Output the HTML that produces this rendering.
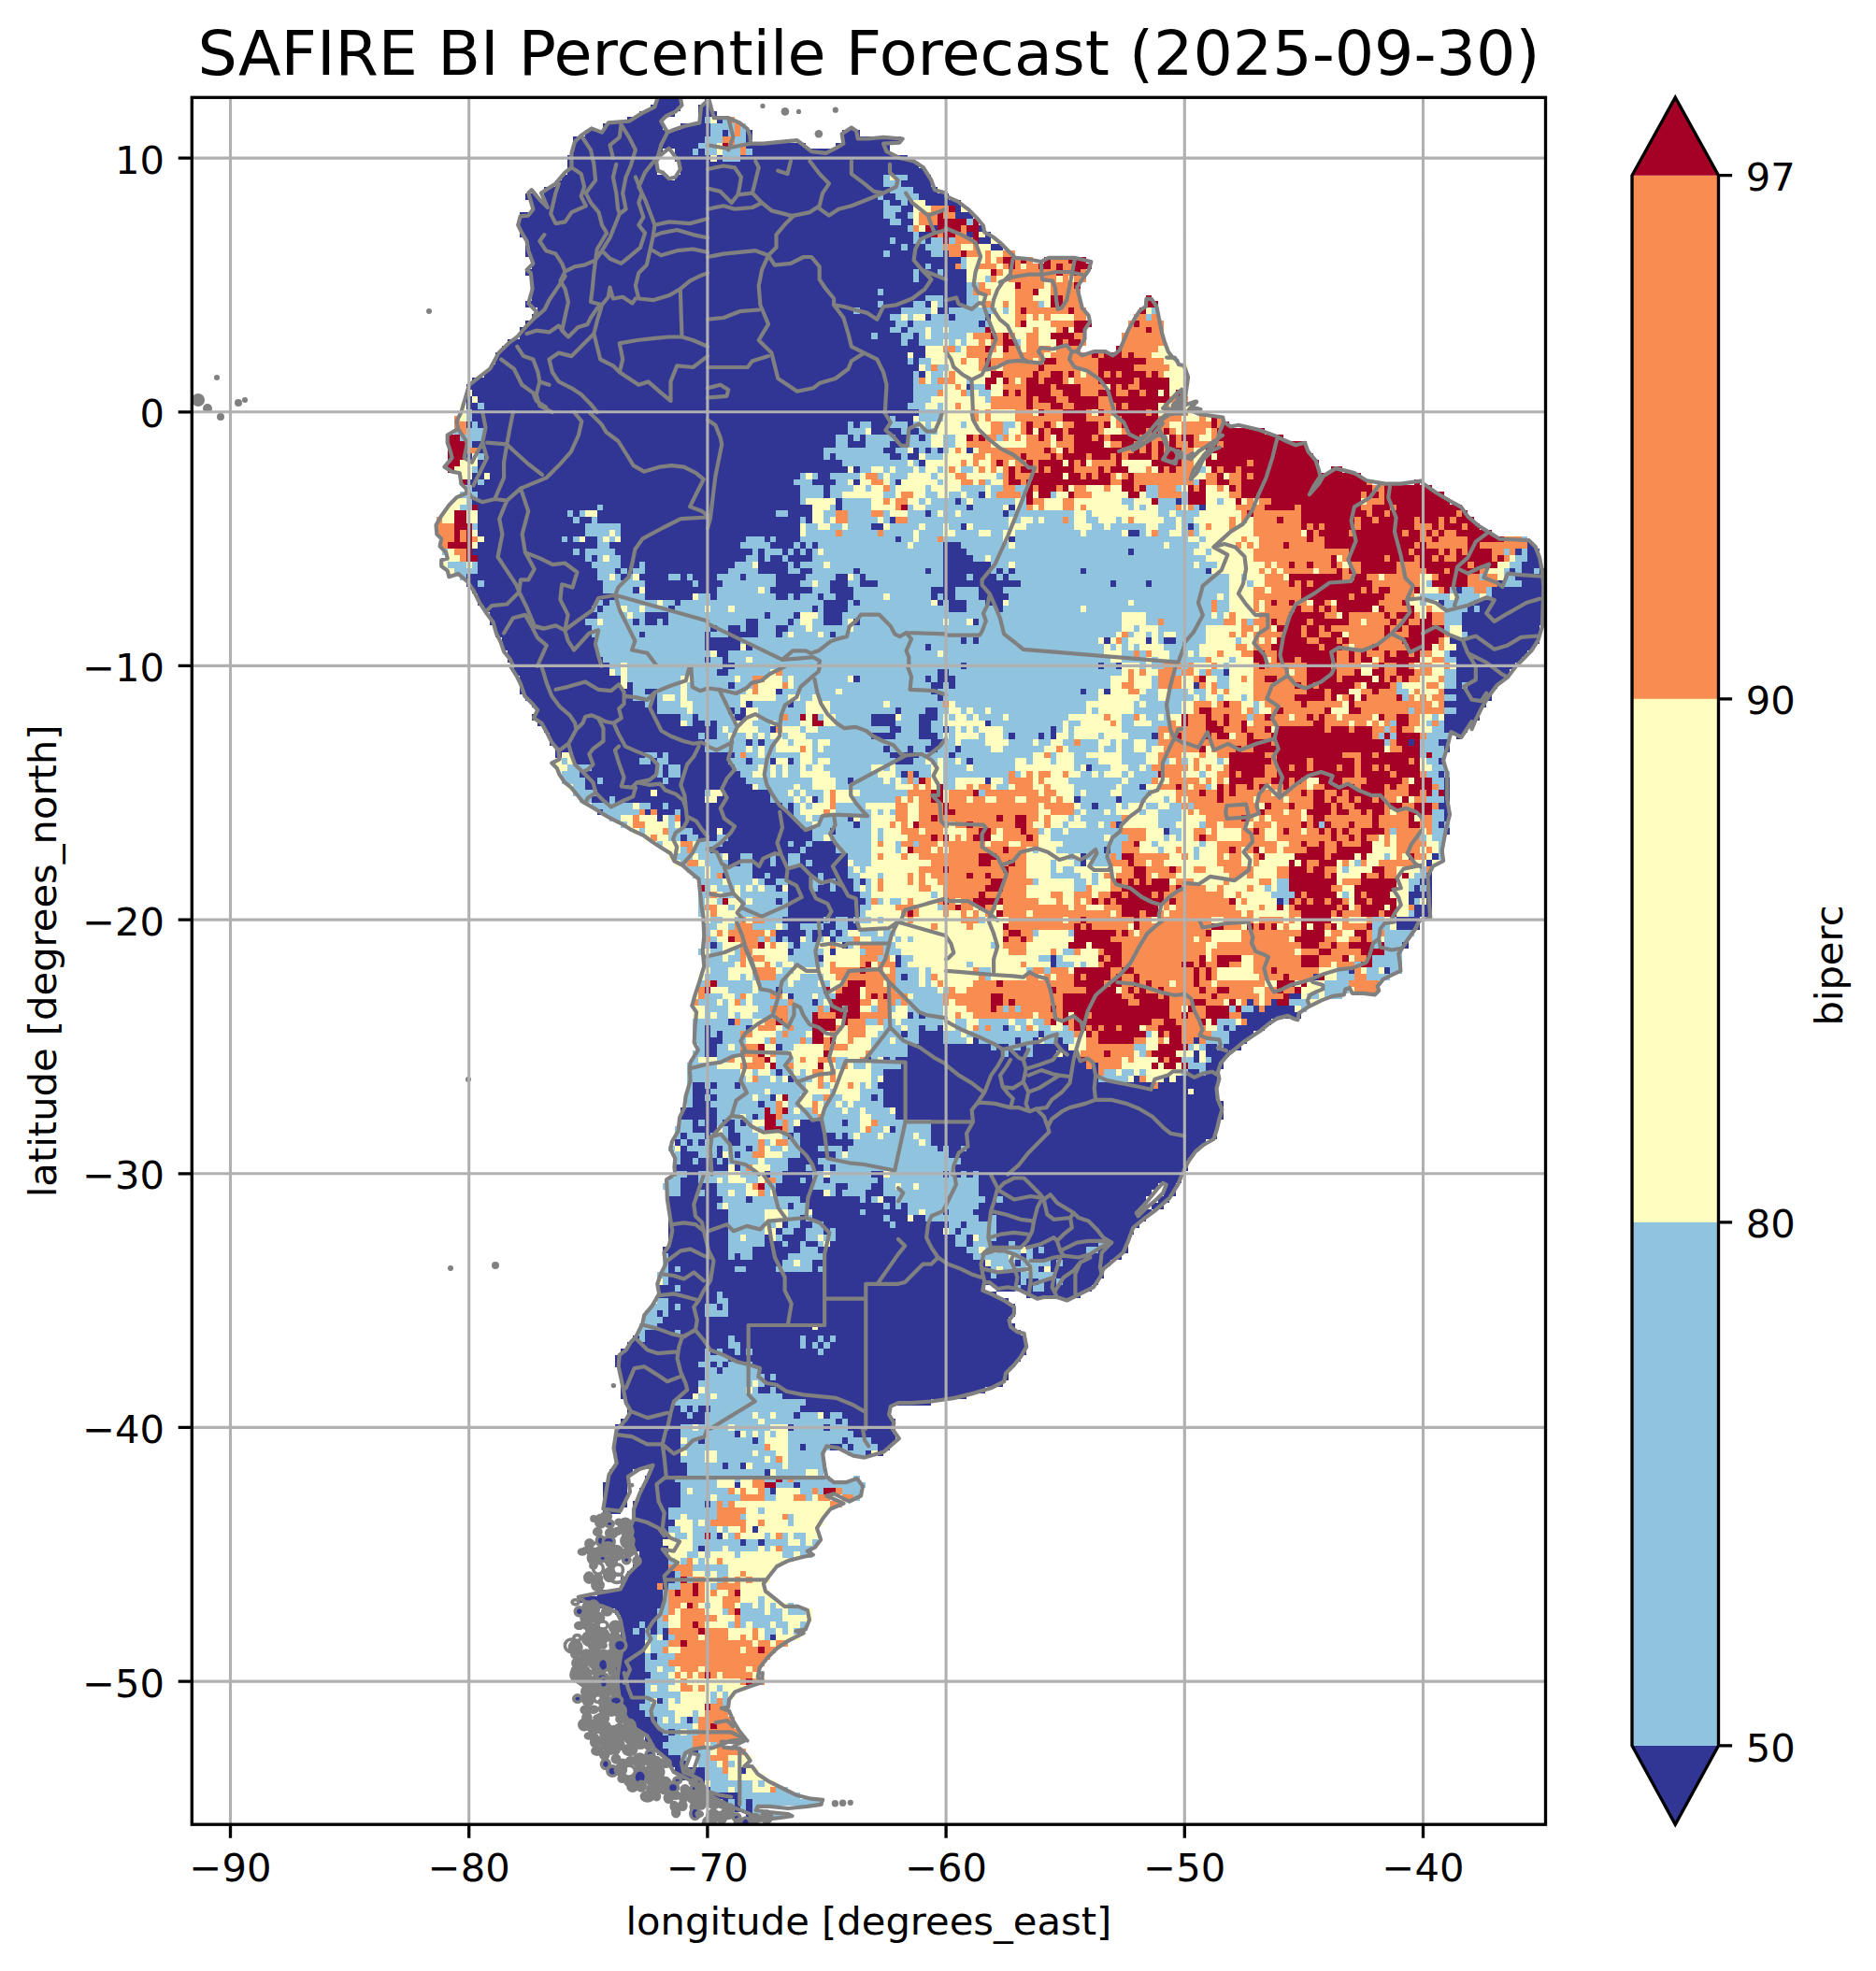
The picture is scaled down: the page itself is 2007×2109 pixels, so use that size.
<!DOCTYPE html><html><head><meta charset="utf-8"><title>SAFIRE BI Percentile Forecast</title><style>html,body{margin:0;padding:0;background:#fff}svg{display:block}text{font-family:"DejaVu Sans","Liberation Sans",sans-serif;fill:#000}</style></head><body>
<svg width="2007" height="2109" viewBox="0 0 2007 2109">
<rect width="2007" height="2109" fill="#fff"/>
<defs><clipPath id="ax"><rect x="205.3" y="104.3" width="1448.2" height="1847.9"/></clipPath></defs>
<g clip-path="url(#ax)">
<g shape-rendering="crispEdges">
<path d="M702.7 105.0H728.2V111.8H702.7ZM753.7 105.0H760.1V111.8H753.7ZM696.3 111.8H728.2V118.6H696.3ZM747.3 111.8H760.1V118.6H747.3ZM683.5 118.6H721.8V125.4H683.5ZM747.3 118.6H766.5V125.4H747.3ZM670.8 125.4H709.0V132.1H670.8ZM747.3 125.4H785.6V132.1H747.3ZM645.2 132.1H709.0V138.9H645.2ZM728.2 132.1H798.4V138.9H728.2ZM626.1 138.9H804.8V145.7H626.1ZM900.5 138.9H919.6V145.7H900.5ZM613.3 145.7H804.8V152.5H613.3ZM900.5 145.7H964.2V152.5H900.5ZM613.3 152.5H862.2V159.3H613.3ZM894.1 152.5H951.5V159.3H894.1ZM613.3 159.3H709.0V166.1H613.3ZM721.8 159.3H951.5V166.1H721.8ZM721.8 166.1H970.6V172.9H721.8ZM728.2 172.9H983.4V179.7H728.2ZM607.0 166.1H702.7V186.5H607.0ZM728.2 179.7H989.8V186.5H728.2ZM600.6 186.5H715.4V193.3H600.6ZM721.8 186.5H996.1V193.3H721.8ZM594.2 193.3H996.1V200.1H594.2ZM581.5 200.1H1002.5V206.9H581.5ZM562.3 206.9H575.1V213.6H562.3ZM581.5 206.9H1015.3V213.6H581.5ZM568.7 213.6H1028.0V220.4H568.7ZM568.7 220.4H1034.4V227.2H568.7ZM555.9 227.2H1040.8V234.0H555.9ZM555.9 234.0H1047.2V240.8H555.9ZM555.9 240.8H1053.6V247.6H555.9ZM555.9 247.6H1059.9V254.4H555.9ZM562.3 254.4H1066.3V261.2H562.3ZM562.3 261.2H1072.7V268.0H562.3ZM562.3 268.0H1085.5V274.8H562.3ZM568.7 274.8H1104.6V281.6H568.7ZM1117.4 274.8H1162.0V281.6H1117.4ZM568.7 281.6H1168.4V288.4H568.7ZM562.3 288.4H1162.0V295.1H562.3ZM568.7 295.1H1162.0V301.9H568.7ZM568.7 301.9H1155.7V322.3H568.7ZM1225.8 315.5H1232.2V322.3H1225.8ZM562.3 322.3H1155.7V329.1H562.3ZM1225.8 322.3H1238.6V329.1H1225.8ZM575.1 329.1H1162.0V335.9H575.1ZM1219.4 329.1H1238.6V335.9H1219.4ZM568.7 335.9H1162.0V342.7H568.7ZM1213.1 335.9H1238.6V342.7H1213.1ZM562.3 342.7H1168.4V349.5H562.3ZM1206.7 342.7H1245.0V356.3H1206.7ZM555.9 349.5H1162.0V363.1H555.9ZM543.2 363.1H1162.0V369.9H543.2ZM1200.3 356.3H1245.0V369.9H1200.3ZM536.8 369.9H1155.7V376.6H536.8ZM1193.9 369.9H1251.3V376.6H1193.9ZM530.4 376.6H1251.3V383.4H530.4ZM530.4 383.4H1257.7V390.2H530.4ZM524.0 390.2H1270.5V397.0H524.0ZM517.6 397.0H1270.5V403.8H517.6ZM504.9 403.8H1270.5V410.6H504.9ZM498.5 410.6H1270.5V431.0H498.5ZM492.1 431.0H1276.9V444.6H492.1ZM485.8 444.6H1308.8V451.4H485.8ZM485.8 451.4H1315.2V458.1H485.8ZM485.8 458.1H1353.4V464.9H485.8ZM479.4 464.9H1372.6V471.7H479.4ZM479.4 471.7H1398.1V485.3H479.4ZM479.4 485.3H1404.5V492.1H479.4ZM479.4 492.1H1410.8V505.7H479.4ZM1423.6 498.9H1436.4V505.7H1423.6ZM492.1 505.7H1455.5V512.5H492.1ZM492.1 512.5H1468.3V519.3H492.1ZM1512.9 512.5H1519.3V519.3H1512.9ZM498.5 519.3H1532.1V526.1H498.5ZM492.1 526.1H1544.8V532.9H492.1ZM485.8 532.9H1551.2V539.6H485.8ZM479.4 539.6H1564.0V546.4H479.4ZM473.0 546.4H1570.3V553.2H473.0ZM466.6 553.2H1576.7V560.0H466.6ZM466.6 560.0H1583.1V566.8H466.6ZM466.6 566.8H1595.9V573.6H466.6ZM473.0 573.6H1634.1V580.4H473.0ZM473.0 580.4H1640.5V587.2H473.0ZM473.0 587.2H1646.9V594.0H473.0ZM479.4 594.0H1646.9V600.8H479.4ZM473.0 600.8H1646.9V607.6H473.0ZM479.4 607.6H1653.3V614.4H479.4ZM492.1 614.4H1653.3V621.1H492.1ZM498.5 621.1H1653.3V627.9H498.5ZM504.9 627.9H1653.3V634.7H504.9ZM511.3 634.7H1653.3V648.3H511.3ZM517.6 648.3H1653.3V655.1H517.6ZM524.0 655.1H1653.3V668.7H524.0ZM530.4 668.7H1646.9V682.3H530.4ZM536.8 682.3H1646.9V689.1H536.8ZM536.8 689.1H1640.5V695.9H536.8ZM543.2 695.9H1634.1V702.6H543.2ZM543.2 702.6H1627.8V709.4H543.2ZM549.5 709.4H1621.4V716.2H549.5ZM549.5 716.2H1615.0V723.0H549.5ZM555.9 723.0H1608.6V729.8H555.9ZM555.9 729.8H1602.2V736.6H555.9ZM555.9 736.6H1595.9V743.4H555.9ZM562.3 743.4H1595.9V750.2H562.3ZM568.7 750.2H1589.5V757.0H568.7ZM575.1 757.0H1583.1V763.8H575.1ZM568.7 763.8H1583.1V770.6H568.7ZM575.1 770.6H1576.7V777.4H575.1ZM581.5 777.4H1570.3V784.1H581.5ZM1557.6 784.1H1564.0V790.9H1557.6ZM587.8 784.1H1551.2V797.7H587.8ZM594.2 797.7H1551.2V804.5H594.2ZM594.2 804.5H1544.8V824.9H594.2ZM600.6 824.9H1551.2V838.5H600.6ZM607.0 838.5H1551.2V845.3H607.0ZM613.3 845.3H1551.2V852.1H613.3ZM619.7 852.1H1551.2V858.9H619.7ZM632.5 858.9H1551.2V865.6H632.5ZM638.9 865.6H1551.2V872.4H638.9ZM651.6 872.4H1551.2V879.2H651.6ZM664.4 879.2H1551.2V886.0H664.4ZM677.1 886.0H1551.2V892.8H677.1ZM689.9 892.8H1544.8V899.6H689.9ZM702.7 899.6H1544.8V906.4H702.7ZM715.4 906.4H1544.8V920.0H715.4ZM721.8 920.0H1538.5V926.8H721.8ZM734.6 926.8H1532.1V933.6H734.6ZM741.0 933.6H1532.1V940.4H741.0ZM747.3 940.4H1532.1V981.1H747.3ZM753.7 981.1H1519.3V994.7H753.7ZM753.7 994.7H1512.9V1001.5H753.7ZM753.7 1001.5H1506.5V1015.1H753.7ZM747.3 1015.1H1500.2V1021.9H747.3ZM753.7 1021.9H1500.2V1042.2H753.7ZM747.3 1042.2H1487.4V1049.0H747.3ZM747.3 1049.0H1474.7V1062.6H747.3ZM741.0 1062.6H1436.4V1069.4H741.0ZM741.0 1069.4H1410.8V1076.2H741.0ZM741.0 1076.2H1398.1V1083.0H741.0ZM741.0 1083.0H1391.7V1089.8H741.0ZM741.0 1089.8H1359.8V1096.6H741.0ZM741.0 1096.6H1353.4V1103.4H741.0ZM741.0 1103.4H1340.7V1110.1H741.0ZM741.0 1110.1H1334.3V1116.9H741.0ZM747.3 1116.9H1327.9V1123.7H747.3ZM741.0 1123.7H1315.2V1130.5H741.0ZM741.0 1130.5H1308.8V1137.3H741.0ZM734.6 1137.3H1308.8V1144.1H734.6ZM734.6 1144.1H1302.4V1178.1H734.6ZM734.6 1178.1H1308.8V1184.9H734.6ZM728.2 1184.9H1308.8V1198.4H728.2ZM728.2 1198.4H1302.4V1205.2H728.2ZM721.8 1205.2H1302.4V1218.8H721.8ZM721.8 1218.8H1289.6V1225.6H721.8ZM715.4 1225.6H1283.2V1232.4H715.4ZM721.8 1232.4H1276.9V1239.2H721.8ZM721.8 1239.2H1270.5V1252.8H721.8ZM721.8 1252.8H1264.1V1259.6H721.8ZM715.4 1259.6H1264.1V1266.4H715.4ZM709.0 1266.4H1238.6V1273.1H709.0ZM715.4 1273.1H1232.2V1279.9H715.4ZM1245.0 1266.4H1257.7V1279.9H1245.0ZM1238.6 1279.9H1251.3V1286.7H1238.6ZM715.4 1279.9H1225.8V1293.5H715.4ZM1232.2 1286.7H1245.0V1293.5H1232.2ZM715.4 1293.5H1232.2V1300.3H715.4ZM715.4 1300.3H1225.8V1307.1H715.4ZM715.4 1307.1H1219.4V1313.9H715.4ZM715.4 1313.9H1213.1V1320.7H715.4ZM715.4 1320.7H1206.7V1334.3H715.4ZM709.0 1334.3H1206.7V1341.1H709.0ZM709.0 1341.1H1200.3V1347.9H709.0ZM709.0 1347.9H1187.5V1354.6H709.0ZM709.0 1354.6H1181.2V1361.4H709.0ZM702.7 1361.4H1181.2V1368.2H702.7ZM702.7 1368.2H1174.8V1375.0H702.7ZM702.7 1375.0H1053.6V1381.8H702.7ZM1066.3 1375.0H1168.4V1381.8H1066.3ZM702.7 1381.8H1066.3V1388.6H702.7ZM1098.2 1381.8H1155.7V1388.6H1098.2ZM702.7 1388.6H1079.1V1395.4H702.7ZM696.3 1395.4H1085.5V1402.2H696.3ZM689.9 1402.2H1085.5V1409.0H689.9ZM689.9 1409.0H1079.1V1415.8H689.9ZM683.5 1415.8H1085.5V1422.6H683.5ZM683.5 1422.6H1091.8V1429.4H683.5ZM677.1 1429.4H1098.2V1436.1H677.1ZM670.8 1436.1H1098.2V1442.9H670.8ZM664.4 1442.9H1098.2V1449.7H664.4ZM658.0 1449.7H1091.8V1456.5H658.0ZM658.0 1456.5H1085.5V1463.3H658.0ZM664.4 1463.3H1079.1V1476.9H664.4ZM664.4 1476.9H1072.7V1483.7H664.4ZM664.4 1483.7H1053.6V1490.5H664.4ZM664.4 1490.5H1034.4V1497.3H664.4ZM670.8 1497.3H996.1V1504.1H670.8ZM670.8 1504.1H951.5V1517.6H670.8ZM664.4 1517.6H957.9V1524.4H664.4ZM658.0 1524.4H957.9V1544.8H658.0ZM658.0 1544.8H951.5V1551.6H658.0ZM906.8 1551.6H945.1V1558.4H906.8ZM658.0 1551.6H881.3V1572.0H658.0ZM651.6 1572.0H677.1V1578.8H651.6ZM696.3 1572.0H881.3V1578.8H696.3ZM651.6 1578.8H670.8V1585.6H651.6ZM689.9 1578.8H887.7V1585.6H689.9ZM913.2 1578.8H919.6V1585.6H913.2ZM689.9 1585.6H926.0V1592.4H689.9ZM683.5 1592.4H919.6V1599.1H683.5ZM683.5 1599.1H887.7V1605.9H683.5ZM900.5 1599.1H919.6V1605.9H900.5ZM645.2 1585.6H670.8V1612.7H645.2ZM677.1 1605.9H900.5V1612.7H677.1ZM645.2 1612.7H664.4V1619.5H645.2ZM677.1 1612.7H887.7V1619.5H677.1ZM677.1 1619.5H881.3V1633.1H677.1ZM670.8 1633.1H874.9V1646.7H670.8ZM677.1 1646.7H874.9V1653.5H677.1ZM677.1 1653.5H868.5V1660.3H677.1ZM683.5 1660.3H868.5V1667.1H683.5ZM683.5 1667.1H843.0V1673.9H683.5ZM677.1 1673.9H830.3V1680.6H677.1ZM670.8 1680.6H823.9V1687.4H670.8ZM664.4 1687.4H823.9V1694.2H664.4ZM664.4 1694.2H817.5V1701.0H664.4ZM638.9 1701.0H823.9V1707.8H638.9ZM619.7 1707.8H830.3V1714.6H619.7ZM638.9 1714.6H849.4V1721.4H638.9ZM658.0 1721.4H868.5V1728.2H658.0ZM664.4 1728.2H868.5V1735.0H664.4ZM664.4 1735.0H862.2V1748.6H664.4ZM664.4 1748.6H855.8V1755.4H664.4ZM664.4 1755.4H843.0V1762.1H664.4ZM664.4 1762.1H830.3V1768.9H664.4ZM664.4 1768.9H823.9V1775.7H664.4ZM664.4 1775.7H817.5V1782.5H664.4ZM658.0 1782.5H811.1V1796.1H658.0ZM658.0 1796.1H817.5V1802.9H658.0ZM658.0 1802.9H798.4V1809.7H658.0ZM664.4 1809.7H785.6V1816.5H664.4ZM664.4 1816.5H779.2V1836.9H664.4ZM670.8 1836.9H785.6V1843.6H670.8ZM677.1 1843.6H785.6V1850.4H677.1ZM683.5 1850.4H792.0V1857.2H683.5ZM689.9 1857.2H798.4V1864.0H689.9ZM696.3 1864.0H772.9V1870.8H696.3ZM702.7 1870.8H798.4V1877.6H702.7ZM709.0 1877.6H734.6V1884.4H709.0ZM747.3 1877.6H804.8V1884.4H747.3ZM715.4 1884.4H734.6V1891.2H715.4ZM747.3 1884.4H798.4V1891.2H747.3ZM721.8 1891.2H811.1V1898.0H721.8ZM728.2 1898.0H817.5V1904.8H728.2ZM741.0 1904.8H830.3V1911.6H741.0ZM753.7 1911.6H843.0V1918.4H753.7ZM760.1 1918.4H855.8V1925.1H760.1ZM772.9 1925.1H881.3V1931.9H772.9ZM785.6 1931.9H811.1V1938.7H785.6ZM798.4 1938.7H843.0V1945.5H798.4ZM804.8 1945.5H811.1V1952.3H804.8Z" fill="#313695"/>
<path d="M753.7 125.4H760.1V132.1H753.7ZM772.9 125.4H779.2V132.1H772.9ZM760.1 132.1H785.6V138.9H760.1ZM760.1 138.9H772.9V145.7H760.1ZM779.2 138.9H785.6V145.7H779.2ZM792.0 132.1H798.4V145.7H792.0ZM753.7 145.7H772.9V152.5H753.7ZM785.6 145.7H798.4V152.5H785.6ZM747.3 152.5H766.5V159.3H747.3ZM785.6 152.5H792.0V159.3H785.6ZM741.0 159.3H747.3V166.1H741.0ZM753.7 159.3H766.5V166.1H753.7ZM798.4 159.3H804.8V166.1H798.4ZM772.9 159.3H792.0V172.9H772.9ZM945.1 186.5H951.5V193.3H945.1ZM957.9 186.5H970.6V193.3H957.9ZM945.1 193.3H964.2V200.1H945.1ZM951.5 200.1H977.0V206.9H951.5ZM938.7 206.9H945.1V213.6H938.7ZM957.9 206.9H983.4V213.6H957.9ZM945.1 213.6H951.5V220.4H945.1ZM964.2 213.6H970.6V220.4H964.2ZM945.1 220.4H964.2V227.2H945.1ZM945.1 227.2H957.9V234.0H945.1ZM970.6 227.2H977.0V234.0H970.6ZM951.5 234.0H964.2V240.8H951.5ZM1034.4 234.0H1040.8V240.8H1034.4ZM970.6 240.8H977.0V247.6H970.6ZM977.0 247.6H983.4V254.4H977.0ZM951.5 254.4H957.9V261.2H951.5ZM977.0 254.4H989.8V261.2H977.0ZM996.1 254.4H1008.9V261.2H996.1ZM1015.3 254.4H1021.7V261.2H1015.3ZM964.2 261.2H970.6V268.0H964.2ZM989.8 261.2H1008.9V268.0H989.8ZM945.1 268.0H951.5V274.8H945.1ZM996.1 268.0H1008.9V274.8H996.1ZM989.8 281.6H996.1V288.4H989.8ZM1028.0 274.8H1034.4V288.4H1028.0ZM1002.5 288.4H1008.9V295.1H1002.5ZM977.0 288.4H983.4V301.9H977.0ZM1053.6 295.1H1059.9V301.9H1053.6ZM1034.4 301.9H1047.2V308.7H1034.4ZM938.7 308.7H945.1V315.5H938.7ZM1034.4 308.7H1040.8V315.5H1034.4ZM989.8 315.5H1008.9V322.3H989.8ZM938.7 322.3H945.1V329.1H938.7ZM977.0 322.3H989.8V329.1H977.0ZM1002.5 322.3H1008.9V329.1H1002.5ZM1034.4 315.5H1047.2V329.1H1034.4ZM1111.0 322.3H1117.4V329.1H1111.0ZM913.2 329.1H919.6V335.9H913.2ZM964.2 329.1H996.1V335.9H964.2ZM1015.3 329.1H1066.3V335.9H1015.3ZM1072.7 329.1H1079.1V335.9H1072.7ZM1232.2 329.1H1238.6V335.9H1232.2ZM951.5 335.9H964.2V342.7H951.5ZM970.6 335.9H977.0V342.7H970.6ZM996.1 335.9H1015.3V342.7H996.1ZM1021.7 335.9H1053.6V342.7H1021.7ZM1225.8 335.9H1232.2V342.7H1225.8ZM957.9 342.7H970.6V349.5H957.9ZM977.0 342.7H1047.2V349.5H977.0ZM1053.6 342.7H1059.9V349.5H1053.6ZM951.5 349.5H964.2V356.3H951.5ZM970.6 349.5H989.8V356.3H970.6ZM996.1 349.5H1008.9V356.3H996.1ZM1015.3 349.5H1053.6V356.3H1015.3ZM932.4 356.3H938.7V363.1H932.4ZM964.2 356.3H977.0V363.1H964.2ZM983.4 356.3H989.8V363.1H983.4ZM996.1 356.3H1034.4V363.1H996.1ZM964.2 363.1H970.6V369.9H964.2ZM983.4 363.1H1008.9V369.9H983.4ZM1015.3 363.1H1021.7V369.9H1015.3ZM1028.0 363.1H1034.4V369.9H1028.0ZM1085.5 363.1H1091.8V369.9H1085.5ZM1021.7 369.9H1028.0V376.6H1021.7ZM970.6 383.4H977.0V390.2H970.6ZM983.4 383.4H996.1V390.2H983.4ZM989.8 390.2H996.1V397.0H989.8ZM1002.5 390.2H1015.3V397.0H1002.5ZM996.1 397.0H1008.9V403.8H996.1ZM977.0 397.0H983.4V410.6H977.0ZM996.1 403.8H1002.5V410.6H996.1ZM1034.4 403.8H1040.8V410.6H1034.4ZM977.0 410.6H1008.9V417.4H977.0ZM1040.8 410.6H1053.6V417.4H1040.8ZM977.0 417.4H1002.5V424.2H977.0ZM1034.4 417.4H1040.8V424.2H1034.4ZM1047.2 417.4H1059.9V424.2H1047.2ZM977.0 424.2H996.1V431.0H977.0ZM1053.6 424.2H1059.9V431.0H1053.6ZM511.3 431.0H517.6V437.8H511.3ZM970.6 431.0H989.8V437.8H970.6ZM1002.5 431.0H1008.9V437.8H1002.5ZM498.5 437.8H504.9V451.4H498.5ZM951.5 444.6H957.9V451.4H951.5ZM983.4 437.8H1008.9V451.4H983.4ZM504.9 451.4H511.3V458.1H504.9ZM906.8 451.4H913.2V458.1H906.8ZM919.6 451.4H932.4V458.1H919.6ZM951.5 451.4H970.6V458.1H951.5ZM977.0 451.4H983.4V458.1H977.0ZM989.8 451.4H996.1V458.1H989.8ZM1028.0 451.4H1034.4V458.1H1028.0ZM1072.7 451.4H1085.5V458.1H1072.7ZM485.8 458.1H492.1V464.9H485.8ZM498.5 458.1H517.6V464.9H498.5ZM906.8 458.1H926.0V464.9H906.8ZM964.2 458.1H970.6V464.9H964.2ZM983.4 458.1H1002.5V464.9H983.4ZM1072.7 458.1H1079.1V464.9H1072.7ZM492.1 464.9H517.6V471.7H492.1ZM913.2 464.9H919.6V471.7H913.2ZM926.0 464.9H957.9V471.7H926.0ZM970.6 464.9H983.4V471.7H970.6ZM989.8 464.9H996.1V471.7H989.8ZM1066.3 464.9H1072.7V471.7H1066.3ZM498.5 471.7H504.9V478.5H498.5ZM894.1 464.9H906.8V478.5H894.1ZM926.0 471.7H951.5V478.5H926.0ZM970.6 471.7H996.1V478.5H970.6ZM1008.9 464.9H1021.7V478.5H1008.9ZM881.3 478.5H945.1V485.3H881.3ZM957.9 478.5H970.6V485.3H957.9ZM983.4 478.5H989.8V485.3H983.4ZM996.1 478.5H1002.5V485.3H996.1ZM1008.9 478.5H1015.3V485.3H1008.9ZM511.3 485.3H517.6V492.1H511.3ZM881.3 485.3H887.7V492.1H881.3ZM894.1 485.3H951.5V492.1H894.1ZM964.2 485.3H970.6V492.1H964.2ZM989.8 485.3H1008.9V492.1H989.8ZM900.5 492.1H970.6V498.9H900.5ZM977.0 492.1H983.4V498.9H977.0ZM504.9 498.9H511.3V505.7H504.9ZM919.6 498.9H932.4V505.7H919.6ZM945.1 498.9H951.5V505.7H945.1ZM957.9 498.9H977.0V505.7H957.9ZM983.4 498.9H989.8V505.7H983.4ZM1002.5 498.9H1008.9V505.7H1002.5ZM1028.0 498.9H1040.8V505.7H1028.0ZM1283.2 498.9H1289.6V505.7H1283.2ZM855.8 505.7H862.2V512.5H855.8ZM868.5 505.7H874.9V512.5H868.5ZM887.7 505.7H919.6V512.5H887.7ZM938.7 505.7H945.1V512.5H938.7ZM951.5 505.7H970.6V512.5H951.5ZM996.1 505.7H1002.5V512.5H996.1ZM1066.3 505.7H1072.7V512.5H1066.3ZM511.3 512.5H517.6V519.3H511.3ZM849.4 512.5H868.5V519.3H849.4ZM894.1 512.5H906.8V519.3H894.1ZM1002.5 512.5H1008.9V519.3H1002.5ZM1053.6 512.5H1059.9V519.3H1053.6ZM1276.9 512.5H1283.2V519.3H1276.9ZM498.5 519.3H504.9V526.1H498.5ZM887.7 519.3H913.2V526.1H887.7ZM926.0 519.3H932.4V526.1H926.0ZM951.5 512.5H957.9V526.1H951.5ZM989.8 519.3H996.1V526.1H989.8ZM1028.0 519.3H1053.6V526.1H1028.0ZM1059.9 519.3H1072.7V526.1H1059.9ZM1085.5 519.3H1098.2V526.1H1085.5ZM1257.7 519.3H1264.1V526.1H1257.7ZM492.1 526.1H511.3V532.9H492.1ZM855.8 519.3H881.3V532.9H855.8ZM887.7 526.1H900.5V532.9H887.7ZM945.1 526.1H957.9V532.9H945.1ZM989.8 526.1H1002.5V532.9H989.8ZM1015.3 526.1H1028.0V532.9H1015.3ZM1034.4 526.1H1047.2V532.9H1034.4ZM1059.9 526.1H1066.3V532.9H1059.9ZM1123.8 526.1H1130.1V532.9H1123.8ZM1225.8 519.3H1238.6V532.9H1225.8ZM498.5 532.9H504.9V539.6H498.5ZM855.8 532.9H862.2V539.6H855.8ZM983.4 532.9H989.8V539.6H983.4ZM996.1 532.9H1021.7V539.6H996.1ZM1028.0 532.9H1034.4V539.6H1028.0ZM1040.8 532.9H1085.5V539.6H1040.8ZM1200.3 532.9H1213.1V539.6H1200.3ZM1264.1 526.1H1270.5V539.6H1264.1ZM1302.4 532.9H1308.8V539.6H1302.4ZM492.1 539.6H504.9V546.4H492.1ZM638.9 539.6H645.2V546.4H638.9ZM887.7 539.6H894.1V546.4H887.7ZM900.5 532.9H932.4V546.4H900.5ZM970.6 539.6H977.0V546.4H970.6ZM989.8 539.6H1034.4V546.4H989.8ZM1040.8 539.6H1072.7V546.4H1040.8ZM1091.8 526.1H1098.2V546.4H1091.8ZM1206.7 539.6H1213.1V546.4H1206.7ZM1219.4 539.6H1225.8V546.4H1219.4ZM1238.6 532.9H1257.7V546.4H1238.6ZM1276.9 539.6H1283.2V546.4H1276.9ZM607.0 546.4H613.3V553.2H607.0ZM619.7 546.4H626.1V553.2H619.7ZM830.3 546.4H843.0V553.2H830.3ZM881.3 546.4H894.1V553.2H881.3ZM906.8 546.4H932.4V553.2H906.8ZM970.6 546.4H989.8V553.2H970.6ZM996.1 546.4H1002.5V553.2H996.1ZM1008.9 546.4H1021.7V553.2H1008.9ZM1028.0 546.4H1072.7V553.2H1028.0ZM1079.1 546.4H1149.3V553.2H1079.1ZM1162.0 546.4H1168.4V553.2H1162.0ZM1238.6 546.4H1251.3V553.2H1238.6ZM1257.7 546.4H1283.2V553.2H1257.7ZM613.3 553.2H619.7V560.0H613.3ZM632.5 553.2H638.9V560.0H632.5ZM855.8 553.2H862.2V560.0H855.8ZM881.3 553.2H887.7V560.0H881.3ZM906.8 553.2H938.7V560.0H906.8ZM945.1 546.4H951.5V560.0H945.1ZM970.6 553.2H1079.1V560.0H970.6ZM1085.5 553.2H1091.8V560.0H1085.5ZM1104.6 553.2H1111.0V560.0H1104.6ZM1117.4 553.2H1136.5V560.0H1117.4ZM1142.9 553.2H1149.3V560.0H1142.9ZM1162.0 553.2H1174.8V560.0H1162.0ZM1193.9 553.2H1200.3V560.0H1193.9ZM1245.0 553.2H1257.7V560.0H1245.0ZM1264.1 553.2H1276.9V560.0H1264.1ZM504.9 560.0H511.3V566.8H504.9ZM626.1 560.0H664.4V566.8H626.1ZM862.2 560.0H874.9V566.8H862.2ZM887.7 560.0H900.5V566.8H887.7ZM906.8 560.0H932.4V566.8H906.8ZM951.5 560.0H983.4V566.8H951.5ZM989.8 560.0H1008.9V566.8H989.8ZM1015.3 560.0H1028.0V566.8H1015.3ZM1040.8 560.0H1079.1V566.8H1040.8ZM1098.2 560.0H1149.3V566.8H1098.2ZM1168.4 560.0H1181.2V566.8H1168.4ZM1187.5 560.0H1225.8V566.8H1187.5ZM1238.6 560.0H1257.7V566.8H1238.6ZM626.1 566.8H651.6V573.6H626.1ZM658.0 566.8H664.4V573.6H658.0ZM862.2 566.8H894.1V573.6H862.2ZM900.5 566.8H938.7V573.6H900.5ZM945.1 566.8H977.0V573.6H945.1ZM983.4 566.8H1008.9V573.6H983.4ZM1021.7 566.8H1047.2V573.6H1021.7ZM1059.9 566.8H1072.7V573.6H1059.9ZM1085.5 566.8H1155.7V573.6H1085.5ZM1162.0 566.8H1200.3V573.6H1162.0ZM1219.4 566.8H1225.8V573.6H1219.4ZM1238.6 566.8H1251.3V573.6H1238.6ZM1264.1 560.0H1270.5V573.6H1264.1ZM1276.9 560.0H1283.2V573.6H1276.9ZM600.6 573.6H607.0V580.4H600.6ZM613.3 573.6H619.7V580.4H613.3ZM638.9 573.6H645.2V580.4H638.9ZM651.6 573.6H658.0V580.4H651.6ZM798.4 573.6H817.5V580.4H798.4ZM823.9 573.6H830.3V580.4H823.9ZM855.8 573.6H957.9V580.4H855.8ZM964.2 573.6H977.0V580.4H964.2ZM983.4 573.6H1002.5V580.4H983.4ZM1008.9 573.6H1072.7V580.4H1008.9ZM1085.5 573.6H1270.5V580.4H1085.5ZM1283.2 573.6H1289.6V580.4H1283.2ZM1627.8 573.6H1634.1V580.4H1627.8ZM638.9 580.4H651.6V587.2H638.9ZM792.0 580.4H823.9V587.2H792.0ZM849.4 580.4H855.8V587.2H849.4ZM862.2 580.4H868.5V587.2H862.2ZM874.9 580.4H970.6V587.2H874.9ZM977.0 580.4H1008.9V587.2H977.0ZM1028.0 580.4H1079.1V587.2H1028.0ZM1085.5 580.4H1245.0V587.2H1085.5ZM1251.3 580.4H1283.2V587.2H1251.3ZM473.0 587.2H479.4V594.0H473.0ZM613.3 587.2H619.7V594.0H613.3ZM626.1 587.2H658.0V594.0H626.1ZM804.8 587.2H811.1V594.0H804.8ZM817.5 587.2H836.6V594.0H817.5ZM843.0 587.2H849.4V594.0H843.0ZM855.8 587.2H862.2V594.0H855.8ZM868.5 587.2H874.9V594.0H868.5ZM881.3 587.2H1008.9V594.0H881.3ZM1034.4 587.2H1206.7V594.0H1034.4ZM1213.1 587.2H1276.9V594.0H1213.1ZM1289.6 587.2H1296.0V594.0H1289.6ZM1608.6 587.2H1615.0V594.0H1608.6ZM1627.8 587.2H1634.1V594.0H1627.8ZM626.1 594.0H632.5V600.8H626.1ZM638.9 594.0H645.2V600.8H638.9ZM651.6 594.0H664.4V600.8H651.6ZM798.4 594.0H811.1V600.8H798.4ZM817.5 594.0H823.9V600.8H817.5ZM836.6 594.0H843.0V600.8H836.6ZM868.5 594.0H1008.9V600.8H868.5ZM1040.8 594.0H1053.6V600.8H1040.8ZM1059.9 594.0H1289.6V600.8H1059.9ZM1621.4 594.0H1634.1V600.8H1621.4ZM479.4 600.8H498.5V607.6H479.4ZM504.9 600.8H511.3V607.6H504.9ZM632.5 600.8H664.4V607.6H632.5ZM683.5 600.8H689.9V607.6H683.5ZM785.6 600.8H804.8V607.6H785.6ZM843.0 600.8H849.4V607.6H843.0ZM855.8 600.8H881.3V607.6H855.8ZM887.7 600.8H1008.9V607.6H887.7ZM1059.9 600.8H1079.1V607.6H1059.9ZM1085.5 600.8H1276.9V607.6H1085.5ZM1283.2 600.8H1302.4V607.6H1283.2ZM1615.0 600.8H1627.8V607.6H1615.0ZM485.8 607.6H511.3V614.4H485.8ZM638.9 607.6H658.0V614.4H638.9ZM664.4 607.6H670.8V614.4H664.4ZM677.1 607.6H689.9V614.4H677.1ZM779.2 607.6H811.1V614.4H779.2ZM843.0 607.6H855.8V614.4H843.0ZM868.5 607.6H913.2V614.4H868.5ZM919.6 607.6H989.8V614.4H919.6ZM996.1 607.6H1008.9V614.4H996.1ZM1059.9 607.6H1066.3V614.4H1059.9ZM1072.7 607.6H1079.1V614.4H1072.7ZM1085.5 607.6H1155.7V614.4H1085.5ZM1162.0 607.6H1289.6V614.4H1162.0ZM1608.6 607.6H1615.0V614.4H1608.6ZM1621.4 607.6H1627.8V614.4H1621.4ZM1640.5 607.6H1646.9V614.4H1640.5ZM492.1 614.4H498.5V621.1H492.1ZM638.9 614.4H651.6V621.1H638.9ZM658.0 614.4H664.4V621.1H658.0ZM670.8 614.4H677.1V621.1H670.8ZM715.4 614.4H728.2V621.1H715.4ZM734.6 614.4H741.0V621.1H734.6ZM766.5 614.4H792.0V621.1H766.5ZM798.4 614.4H830.3V621.1H798.4ZM862.2 614.4H894.1V621.1H862.2ZM913.2 614.4H919.6V621.1H913.2ZM926.0 614.4H1008.9V621.1H926.0ZM1034.4 614.4H1040.8V621.1H1034.4ZM1066.3 614.4H1072.7V621.1H1066.3ZM1079.1 614.4H1315.2V621.1H1079.1ZM1327.9 614.4H1334.3V621.1H1327.9ZM1583.1 614.4H1589.5V621.1H1583.1ZM1608.6 614.4H1621.4V621.1H1608.6ZM511.3 621.1H517.6V627.9H511.3ZM645.2 621.1H689.9V627.9H645.2ZM741.0 621.1H747.3V627.9H741.0ZM772.9 621.1H830.3V627.9H772.9ZM855.8 621.1H868.5V627.9H855.8ZM874.9 621.1H887.7V627.9H874.9ZM906.8 621.1H919.6V627.9H906.8ZM938.7 621.1H1008.9V627.9H938.7ZM1091.8 621.1H1187.5V627.9H1091.8ZM1193.9 621.1H1225.8V627.9H1193.9ZM1232.2 621.1H1315.2V627.9H1232.2ZM1334.3 621.1H1340.7V627.9H1334.3ZM1525.7 621.1H1532.1V627.9H1525.7ZM1608.6 621.1H1627.8V627.9H1608.6ZM645.2 627.9H677.1V634.7H645.2ZM766.5 627.9H811.1V634.7H766.5ZM817.5 627.9H823.9V634.7H817.5ZM868.5 627.9H887.7V634.7H868.5ZM913.2 627.9H996.1V634.7H913.2ZM1072.7 627.9H1315.2V634.7H1072.7ZM1551.2 627.9H1557.6V634.7H1551.2ZM1564.0 627.9H1576.7V634.7H1564.0ZM658.0 634.7H689.9V641.5H658.0ZM747.3 634.7H760.1V641.5H747.3ZM766.5 634.7H830.3V641.5H766.5ZM843.0 634.7H849.4V641.5H843.0ZM855.8 634.7H874.9V641.5H855.8ZM881.3 634.7H894.1V641.5H881.3ZM913.2 634.7H945.1V641.5H913.2ZM951.5 634.7H996.1V641.5H951.5ZM1002.5 634.7H1008.9V641.5H1002.5ZM1021.7 627.9H1047.2V641.5H1021.7ZM1079.1 634.7H1302.4V641.5H1079.1ZM1308.8 634.7H1315.2V641.5H1308.8ZM1519.3 634.7H1551.2V641.5H1519.3ZM1557.6 634.7H1583.1V641.5H1557.6ZM1589.5 627.9H1595.9V641.5H1589.5ZM638.9 641.5H645.2V648.3H638.9ZM651.6 641.5H702.7V648.3H651.6ZM709.0 641.5H721.8V648.3H709.0ZM728.2 641.5H881.3V648.3H728.2ZM906.8 641.5H913.2V648.3H906.8ZM919.6 641.5H996.1V648.3H919.6ZM1008.9 641.5H1015.3V648.3H1008.9ZM1034.4 641.5H1053.6V648.3H1034.4ZM1079.1 641.5H1206.7V648.3H1079.1ZM1213.1 641.5H1296.0V648.3H1213.1ZM1519.3 641.5H1525.7V648.3H1519.3ZM1544.8 641.5H1576.7V648.3H1544.8ZM632.5 648.3H638.9V655.1H632.5ZM645.2 648.3H664.4V655.1H645.2ZM670.8 648.3H683.5V655.1H670.8ZM689.9 648.3H715.4V655.1H689.9ZM721.8 648.3H753.7V655.1H721.8ZM760.1 648.3H779.2V655.1H760.1ZM785.6 648.3H868.5V655.1H785.6ZM906.8 648.3H1015.3V655.1H906.8ZM1034.4 648.3H1066.3V655.1H1034.4ZM1072.7 648.3H1155.7V655.1H1072.7ZM1162.0 648.3H1296.0V655.1H1162.0ZM1302.4 641.5H1315.2V655.1H1302.4ZM1544.8 648.3H1570.3V655.1H1544.8ZM1576.7 648.3H1583.1V655.1H1576.7ZM638.9 655.1H670.8V661.9H638.9ZM677.1 655.1H689.9V661.9H677.1ZM715.4 655.1H817.5V661.9H715.4ZM823.9 655.1H849.4V661.9H823.9ZM874.9 648.3H881.3V661.9H874.9ZM900.5 655.1H1200.3V661.9H900.5ZM1225.8 655.1H1296.0V661.9H1225.8ZM1302.4 655.1H1308.8V661.9H1302.4ZM626.1 661.9H638.9V668.7H626.1ZM645.2 661.9H677.1V668.7H645.2ZM683.5 661.9H689.9V668.7H683.5ZM702.7 661.9H709.0V668.7H702.7ZM715.4 661.9H798.4V668.7H715.4ZM811.1 661.9H843.0V668.7H811.1ZM849.4 661.9H855.8V668.7H849.4ZM868.5 661.9H881.3V668.7H868.5ZM900.5 661.9H906.8V668.7H900.5ZM919.6 661.9H1008.9V668.7H919.6ZM1015.3 661.9H1034.4V668.7H1015.3ZM1047.2 661.9H1200.3V668.7H1047.2ZM1225.8 661.9H1238.6V668.7H1225.8ZM1245.0 661.9H1308.8V668.7H1245.0ZM1334.3 661.9H1340.7V668.7H1334.3ZM1544.8 655.1H1564.0V668.7H1544.8ZM632.5 668.7H760.1V675.5H632.5ZM766.5 668.7H779.2V675.5H766.5ZM792.0 668.7H798.4V675.5H792.0ZM843.0 668.7H862.2V675.5H843.0ZM868.5 668.7H906.8V675.5H868.5ZM913.2 668.7H1200.3V675.5H913.2ZM1213.1 668.7H1219.4V675.5H1213.1ZM1238.6 668.7H1289.6V675.5H1238.6ZM1544.8 668.7H1551.2V675.5H1544.8ZM632.5 675.5H683.5V682.3H632.5ZM689.9 675.5H753.7V682.3H689.9ZM760.1 675.5H779.2V682.3H760.1ZM811.1 668.7H830.3V682.3H811.1ZM836.6 675.5H843.0V682.3H836.6ZM849.4 675.5H874.9V682.3H849.4ZM881.3 675.5H887.7V682.3H881.3ZM894.1 675.5H1193.9V682.3H894.1ZM1206.7 675.5H1213.1V682.3H1206.7ZM1225.8 675.5H1232.2V682.3H1225.8ZM1564.0 675.5H1570.3V682.3H1564.0ZM792.0 682.3H1028.0V689.1H792.0ZM1034.4 682.3H1040.8V689.1H1034.4ZM1047.2 682.3H1174.8V689.1H1047.2ZM1238.6 675.5H1245.0V689.1H1238.6ZM1257.7 675.5H1289.6V689.1H1257.7ZM1321.5 682.3H1327.9V689.1H1321.5ZM638.9 682.3H753.7V695.9H638.9ZM804.8 689.1H989.8V695.9H804.8ZM996.1 689.1H1181.2V695.9H996.1ZM1187.5 689.1H1193.9V695.9H1187.5ZM1200.3 682.3H1206.7V695.9H1200.3ZM1213.1 689.1H1219.4V695.9H1213.1ZM1245.0 689.1H1283.2V695.9H1245.0ZM638.9 695.9H760.1V702.6H638.9ZM779.2 695.9H1002.5V702.6H779.2ZM1008.9 695.9H1181.2V702.6H1008.9ZM1200.3 695.9H1213.1V702.6H1200.3ZM1219.4 695.9H1225.8V702.6H1219.4ZM1251.3 695.9H1270.5V702.6H1251.3ZM1276.9 695.9H1283.2V702.6H1276.9ZM1544.8 695.9H1551.2V702.6H1544.8ZM645.2 702.6H753.7V709.4H645.2ZM760.1 702.6H772.9V709.4H760.1ZM779.2 702.6H798.4V709.4H779.2ZM804.8 702.6H1187.5V709.4H804.8ZM1200.3 702.6H1225.8V709.4H1200.3ZM1232.2 702.6H1238.6V709.4H1232.2ZM1251.3 702.6H1289.6V709.4H1251.3ZM1315.2 702.6H1321.5V709.4H1315.2ZM1544.8 702.6H1557.6V709.4H1544.8ZM651.6 709.4H664.4V716.2H651.6ZM670.8 709.4H772.9V716.2H670.8ZM785.6 709.4H1028.0V716.2H785.6ZM1034.4 709.4H1174.8V716.2H1034.4ZM1181.2 709.4H1193.9V716.2H1181.2ZM1219.4 709.4H1225.8V716.2H1219.4ZM1232.2 709.4H1245.0V716.2H1232.2ZM1264.1 709.4H1270.5V716.2H1264.1ZM1308.8 709.4H1315.2V716.2H1308.8ZM658.0 716.2H664.4V723.0H658.0ZM670.8 716.2H766.5V723.0H670.8ZM779.2 716.2H823.9V723.0H779.2ZM836.6 716.2H1002.5V723.0H836.6ZM1015.3 716.2H1200.3V723.0H1015.3ZM1257.7 716.2H1264.1V723.0H1257.7ZM1283.2 716.2H1289.6V723.0H1283.2ZM1296.0 716.2H1308.8V723.0H1296.0ZM670.8 723.0H728.2V729.8H670.8ZM741.0 723.0H785.6V729.8H741.0ZM792.0 723.0H804.8V729.8H792.0ZM836.6 723.0H843.0V729.8H836.6ZM849.4 723.0H906.8V729.8H849.4ZM919.6 723.0H989.8V729.8H919.6ZM996.1 723.0H1002.5V729.8H996.1ZM677.1 729.8H728.2V736.6H677.1ZM734.6 729.8H779.2V736.6H734.6ZM785.6 729.8H804.8V736.6H785.6ZM849.4 729.8H996.1V736.6H849.4ZM1008.9 729.8H1015.3V736.6H1008.9ZM1021.7 723.0H1187.5V736.6H1021.7ZM1232.2 723.0H1238.6V736.6H1232.2ZM1302.4 723.0H1315.2V736.6H1302.4ZM1493.8 729.8H1500.2V736.6H1493.8ZM1544.8 716.2H1557.6V736.6H1544.8ZM1564.0 729.8H1570.3V736.6H1564.0ZM677.1 736.6H689.9V743.4H677.1ZM702.7 736.6H728.2V743.4H702.7ZM734.6 736.6H798.4V743.4H734.6ZM836.6 736.6H894.1V743.4H836.6ZM900.5 736.6H996.1V743.4H900.5ZM1002.5 736.6H1155.7V743.4H1002.5ZM1162.0 736.6H1174.8V743.4H1162.0ZM1225.8 736.6H1238.6V743.4H1225.8ZM1251.3 736.6H1270.5V743.4H1251.3ZM1276.9 736.6H1289.6V743.4H1276.9ZM1493.8 736.6H1506.5V743.4H1493.8ZM677.1 743.4H696.3V750.2H677.1ZM702.7 743.4H709.0V750.2H702.7ZM721.8 743.4H728.2V750.2H721.8ZM734.6 743.4H792.0V750.2H734.6ZM830.3 743.4H843.0V750.2H830.3ZM855.8 743.4H868.5V750.2H855.8ZM874.9 743.4H1002.5V750.2H874.9ZM1008.9 743.4H1174.8V750.2H1008.9ZM1219.4 743.4H1238.6V750.2H1219.4ZM1251.3 743.4H1276.9V750.2H1251.3ZM1283.2 743.4H1289.6V750.2H1283.2ZM1302.4 743.4H1308.8V750.2H1302.4ZM1327.9 743.4H1334.3V750.2H1327.9ZM1500.2 743.4H1506.5V750.2H1500.2ZM1544.8 743.4H1557.6V750.2H1544.8ZM689.9 750.2H696.3V757.0H689.9ZM702.7 750.2H728.2V757.0H702.7ZM741.0 750.2H792.0V757.0H741.0ZM804.8 750.2H843.0V757.0H804.8ZM849.4 750.2H862.2V757.0H849.4ZM887.7 750.2H945.1V757.0H887.7ZM951.5 750.2H1008.9V757.0H951.5ZM1021.7 750.2H1162.0V757.0H1021.7ZM1213.1 750.2H1219.4V757.0H1213.1ZM1225.8 750.2H1264.1V757.0H1225.8ZM702.7 757.0H734.6V763.8H702.7ZM741.0 757.0H779.2V763.8H741.0ZM785.6 757.0H792.0V763.8H785.6ZM811.1 757.0H862.2V763.8H811.1ZM887.7 757.0H957.9V763.8H887.7ZM964.2 757.0H989.8V763.8H964.2ZM1002.5 757.0H1015.3V763.8H1002.5ZM1028.0 757.0H1034.4V763.8H1028.0ZM1040.8 757.0H1053.6V763.8H1040.8ZM1059.9 757.0H1162.0V763.8H1059.9ZM1168.4 757.0H1174.8V763.8H1168.4ZM1213.1 757.0H1264.1V763.8H1213.1ZM1340.7 750.2H1347.0V763.8H1340.7ZM1506.5 757.0H1512.9V763.8H1506.5ZM1544.8 757.0H1557.6V763.8H1544.8ZM728.2 763.8H741.0V770.6H728.2ZM747.3 763.8H785.6V770.6H747.3ZM811.1 763.8H836.6V770.6H811.1ZM843.0 763.8H855.8V770.6H843.0ZM874.9 763.8H881.3V770.6H874.9ZM964.2 763.8H983.4V770.6H964.2ZM1002.5 763.8H1008.9V770.6H1002.5ZM1015.3 763.8H1021.7V770.6H1015.3ZM1034.4 763.8H1040.8V770.6H1034.4ZM1047.2 763.8H1072.7V770.6H1047.2ZM1079.1 763.8H1142.9V770.6H1079.1ZM1225.8 763.8H1238.6V770.6H1225.8ZM1245.0 763.8H1251.3V770.6H1245.0ZM1334.3 763.8H1340.7V770.6H1334.3ZM1532.1 763.8H1538.5V770.6H1532.1ZM734.6 770.6H741.0V777.4H734.6ZM753.7 770.6H760.1V777.4H753.7ZM766.5 770.6H785.6V777.4H766.5ZM804.8 770.6H823.9V777.4H804.8ZM830.3 770.6H855.8V777.4H830.3ZM894.1 763.8H932.4V777.4H894.1ZM957.9 770.6H983.4V777.4H957.9ZM1059.9 770.6H1136.5V777.4H1059.9ZM1142.9 770.6H1155.7V777.4H1142.9ZM1200.3 763.8H1213.1V777.4H1200.3ZM1232.2 770.6H1251.3V777.4H1232.2ZM1487.4 770.6H1493.8V777.4H1487.4ZM1525.7 770.6H1532.1V777.4H1525.7ZM1538.5 770.6H1544.8V777.4H1538.5ZM766.5 777.4H772.9V784.1H766.5ZM779.2 777.4H785.6V784.1H779.2ZM811.1 777.4H823.9V784.1H811.1ZM855.8 777.4H862.2V784.1H855.8ZM874.9 777.4H951.5V784.1H874.9ZM964.2 777.4H983.4V784.1H964.2ZM996.1 770.6H1008.9V784.1H996.1ZM1028.0 777.4H1034.4V784.1H1028.0ZM1040.8 777.4H1047.2V784.1H1040.8ZM1072.7 777.4H1123.8V784.1H1072.7ZM1130.1 777.4H1136.5V784.1H1130.1ZM1200.3 777.4H1238.6V784.1H1200.3ZM1481.0 777.4H1487.4V784.1H1481.0ZM1532.1 777.4H1544.8V784.1H1532.1ZM747.3 784.1H753.7V790.9H747.3ZM766.5 784.1H779.2V790.9H766.5ZM785.6 784.1H798.4V790.9H785.6ZM817.5 784.1H823.9V790.9H817.5ZM836.6 784.1H843.0V790.9H836.6ZM862.2 784.1H932.4V790.9H862.2ZM957.9 784.1H983.4V790.9H957.9ZM1002.5 784.1H1008.9V790.9H1002.5ZM1015.3 777.4H1021.7V790.9H1015.3ZM1047.2 784.1H1053.6V790.9H1047.2ZM1072.7 784.1H1079.1V790.9H1072.7ZM1085.5 784.1H1111.0V790.9H1085.5ZM1117.4 784.1H1123.8V790.9H1117.4ZM1142.9 777.4H1149.3V790.9H1142.9ZM1174.8 784.1H1181.2V790.9H1174.8ZM1206.7 784.1H1232.2V790.9H1206.7ZM1474.7 784.1H1481.0V790.9H1474.7ZM1487.4 784.1H1493.8V790.9H1487.4ZM1525.7 784.1H1551.2V790.9H1525.7ZM843.0 790.9H849.4V797.7H843.0ZM887.7 790.9H996.1V797.7H887.7ZM1008.9 790.9H1021.7V797.7H1008.9ZM1028.0 790.9H1053.6V797.7H1028.0ZM1079.1 790.9H1104.6V797.7H1079.1ZM1111.0 790.9H1123.8V797.7H1111.0ZM1136.5 790.9H1149.3V797.7H1136.5ZM1155.7 790.9H1174.8V797.7H1155.7ZM1187.5 790.9H1193.9V797.7H1187.5ZM1225.8 790.9H1238.6V797.7H1225.8ZM1481.0 790.9H1487.4V797.7H1481.0ZM1519.3 790.9H1538.5V797.7H1519.3ZM753.7 790.9H798.4V804.5H753.7ZM804.8 784.1H811.1V804.5H804.8ZM817.5 790.9H830.3V804.5H817.5ZM868.5 790.9H874.9V804.5H868.5ZM881.3 797.7H945.1V804.5H881.3ZM951.5 797.7H970.6V804.5H951.5ZM977.0 797.7H989.8V804.5H977.0ZM1002.5 797.7H1021.7V804.5H1002.5ZM1028.0 797.7H1059.9V804.5H1028.0ZM1072.7 797.7H1117.4V804.5H1072.7ZM1142.9 797.7H1174.8V804.5H1142.9ZM1181.2 797.7H1193.9V804.5H1181.2ZM1200.3 790.9H1213.1V804.5H1200.3ZM1225.8 797.7H1232.2V804.5H1225.8ZM1519.3 797.7H1544.8V804.5H1519.3ZM689.9 804.5H702.7V811.3H689.9ZM709.0 804.5H715.4V811.3H709.0ZM785.6 804.5H792.0V811.3H785.6ZM798.4 804.5H811.1V811.3H798.4ZM817.5 804.5H855.8V811.3H817.5ZM868.5 804.5H951.5V811.3H868.5ZM983.4 804.5H1015.3V811.3H983.4ZM1021.7 804.5H1104.6V811.3H1021.7ZM1149.3 804.5H1162.0V811.3H1149.3ZM1519.3 804.5H1525.7V811.3H1519.3ZM1532.1 804.5H1544.8V811.3H1532.1ZM600.6 811.3H607.0V818.1H600.6ZM683.5 811.3H696.3V818.1H683.5ZM702.7 811.3H715.4V818.1H702.7ZM779.2 811.3H798.4V818.1H779.2ZM804.8 811.3H823.9V818.1H804.8ZM849.4 811.3H855.8V818.1H849.4ZM868.5 811.3H874.9V818.1H868.5ZM887.7 811.3H957.9V818.1H887.7ZM977.0 811.3H989.8V818.1H977.0ZM996.1 811.3H1002.5V818.1H996.1ZM1008.9 811.3H1021.7V818.1H1008.9ZM1028.0 811.3H1034.4V818.1H1028.0ZM1098.2 811.3H1104.6V818.1H1098.2ZM1123.8 804.5H1130.1V818.1H1123.8ZM1149.3 811.3H1174.8V818.1H1149.3ZM1200.3 804.5H1225.8V818.1H1200.3ZM1245.0 811.3H1251.3V818.1H1245.0ZM1264.1 811.3H1270.5V818.1H1264.1ZM1302.4 811.3H1308.8V818.1H1302.4ZM1525.7 811.3H1538.5V818.1H1525.7ZM607.0 818.1H632.5V824.9H607.0ZM785.6 818.1H811.1V824.9H785.6ZM862.2 818.1H868.5V824.9H862.2ZM881.3 818.1H932.4V824.9H881.3ZM945.1 818.1H951.5V824.9H945.1ZM957.9 818.1H996.1V824.9H957.9ZM1008.9 818.1H1034.4V824.9H1008.9ZM1040.8 811.3H1085.5V824.9H1040.8ZM1149.3 818.1H1155.7V824.9H1149.3ZM1168.4 818.1H1187.5V824.9H1168.4ZM1206.7 818.1H1219.4V824.9H1206.7ZM1225.8 818.1H1232.2V824.9H1225.8ZM1532.1 818.1H1544.8V824.9H1532.1ZM600.6 824.9H619.7V831.7H600.6ZM702.7 818.1H709.0V831.7H702.7ZM715.4 818.1H728.2V831.7H715.4ZM792.0 824.9H804.8V831.7H792.0ZM817.5 818.1H823.9V831.7H817.5ZM830.3 818.1H836.6V831.7H830.3ZM843.0 818.1H855.8V831.7H843.0ZM887.7 824.9H938.7V831.7H887.7ZM957.9 824.9H964.2V831.7H957.9ZM983.4 824.9H996.1V831.7H983.4ZM1008.9 824.9H1079.1V831.7H1008.9ZM1085.5 824.9H1091.8V831.7H1085.5ZM1155.7 824.9H1168.4V831.7H1155.7ZM1174.8 824.9H1181.2V831.7H1174.8ZM1200.3 824.9H1206.7V831.7H1200.3ZM1213.1 824.9H1238.6V831.7H1213.1ZM1283.2 824.9H1289.6V831.7H1283.2ZM1525.7 824.9H1538.5V831.7H1525.7ZM1544.8 824.9H1551.2V831.7H1544.8ZM600.6 831.7H626.1V838.5H600.6ZM638.9 831.7H645.2V838.5H638.9ZM709.0 831.7H715.4V838.5H709.0ZM798.4 831.7H868.5V838.5H798.4ZM894.1 831.7H906.8V838.5H894.1ZM913.2 831.7H945.1V838.5H913.2ZM951.5 831.7H957.9V838.5H951.5ZM964.2 831.7H970.6V838.5H964.2ZM977.0 831.7H983.4V838.5H977.0ZM1072.7 831.7H1079.1V838.5H1072.7ZM1142.9 831.7H1200.3V838.5H1142.9ZM1206.7 831.7H1232.2V838.5H1206.7ZM1532.1 831.7H1544.8V838.5H1532.1ZM613.3 838.5H626.1V845.3H613.3ZM811.1 838.5H849.4V845.3H811.1ZM855.8 838.5H868.5V845.3H855.8ZM894.1 838.5H957.9V845.3H894.1ZM1008.9 831.7H1021.7V845.3H1008.9ZM1066.3 838.5H1079.1V845.3H1066.3ZM1149.3 838.5H1193.9V845.3H1149.3ZM1200.3 838.5H1219.4V845.3H1200.3ZM1289.6 838.5H1296.0V845.3H1289.6ZM1538.5 838.5H1544.8V845.3H1538.5ZM613.3 845.3H638.9V852.1H613.3ZM753.7 845.3H760.1V852.1H753.7ZM823.9 845.3H843.0V852.1H823.9ZM849.4 845.3H855.8V852.1H849.4ZM862.2 845.3H881.3V852.1H862.2ZM919.6 845.3H970.6V852.1H919.6ZM1047.2 845.3H1053.6V852.1H1047.2ZM1149.3 845.3H1155.7V852.1H1149.3ZM1162.0 845.3H1187.5V852.1H1162.0ZM1200.3 845.3H1232.2V852.1H1200.3ZM1532.1 845.3H1538.5V852.1H1532.1ZM619.7 852.1H632.5V858.9H619.7ZM651.6 852.1H658.0V858.9H651.6ZM823.9 852.1H849.4V858.9H823.9ZM855.8 852.1H862.2V858.9H855.8ZM874.9 852.1H881.3V858.9H874.9ZM913.2 852.1H957.9V858.9H913.2ZM1155.7 852.1H1193.9V858.9H1155.7ZM1200.3 852.1H1225.8V858.9H1200.3ZM1245.0 852.1H1251.3V858.9H1245.0ZM1525.7 852.1H1544.8V858.9H1525.7ZM632.5 858.9H677.1V865.6H632.5ZM683.5 858.9H696.3V865.6H683.5ZM709.0 858.9H715.4V865.6H709.0ZM836.6 858.9H843.0V865.6H836.6ZM862.2 858.9H868.5V865.6H862.2ZM894.1 858.9H926.0V865.6H894.1ZM1155.7 858.9H1168.4V865.6H1155.7ZM1174.8 858.9H1193.9V865.6H1174.8ZM1200.3 858.9H1206.7V865.6H1200.3ZM1225.8 858.9H1238.6V865.6H1225.8ZM1251.3 858.9H1264.1V865.6H1251.3ZM1270.5 858.9H1276.9V865.6H1270.5ZM645.2 865.6H683.5V872.4H645.2ZM721.8 865.6H728.2V872.4H721.8ZM849.4 858.9H855.8V872.4H849.4ZM894.1 865.6H932.4V872.4H894.1ZM938.7 865.6H945.1V872.4H938.7ZM951.5 865.6H957.9V872.4H951.5ZM1149.3 865.6H1155.7V872.4H1149.3ZM1162.0 865.6H1181.2V872.4H1162.0ZM1187.5 865.6H1193.9V872.4H1187.5ZM1219.4 865.6H1225.8V872.4H1219.4ZM651.6 872.4H664.4V879.2H651.6ZM849.4 872.4H862.2V879.2H849.4ZM868.5 872.4H906.8V879.2H868.5ZM1142.9 872.4H1149.3V879.2H1142.9ZM1155.7 872.4H1200.3V879.2H1155.7ZM1238.6 865.6H1264.1V879.2H1238.6ZM1532.1 865.6H1544.8V879.2H1532.1ZM664.4 879.2H670.8V886.0H664.4ZM715.4 872.4H721.8V886.0H715.4ZM855.8 879.2H868.5V886.0H855.8ZM874.9 879.2H913.2V886.0H874.9ZM919.6 872.4H932.4V886.0H919.6ZM1136.5 879.2H1142.9V886.0H1136.5ZM1162.0 879.2H1174.8V886.0H1162.0ZM1181.2 879.2H1187.5V886.0H1181.2ZM1238.6 879.2H1257.7V886.0H1238.6ZM1283.2 879.2H1289.6V886.0H1283.2ZM1410.8 879.2H1417.2V886.0H1410.8ZM1532.1 879.2H1538.5V886.0H1532.1ZM1544.8 879.2H1551.2V886.0H1544.8ZM683.5 886.0H689.9V892.8H683.5ZM715.4 886.0H741.0V892.8H715.4ZM868.5 886.0H887.7V892.8H868.5ZM894.1 886.0H932.4V892.8H894.1ZM1111.0 886.0H1117.4V892.8H1111.0ZM1123.8 886.0H1136.5V892.8H1123.8ZM1142.9 886.0H1200.3V892.8H1142.9ZM1251.3 886.0H1264.1V892.8H1251.3ZM1487.4 886.0H1493.8V892.8H1487.4ZM715.4 892.8H728.2V899.6H715.4ZM734.6 892.8H747.3V899.6H734.6ZM766.5 892.8H779.2V899.6H766.5ZM868.5 892.8H881.3V899.6H868.5ZM887.7 892.8H932.4V899.6H887.7ZM938.7 886.0H945.1V899.6H938.7ZM1123.8 892.8H1181.2V899.6H1123.8ZM1187.5 892.8H1206.7V899.6H1187.5ZM1245.0 892.8H1251.3V899.6H1245.0ZM1257.7 892.8H1264.1V899.6H1257.7ZM1519.3 892.8H1525.7V899.6H1519.3ZM1532.1 886.0H1544.8V899.6H1532.1ZM702.7 899.6H709.0V906.4H702.7ZM747.3 899.6H772.9V906.4H747.3ZM843.0 899.6H849.4V906.4H843.0ZM862.2 899.6H868.5V906.4H862.2ZM977.0 899.6H983.4V906.4H977.0ZM1136.5 899.6H1200.3V906.4H1136.5ZM1232.2 899.6H1238.6V906.4H1232.2ZM1283.2 899.6H1289.6V906.4H1283.2ZM728.2 906.4H734.6V913.2H728.2ZM741.0 906.4H760.1V913.2H741.0ZM855.8 906.4H862.2V913.2H855.8ZM894.1 899.6H932.4V913.2H894.1ZM957.9 899.6H964.2V913.2H957.9ZM1104.6 906.4H1111.0V913.2H1104.6ZM1130.1 906.4H1181.2V913.2H1130.1ZM1187.5 906.4H1200.3V913.2H1187.5ZM1238.6 906.4H1245.0V913.2H1238.6ZM721.8 913.2H741.0V920.0H721.8ZM747.3 913.2H772.9V920.0H747.3ZM906.8 913.2H932.4V920.0H906.8ZM1142.9 913.2H1149.3V920.0H1142.9ZM1162.0 913.2H1187.5V920.0H1162.0ZM1193.9 913.2H1200.3V920.0H1193.9ZM1276.9 906.4H1283.2V920.0H1276.9ZM1481.0 913.2H1487.4V920.0H1481.0ZM1538.5 899.6H1544.8V920.0H1538.5ZM728.2 920.0H734.6V926.8H728.2ZM753.7 920.0H779.2V926.8H753.7ZM792.0 913.2H804.8V926.8H792.0ZM823.9 913.2H830.3V926.8H823.9ZM843.0 913.2H855.8V926.8H843.0ZM862.2 920.0H868.5V926.8H862.2ZM913.2 920.0H932.4V926.8H913.2ZM1149.3 920.0H1155.7V926.8H1149.3ZM1168.4 920.0H1187.5V926.8H1168.4ZM1449.1 920.0H1455.5V926.8H1449.1ZM734.6 926.8H753.7V933.6H734.6ZM760.1 926.8H804.8V933.6H760.1ZM906.8 926.8H913.2V933.6H906.8ZM919.6 926.8H926.0V933.6H919.6ZM1123.8 920.0H1130.1V933.6H1123.8ZM1136.5 926.8H1149.3V933.6H1136.5ZM1436.4 926.8H1442.8V933.6H1436.4ZM1519.3 926.8H1525.7V933.6H1519.3ZM741.0 933.6H753.7V940.4H741.0ZM760.1 933.6H766.5V940.4H760.1ZM817.5 933.6H823.9V940.4H817.5ZM874.9 933.6H881.3V940.4H874.9ZM906.8 933.6H919.6V940.4H906.8ZM938.7 933.6H945.1V940.4H938.7ZM1123.8 933.6H1155.7V940.4H1123.8ZM1512.9 933.6H1525.7V940.4H1512.9ZM747.3 940.4H772.9V947.1H747.3ZM779.2 933.6H804.8V947.1H779.2ZM811.1 940.4H817.5V947.1H811.1ZM830.3 940.4H843.0V947.1H830.3ZM868.5 940.4H881.3V947.1H868.5ZM1104.6 940.4H1111.0V947.1H1104.6ZM1168.4 933.6H1174.8V947.1H1168.4ZM1506.5 940.4H1519.3V947.1H1506.5ZM753.7 947.1H760.1V953.9H753.7ZM766.5 947.1H785.6V953.9H766.5ZM792.0 947.1H798.4V953.9H792.0ZM804.8 947.1H811.1V953.9H804.8ZM817.5 947.1H830.3V953.9H817.5ZM868.5 947.1H874.9V953.9H868.5ZM887.7 940.4H894.1V953.9H887.7ZM913.2 940.4H919.6V953.9H913.2ZM926.0 940.4H932.4V953.9H926.0ZM1149.3 940.4H1162.0V953.9H1149.3ZM1353.4 947.1H1359.8V953.9H1353.4ZM1366.2 940.4H1379.0V953.9H1366.2ZM1506.5 947.1H1512.9V953.9H1506.5ZM1519.3 947.1H1525.7V953.9H1519.3ZM747.3 953.9H760.1V960.7H747.3ZM772.9 953.9H785.6V960.7H772.9ZM792.0 953.9H843.0V960.7H792.0ZM919.6 953.9H932.4V960.7H919.6ZM996.1 953.9H1002.5V960.7H996.1ZM1359.8 953.9H1385.3V960.7H1359.8ZM1436.4 953.9H1442.8V960.7H1436.4ZM766.5 960.7H772.9V967.5H766.5ZM792.0 960.7H798.4V967.5H792.0ZM804.8 960.7H830.3V967.5H804.8ZM836.6 960.7H843.0V967.5H836.6ZM926.0 960.7H932.4V967.5H926.0ZM938.7 960.7H945.1V967.5H938.7ZM951.5 960.7H964.2V967.5H951.5ZM1372.6 960.7H1379.0V967.5H1372.6ZM1512.9 960.7H1519.3V967.5H1512.9ZM779.2 967.5H785.6V974.3H779.2ZM919.6 967.5H932.4V974.3H919.6ZM1002.5 967.5H1008.9V974.3H1002.5ZM747.3 960.7H753.7V981.1H747.3ZM792.0 967.5H843.0V981.1H792.0ZM919.6 974.3H926.0V981.1H919.6ZM1506.5 974.3H1512.9V981.1H1506.5ZM760.1 981.1H772.9V987.9H760.1ZM785.6 981.1H792.0V987.9H785.6ZM817.5 981.1H836.6V987.9H817.5ZM881.3 981.1H887.7V987.9H881.3ZM913.2 981.1H932.4V987.9H913.2ZM938.7 981.1H945.1V987.9H938.7ZM1047.2 981.1H1053.6V987.9H1047.2ZM1468.3 981.1H1481.0V987.9H1468.3ZM1487.4 981.1H1493.8V987.9H1487.4ZM753.7 987.9H766.5V994.7H753.7ZM779.2 987.9H785.6V994.7H779.2ZM804.8 987.9H830.3V994.7H804.8ZM836.6 987.9H843.0V994.7H836.6ZM855.8 987.9H881.3V994.7H855.8ZM894.1 981.1H906.8V994.7H894.1ZM1468.3 987.9H1487.4V994.7H1468.3ZM753.7 994.7H760.1V1001.5H753.7ZM887.7 994.7H894.1V1001.5H887.7ZM900.5 994.7H906.8V1001.5H900.5ZM919.6 994.7H938.7V1001.5H919.6ZM945.1 994.7H957.9V1001.5H945.1ZM1104.6 994.7H1111.0V1001.5H1104.6ZM1142.9 994.7H1149.3V1001.5H1142.9ZM1481.0 994.7H1512.9V1001.5H1481.0ZM760.1 1001.5H766.5V1008.3H760.1ZM811.1 1001.5H817.5V1008.3H811.1ZM823.9 1001.5H830.3V1008.3H823.9ZM836.6 1001.5H843.0V1008.3H836.6ZM862.2 994.7H868.5V1008.3H862.2ZM874.9 1001.5H881.3V1008.3H874.9ZM894.1 1001.5H913.2V1008.3H894.1ZM932.4 1001.5H951.5V1008.3H932.4ZM957.9 1001.5H964.2V1008.3H957.9ZM970.6 1001.5H977.0V1008.3H970.6ZM1481.0 1001.5H1506.5V1008.3H1481.0ZM753.7 1008.3H760.1V1015.1H753.7ZM766.5 1008.3H772.9V1015.1H766.5ZM843.0 1008.3H849.4V1015.1H843.0ZM855.8 1008.3H874.9V1015.1H855.8ZM906.8 1008.3H913.2V1015.1H906.8ZM945.1 1008.3H957.9V1015.1H945.1ZM1059.9 1008.3H1066.3V1015.1H1059.9ZM1468.3 994.7H1474.7V1015.1H1468.3ZM747.3 1015.1H753.7V1021.9H747.3ZM760.1 1015.1H772.9V1021.9H760.1ZM785.6 1015.1H792.0V1021.9H785.6ZM849.4 1015.1H881.3V1021.9H849.4ZM919.6 1015.1H926.0V1021.9H919.6ZM945.1 1015.1H964.2V1021.9H945.1ZM1136.5 1015.1H1149.3V1021.9H1136.5ZM1481.0 1008.3H1500.2V1021.9H1481.0ZM753.7 1021.9H772.9V1028.6H753.7ZM779.2 1021.9H792.0V1028.6H779.2ZM843.0 1021.9H874.9V1028.6H843.0ZM938.7 1021.9H945.1V1028.6H938.7ZM964.2 1021.9H977.0V1028.6H964.2ZM1111.0 1021.9H1123.8V1028.6H1111.0ZM1130.1 1021.9H1136.5V1028.6H1130.1ZM753.7 1028.6H785.6V1035.4H753.7ZM830.3 1028.6H836.6V1035.4H830.3ZM849.4 1028.6H881.3V1035.4H849.4ZM964.2 1028.6H970.6V1035.4H964.2ZM1034.4 1028.6H1040.8V1035.4H1034.4ZM1130.1 1028.6H1149.3V1035.4H1130.1ZM1155.7 1028.6H1162.0V1035.4H1155.7ZM1449.1 1028.6H1455.5V1035.4H1449.1ZM1468.3 1021.9H1500.2V1035.4H1468.3ZM760.1 1035.4H779.2V1042.2H760.1ZM836.6 1035.4H849.4V1042.2H836.6ZM957.9 1035.4H983.4V1042.2H957.9ZM1047.2 1035.4H1059.9V1042.2H1047.2ZM1098.2 1035.4H1104.6V1042.2H1098.2ZM1117.4 1035.4H1123.8V1042.2H1117.4ZM1430.0 1035.4H1442.8V1042.2H1430.0ZM1461.9 1035.4H1474.7V1042.2H1461.9ZM1487.4 1035.4H1500.2V1042.2H1487.4ZM753.7 1042.2H779.2V1049.0H753.7ZM792.0 1042.2H798.4V1049.0H792.0ZM804.8 1042.2H811.1V1049.0H804.8ZM830.3 1042.2H843.0V1049.0H830.3ZM855.8 1042.2H881.3V1049.0H855.8ZM957.9 1042.2H964.2V1049.0H957.9ZM970.6 1042.2H983.4V1049.0H970.6ZM1053.6 1042.2H1059.9V1049.0H1053.6ZM1430.0 1042.2H1449.1V1049.0H1430.0ZM1461.9 1042.2H1487.4V1049.0H1461.9ZM747.3 1049.0H753.7V1055.8H747.3ZM766.5 1049.0H804.8V1055.8H766.5ZM811.1 1049.0H843.0V1055.8H811.1ZM849.4 1049.0H874.9V1055.8H849.4ZM881.3 1049.0H887.7V1055.8H881.3ZM957.9 1049.0H983.4V1055.8H957.9ZM989.8 1035.4H996.1V1055.8H989.8ZM779.2 1055.8H804.8V1062.6H779.2ZM811.1 1055.8H830.3V1062.6H811.1ZM836.6 1055.8H881.3V1062.6H836.6ZM957.9 1055.8H1002.5V1062.6H957.9ZM1008.9 1055.8H1015.3V1062.6H1008.9ZM1417.2 1049.0H1442.8V1062.6H1417.2ZM753.7 1062.6H772.9V1069.4H753.7ZM785.6 1062.6H792.0V1069.4H785.6ZM804.8 1062.6H823.9V1069.4H804.8ZM874.9 1062.6H894.1V1069.4H874.9ZM977.0 1062.6H1008.9V1069.4H977.0ZM1398.1 1062.6H1410.8V1069.4H1398.1ZM1417.2 1062.6H1436.4V1069.4H1417.2ZM747.3 1069.4H766.5V1076.2H747.3ZM772.9 1069.4H779.2V1076.2H772.9ZM792.0 1069.4H798.4V1076.2H792.0ZM804.8 1069.4H843.0V1076.2H804.8ZM849.4 1062.6H868.5V1076.2H849.4ZM874.9 1069.4H881.3V1076.2H874.9ZM957.9 1069.4H964.2V1076.2H957.9ZM1379.0 1069.4H1398.1V1076.2H1379.0ZM753.7 1076.2H779.2V1083.0H753.7ZM811.1 1076.2H823.9V1083.0H811.1ZM843.0 1076.2H874.9V1083.0H843.0ZM881.3 1076.2H887.7V1083.0H881.3ZM900.5 1076.2H906.8V1083.0H900.5ZM932.4 1076.2H938.7V1083.0H932.4ZM951.5 1076.2H957.9V1083.0H951.5ZM970.6 1069.4H1008.9V1083.0H970.6ZM1072.7 1076.2H1079.1V1083.0H1072.7ZM1085.5 1076.2H1091.8V1083.0H1085.5ZM1315.2 1076.2H1321.5V1083.0H1315.2ZM1327.9 1076.2H1340.7V1083.0H1327.9ZM1391.7 1076.2H1398.1V1083.0H1391.7ZM753.7 1083.0H760.1V1089.8H753.7ZM766.5 1083.0H779.2V1089.8H766.5ZM785.6 1083.0H792.0V1089.8H785.6ZM804.8 1083.0H830.3V1089.8H804.8ZM977.0 1083.0H983.4V1089.8H977.0ZM989.8 1083.0H1008.9V1089.8H989.8ZM741.0 1089.8H779.2V1096.6H741.0ZM792.0 1089.8H804.8V1096.6H792.0ZM843.0 1083.0H868.5V1096.6H843.0ZM926.0 1089.8H938.7V1096.6H926.0ZM945.1 1089.8H957.9V1096.6H945.1ZM964.2 1089.8H1008.9V1096.6H964.2ZM1047.2 1089.8H1079.1V1096.6H1047.2ZM1085.5 1089.8H1098.2V1096.6H1085.5ZM1104.6 1089.8H1117.4V1096.6H1104.6ZM1302.4 1089.8H1321.5V1096.6H1302.4ZM760.1 1096.6H798.4V1103.4H760.1ZM836.6 1096.6H843.0V1103.4H836.6ZM849.4 1096.6H868.5V1103.4H849.4ZM945.1 1096.6H964.2V1103.4H945.1ZM989.8 1096.6H1002.5V1103.4H989.8ZM1021.7 1089.8H1034.4V1103.4H1021.7ZM1047.2 1096.6H1053.6V1103.4H1047.2ZM1059.9 1096.6H1072.7V1103.4H1059.9ZM1079.1 1096.6H1085.5V1103.4H1079.1ZM1091.8 1096.6H1098.2V1103.4H1091.8ZM1111.0 1096.6H1123.8V1103.4H1111.0ZM1136.5 1096.6H1142.9V1103.4H1136.5ZM1302.4 1096.6H1308.8V1103.4H1302.4ZM1315.2 1096.6H1321.5V1103.4H1315.2ZM760.1 1103.4H766.5V1110.1H760.1ZM772.9 1103.4H792.0V1110.1H772.9ZM830.3 1103.4H836.6V1110.1H830.3ZM843.0 1103.4H862.2V1110.1H843.0ZM938.7 1103.4H964.2V1110.1H938.7ZM970.6 1096.6H983.4V1110.1H970.6ZM1008.9 1103.4H1028.0V1110.1H1008.9ZM1034.4 1103.4H1111.0V1110.1H1034.4ZM1117.4 1103.4H1149.3V1110.1H1117.4ZM1225.8 1103.4H1232.2V1110.1H1225.8ZM1296.0 1103.4H1315.2V1110.1H1296.0ZM741.0 1096.6H753.7V1116.9H741.0ZM772.9 1110.1H798.4V1116.9H772.9ZM817.5 1110.1H823.9V1116.9H817.5ZM830.3 1110.1H855.8V1116.9H830.3ZM862.2 1110.1H868.5V1116.9H862.2ZM932.4 1110.1H951.5V1116.9H932.4ZM957.9 1110.1H983.4V1116.9H957.9ZM1008.9 1110.1H1034.4V1116.9H1008.9ZM1047.2 1110.1H1085.5V1116.9H1047.2ZM1091.8 1110.1H1104.6V1116.9H1091.8ZM1117.4 1110.1H1130.1V1116.9H1117.4ZM1136.5 1110.1H1149.3V1116.9H1136.5ZM1289.6 1110.1H1315.2V1116.9H1289.6ZM747.3 1116.9H753.7V1123.7H747.3ZM766.5 1116.9H779.2V1123.7H766.5ZM785.6 1116.9H792.0V1123.7H785.6ZM836.6 1116.9H849.4V1123.7H836.6ZM1059.9 1116.9H1066.3V1123.7H1059.9ZM1079.1 1116.9H1091.8V1123.7H1079.1ZM1213.1 1116.9H1225.8V1123.7H1213.1ZM1270.5 1116.9H1276.9V1123.7H1270.5ZM1283.2 1116.9H1289.6V1123.7H1283.2ZM1302.4 1116.9H1308.8V1123.7H1302.4ZM741.0 1123.7H753.7V1130.5H741.0ZM766.5 1123.7H792.0V1130.5H766.5ZM830.3 1123.7H843.0V1130.5H830.3ZM932.4 1116.9H970.6V1130.5H932.4ZM1072.7 1123.7H1079.1V1130.5H1072.7ZM1098.2 1116.9H1104.6V1130.5H1098.2ZM1219.4 1123.7H1225.8V1130.5H1219.4ZM741.0 1130.5H747.3V1137.3H741.0ZM766.5 1130.5H779.2V1137.3H766.5ZM830.3 1130.5H849.4V1137.3H830.3ZM894.1 1130.5H906.8V1137.3H894.1ZM932.4 1130.5H938.7V1137.3H932.4ZM951.5 1130.5H957.9V1137.3H951.5ZM1264.1 1130.5H1276.9V1137.3H1264.1ZM1289.6 1130.5H1296.0V1137.3H1289.6ZM734.6 1137.3H766.5V1144.1H734.6ZM830.3 1137.3H843.0V1144.1H830.3ZM894.1 1137.3H900.5V1144.1H894.1ZM913.2 1137.3H926.0V1144.1H913.2ZM932.4 1137.3H964.2V1144.1H932.4ZM1270.5 1137.3H1289.6V1144.1H1270.5ZM734.6 1144.1H792.0V1150.9H734.6ZM804.8 1144.1H811.1V1150.9H804.8ZM823.9 1144.1H830.3V1150.9H823.9ZM836.6 1144.1H849.4V1150.9H836.6ZM855.8 1144.1H862.2V1150.9H855.8ZM932.4 1144.1H945.1V1150.9H932.4ZM1181.2 1144.1H1193.9V1150.9H1181.2ZM1200.3 1144.1H1213.1V1150.9H1200.3ZM1219.4 1144.1H1225.8V1150.9H1219.4ZM1264.1 1144.1H1270.5V1150.9H1264.1ZM1283.2 1144.1H1289.6V1150.9H1283.2ZM734.6 1150.9H798.4V1157.7H734.6ZM811.1 1150.9H823.9V1157.7H811.1ZM830.3 1150.9H836.6V1157.7H830.3ZM849.4 1150.9H868.5V1157.7H849.4ZM1174.8 1150.9H1206.7V1157.7H1174.8ZM753.7 1157.7H760.1V1164.5H753.7ZM766.5 1157.7H785.6V1164.5H766.5ZM792.0 1157.7H862.2V1164.5H792.0ZM881.3 1157.7H887.7V1164.5H881.3ZM919.6 1157.7H926.0V1164.5H919.6ZM932.4 1150.9H938.7V1164.5H932.4ZM760.1 1164.5H817.5V1171.3H760.1ZM823.9 1164.5H862.2V1171.3H823.9ZM887.7 1164.5H894.1V1171.3H887.7ZM919.6 1164.5H945.1V1171.3H919.6ZM753.7 1171.3H760.1V1178.1H753.7ZM766.5 1171.3H804.8V1178.1H766.5ZM811.1 1171.3H823.9V1178.1H811.1ZM868.5 1171.3H881.3V1178.1H868.5ZM887.7 1171.3H900.5V1178.1H887.7ZM919.6 1171.3H932.4V1178.1H919.6ZM938.7 1171.3H945.1V1178.1H938.7ZM734.6 1157.7H741.0V1184.9H734.6ZM760.1 1178.1H811.1V1184.9H760.1ZM817.5 1178.1H830.3V1184.9H817.5ZM843.0 1171.3H855.8V1184.9H843.0ZM881.3 1178.1H894.1V1184.9H881.3ZM900.5 1178.1H906.8V1184.9H900.5ZM913.2 1178.1H945.1V1184.9H913.2ZM766.5 1184.9H817.5V1191.6H766.5ZM823.9 1184.9H830.3V1191.6H823.9ZM843.0 1184.9H849.4V1191.6H843.0ZM855.8 1184.9H868.5V1191.6H855.8ZM881.3 1184.9H900.5V1191.6H881.3ZM906.8 1184.9H919.6V1191.6H906.8ZM926.0 1184.9H951.5V1191.6H926.0ZM766.5 1191.6H792.0V1198.4H766.5ZM811.1 1191.6H817.5V1198.4H811.1ZM836.6 1191.6H874.9V1198.4H836.6ZM881.3 1191.6H919.6V1198.4H881.3ZM932.4 1191.6H957.9V1198.4H932.4ZM728.2 1198.4H741.0V1205.2H728.2ZM747.3 1198.4H753.7V1205.2H747.3ZM766.5 1198.4H772.9V1205.2H766.5ZM785.6 1198.4H792.0V1205.2H785.6ZM798.4 1191.6H804.8V1205.2H798.4ZM830.3 1198.4H836.6V1205.2H830.3ZM881.3 1198.4H900.5V1205.2H881.3ZM906.8 1198.4H919.6V1205.2H906.8ZM938.7 1198.4H996.1V1205.2H938.7ZM721.8 1205.2H741.0V1212.0H721.8ZM772.9 1205.2H779.2V1212.0H772.9ZM785.6 1205.2H804.8V1212.0H785.6ZM811.1 1205.2H817.5V1212.0H811.1ZM843.0 1198.4H849.4V1212.0H843.0ZM881.3 1205.2H919.6V1212.0H881.3ZM932.4 1205.2H945.1V1212.0H932.4ZM957.9 1205.2H996.1V1212.0H957.9ZM721.8 1212.0H728.2V1218.8H721.8ZM734.6 1212.0H753.7V1218.8H734.6ZM760.1 1212.0H779.2V1218.8H760.1ZM836.6 1212.0H843.0V1218.8H836.6ZM849.4 1212.0H855.8V1218.8H849.4ZM894.1 1212.0H900.5V1218.8H894.1ZM906.8 1212.0H913.2V1218.8H906.8ZM919.6 1212.0H938.7V1218.8H919.6ZM945.1 1212.0H977.0V1218.8H945.1ZM983.4 1212.0H996.1V1218.8H983.4ZM728.2 1218.8H734.6V1225.6H728.2ZM741.0 1218.8H747.3V1225.6H741.0ZM753.7 1218.8H779.2V1225.6H753.7ZM792.0 1212.0H811.1V1225.6H792.0ZM817.5 1218.8H823.9V1225.6H817.5ZM913.2 1218.8H983.4V1225.6H913.2ZM989.8 1218.8H996.1V1225.6H989.8ZM715.4 1225.6H721.8V1232.4H715.4ZM734.6 1225.6H766.5V1232.4H734.6ZM772.9 1225.6H798.4V1232.4H772.9ZM804.8 1225.6H811.1V1232.4H804.8ZM823.9 1225.6H836.6V1232.4H823.9ZM843.0 1218.8H855.8V1232.4H843.0ZM874.9 1225.6H900.5V1232.4H874.9ZM906.8 1225.6H1002.5V1232.4H906.8ZM1008.9 1225.6H1015.3V1232.4H1008.9ZM1028.0 1225.6H1034.4V1232.4H1028.0ZM747.3 1232.4H766.5V1239.2H747.3ZM779.2 1232.4H785.6V1239.2H779.2ZM792.0 1232.4H804.8V1239.2H792.0ZM836.6 1232.4H855.8V1239.2H836.6ZM894.1 1232.4H900.5V1239.2H894.1ZM906.8 1232.4H1015.3V1239.2H906.8ZM721.8 1232.4H728.2V1246.0H721.8ZM741.0 1239.2H747.3V1246.0H741.0ZM766.5 1239.2H772.9V1246.0H766.5ZM779.2 1239.2H811.1V1246.0H779.2ZM817.5 1239.2H843.0V1246.0H817.5ZM874.9 1239.2H1028.0V1246.0H874.9ZM792.0 1246.0H798.4V1252.8H792.0ZM823.9 1246.0H843.0V1252.8H823.9ZM862.2 1246.0H868.5V1252.8H862.2ZM881.3 1246.0H887.7V1252.8H881.3ZM894.1 1246.0H1021.7V1252.8H894.1ZM721.8 1252.8H734.6V1259.6H721.8ZM747.3 1252.8H779.2V1259.6H747.3ZM792.0 1252.8H811.1V1259.6H792.0ZM823.9 1252.8H836.6V1259.6H823.9ZM887.7 1252.8H932.4V1259.6H887.7ZM951.5 1252.8H1008.9V1259.6H951.5ZM1015.3 1252.8H1021.7V1259.6H1015.3ZM1028.0 1252.8H1034.4V1259.6H1028.0ZM1040.8 1252.8H1047.2V1259.6H1040.8ZM715.4 1259.6H728.2V1266.4H715.4ZM747.3 1259.6H766.5V1266.4H747.3ZM772.9 1259.6H779.2V1266.4H772.9ZM798.4 1259.6H811.1V1266.4H798.4ZM830.3 1259.6H836.6V1266.4H830.3ZM855.8 1259.6H862.2V1266.4H855.8ZM868.5 1252.8H881.3V1266.4H868.5ZM887.7 1259.6H938.7V1266.4H887.7ZM945.1 1259.6H1047.2V1266.4H945.1ZM709.0 1266.4H728.2V1273.1H709.0ZM766.5 1266.4H798.4V1273.1H766.5ZM817.5 1266.4H830.3V1273.1H817.5ZM868.5 1266.4H894.1V1273.1H868.5ZM906.8 1266.4H932.4V1273.1H906.8ZM945.1 1266.4H957.9V1273.1H945.1ZM964.2 1266.4H977.0V1273.1H964.2ZM983.4 1266.4H1047.2V1273.1H983.4ZM715.4 1273.1H728.2V1279.9H715.4ZM747.3 1273.1H753.7V1279.9H747.3ZM766.5 1273.1H779.2V1279.9H766.5ZM785.6 1273.1H798.4V1279.9H785.6ZM817.5 1273.1H823.9V1279.9H817.5ZM887.7 1273.1H894.1V1279.9H887.7ZM900.5 1273.1H926.0V1279.9H900.5ZM945.1 1273.1H1047.2V1279.9H945.1ZM772.9 1279.9H798.4V1286.7H772.9ZM804.8 1279.9H855.8V1286.7H804.8ZM919.6 1279.9H926.0V1286.7H919.6ZM932.4 1279.9H938.7V1286.7H932.4ZM957.9 1279.9H1053.6V1286.7H957.9ZM1066.3 1279.9H1072.7V1286.7H1066.3ZM766.5 1286.7H772.9V1293.5H766.5ZM779.2 1286.7H843.0V1293.5H779.2ZM849.4 1286.7H862.2V1293.5H849.4ZM945.1 1286.7H951.5V1293.5H945.1ZM957.9 1286.7H964.2V1293.5H957.9ZM970.6 1286.7H1047.2V1293.5H970.6ZM843.0 1293.5H862.2V1300.3H843.0ZM919.6 1293.5H926.0V1300.3H919.6ZM970.6 1293.5H983.4V1300.3H970.6ZM989.8 1293.5H1008.9V1300.3H989.8ZM1015.3 1293.5H1040.8V1300.3H1015.3ZM862.2 1300.3H868.5V1307.1H862.2ZM945.1 1300.3H951.5V1307.1H945.1ZM989.8 1300.3H1047.2V1307.1H989.8ZM1059.9 1300.3H1066.3V1307.1H1059.9ZM823.9 1307.1H830.3V1313.9H823.9ZM843.0 1300.3H855.8V1313.9H843.0ZM868.5 1307.1H881.3V1313.9H868.5ZM951.5 1307.1H957.9V1313.9H951.5ZM1015.3 1307.1H1028.0V1313.9H1015.3ZM1034.4 1307.1H1066.3V1313.9H1034.4ZM779.2 1293.5H817.5V1320.7H779.2ZM836.6 1313.9H849.4V1320.7H836.6ZM862.2 1313.9H881.3V1320.7H862.2ZM887.7 1313.9H894.1V1320.7H887.7ZM1015.3 1313.9H1021.7V1320.7H1015.3ZM1028.0 1313.9H1066.3V1320.7H1028.0ZM779.2 1320.7H792.0V1327.5H779.2ZM798.4 1320.7H817.5V1327.5H798.4ZM830.3 1320.7H836.6V1327.5H830.3ZM862.2 1320.7H874.9V1327.5H862.2ZM881.3 1320.7H894.1V1327.5H881.3ZM1047.2 1320.7H1066.3V1327.5H1047.2ZM779.2 1327.5H817.5V1334.3H779.2ZM836.6 1327.5H843.0V1334.3H836.6ZM855.8 1327.5H862.2V1334.3H855.8ZM874.9 1327.5H881.3V1334.3H874.9ZM1021.7 1320.7H1034.4V1334.3H1021.7ZM1040.8 1327.5H1059.9V1334.3H1040.8ZM1079.1 1327.5H1085.5V1334.3H1079.1ZM1174.8 1327.5H1187.5V1334.3H1174.8ZM779.2 1334.3H804.8V1341.1H779.2ZM855.8 1334.3H874.9V1341.1H855.8ZM1034.4 1334.3H1047.2V1341.1H1034.4ZM1053.6 1334.3H1059.9V1341.1H1053.6ZM1066.3 1334.3H1091.8V1341.1H1066.3ZM1111.0 1334.3H1117.4V1341.1H1111.0ZM1162.0 1334.3H1174.8V1341.1H1162.0ZM779.2 1341.1H785.6V1347.9H779.2ZM792.0 1341.1H804.8V1347.9H792.0ZM843.0 1341.1H881.3V1347.9H843.0ZM1040.8 1341.1H1079.1V1347.9H1040.8ZM1085.5 1341.1H1091.8V1347.9H1085.5ZM1098.2 1334.3H1104.6V1347.9H1098.2ZM836.6 1347.9H849.4V1354.6H836.6ZM855.8 1347.9H868.5V1354.6H855.8ZM1059.9 1347.9H1085.5V1354.6H1059.9ZM1091.8 1347.9H1123.8V1354.6H1091.8ZM1130.1 1347.9H1136.5V1354.6H1130.1ZM709.0 1341.1H715.4V1361.4H709.0ZM721.8 1354.6H728.2V1361.4H721.8ZM785.6 1354.6H798.4V1361.4H785.6ZM830.3 1354.6H868.5V1361.4H830.3ZM874.9 1354.6H881.3V1361.4H874.9ZM1072.7 1354.6H1098.2V1361.4H1072.7ZM1104.6 1354.6H1111.0V1361.4H1104.6ZM702.7 1361.4H715.4V1368.2H702.7ZM1059.9 1354.6H1066.3V1368.2H1059.9ZM1091.8 1361.4H1130.1V1368.2H1091.8ZM709.0 1368.2H715.4V1375.0H709.0ZM1091.8 1368.2H1098.2V1375.0H1091.8ZM1111.0 1368.2H1117.4V1375.0H1111.0ZM1130.1 1368.2H1136.5V1375.0H1130.1ZM721.8 1375.0H728.2V1381.8H721.8ZM1085.5 1375.0H1091.8V1381.8H1085.5ZM1104.6 1375.0H1117.4V1381.8H1104.6ZM766.5 1381.8H772.9V1388.6H766.5ZM702.7 1388.6H715.4V1395.4H702.7ZM766.5 1388.6H779.2V1395.4H766.5ZM696.3 1395.4H715.4V1402.2H696.3ZM721.8 1395.4H728.2V1402.2H721.8ZM753.7 1395.4H766.5V1402.2H753.7ZM772.9 1395.4H779.2V1402.2H772.9ZM689.9 1402.2H702.7V1409.0H689.9ZM709.0 1402.2H715.4V1409.0H709.0ZM753.7 1402.2H779.2V1409.0H753.7ZM689.9 1409.0H709.0V1415.8H689.9ZM683.5 1415.8H702.7V1422.6H683.5ZM721.8 1422.6H728.2V1429.4H721.8ZM683.5 1422.6H689.9V1436.1H683.5ZM779.2 1429.4H785.6V1436.1H779.2ZM874.9 1429.4H881.3V1436.1H874.9ZM887.7 1429.4H894.1V1436.1H887.7ZM779.2 1436.1H792.0V1442.9H779.2ZM855.8 1429.4H862.2V1442.9H855.8ZM868.5 1436.1H874.9V1442.9H868.5ZM881.3 1436.1H887.7V1442.9H881.3ZM753.7 1442.9H760.1V1449.7H753.7ZM766.5 1442.9H772.9V1449.7H766.5ZM785.6 1442.9H792.0V1449.7H785.6ZM798.4 1442.9H804.8V1449.7H798.4ZM874.9 1442.9H881.3V1449.7H874.9ZM753.7 1449.7H779.2V1456.5H753.7ZM747.3 1456.5H760.1V1463.3H747.3ZM766.5 1456.5H772.9V1463.3H766.5ZM779.2 1456.5H804.8V1463.3H779.2ZM753.7 1463.3H766.5V1470.1H753.7ZM772.9 1463.3H811.1V1470.1H772.9ZM753.7 1470.1H817.5V1476.9H753.7ZM823.9 1470.1H830.3V1476.9H823.9ZM747.3 1476.9H804.8V1483.7H747.3ZM811.1 1476.9H817.5V1483.7H811.1ZM753.7 1483.7H798.4V1490.5H753.7ZM804.8 1483.7H811.1V1490.5H804.8ZM823.9 1483.7H830.3V1490.5H823.9ZM747.3 1490.5H760.1V1497.3H747.3ZM766.5 1490.5H836.6V1497.3H766.5ZM721.8 1497.3H862.2V1504.1H721.8ZM728.2 1504.1H734.6V1510.9H728.2ZM741.0 1504.1H747.3V1510.9H741.0ZM760.1 1504.1H855.8V1510.9H760.1ZM734.6 1510.9H741.0V1517.6H734.6ZM753.7 1510.9H804.8V1517.6H753.7ZM811.1 1510.9H823.9V1517.6H811.1ZM830.3 1510.9H849.4V1517.6H830.3ZM855.8 1510.9H874.9V1517.6H855.8ZM887.7 1510.9H900.5V1517.6H887.7ZM753.7 1517.6H811.1V1524.4H753.7ZM817.5 1517.6H894.1V1524.4H817.5ZM900.5 1517.6H906.8V1524.4H900.5ZM728.2 1524.4H741.0V1531.2H728.2ZM747.3 1524.4H779.2V1531.2H747.3ZM785.6 1524.4H823.9V1531.2H785.6ZM849.4 1524.4H881.3V1531.2H849.4ZM887.7 1524.4H906.8V1531.2H887.7ZM728.2 1531.2H785.6V1538.0H728.2ZM798.4 1531.2H804.8V1538.0H798.4ZM823.9 1531.2H830.3V1538.0H823.9ZM843.0 1531.2H913.2V1538.0H843.0ZM734.6 1538.0H747.3V1544.8H734.6ZM753.7 1538.0H804.8V1544.8H753.7ZM811.1 1531.2H817.5V1544.8H811.1ZM843.0 1538.0H900.5V1544.8H843.0ZM906.8 1538.0H932.4V1544.8H906.8ZM728.2 1544.8H817.5V1551.6H728.2ZM843.0 1544.8H855.8V1551.6H843.0ZM862.2 1544.8H887.7V1551.6H862.2ZM900.5 1544.8H906.8V1551.6H900.5ZM913.2 1544.8H938.7V1551.6H913.2ZM734.6 1551.6H753.7V1558.4H734.6ZM766.5 1551.6H804.8V1558.4H766.5ZM811.1 1551.6H830.3V1558.4H811.1ZM906.8 1551.6H926.0V1558.4H906.8ZM728.2 1558.4H753.7V1565.2H728.2ZM766.5 1558.4H817.5V1565.2H766.5ZM823.9 1558.4H830.3V1565.2H823.9ZM734.6 1565.2H772.9V1572.0H734.6ZM779.2 1565.2H792.0V1572.0H779.2ZM804.8 1565.2H836.6V1572.0H804.8ZM843.0 1551.6H881.3V1572.0H843.0ZM734.6 1572.0H817.5V1578.8H734.6ZM830.3 1572.0H862.2V1578.8H830.3ZM874.9 1572.0H881.3V1578.8H874.9ZM721.8 1578.8H766.5V1585.6H721.8ZM785.6 1578.8H792.0V1585.6H785.6ZM817.5 1578.8H830.3V1585.6H817.5ZM836.6 1578.8H843.0V1585.6H836.6ZM849.4 1578.8H887.7V1585.6H849.4ZM913.2 1578.8H919.6V1585.6H913.2ZM728.2 1585.6H766.5V1592.4H728.2ZM830.3 1585.6H849.4V1592.4H830.3ZM855.8 1585.6H926.0V1592.4H855.8ZM728.2 1592.4H734.6V1599.1H728.2ZM741.0 1592.4H779.2V1599.1H741.0ZM817.5 1592.4H823.9V1599.1H817.5ZM855.8 1592.4H868.5V1599.1H855.8ZM874.9 1592.4H881.3V1599.1H874.9ZM900.5 1592.4H919.6V1599.1H900.5ZM728.2 1599.1H760.1V1605.9H728.2ZM766.5 1599.1H792.0V1605.9H766.5ZM817.5 1599.1H830.3V1605.9H817.5ZM862.2 1599.1H868.5V1605.9H862.2ZM913.2 1599.1H919.6V1605.9H913.2ZM728.2 1605.9H753.7V1612.7H728.2ZM760.1 1605.9H766.5V1612.7H760.1ZM772.9 1605.9H779.2V1612.7H772.9ZM715.4 1612.7H766.5V1619.5H715.4ZM811.1 1612.7H817.5V1619.5H811.1ZM715.4 1619.5H728.2V1626.3H715.4ZM734.6 1619.5H766.5V1626.3H734.6ZM792.0 1619.5H798.4V1626.3H792.0ZM741.0 1626.3H747.3V1633.1H741.0ZM753.7 1626.3H760.1V1633.1H753.7ZM843.0 1619.5H849.4V1633.1H843.0ZM715.4 1633.1H728.2V1639.9H715.4ZM741.0 1633.1H766.5V1639.9H741.0ZM772.9 1633.1H779.2V1639.9H772.9ZM721.8 1639.9H734.6V1646.7H721.8ZM741.0 1639.9H753.7V1646.7H741.0ZM760.1 1639.9H766.5V1646.7H760.1ZM779.2 1639.9H785.6V1646.7H779.2ZM817.5 1639.9H823.9V1646.7H817.5ZM836.6 1639.9H843.0V1646.7H836.6ZM849.4 1639.9H862.2V1646.7H849.4ZM741.0 1646.7H792.0V1653.5H741.0ZM798.4 1646.7H811.1V1653.5H798.4ZM817.5 1646.7H843.0V1653.5H817.5ZM855.8 1646.7H862.2V1653.5H855.8ZM868.5 1646.7H874.9V1653.5H868.5ZM741.0 1653.5H747.3V1660.3H741.0ZM753.7 1653.5H772.9V1660.3H753.7ZM779.2 1653.5H811.1V1660.3H779.2ZM817.5 1653.5H823.9V1660.3H817.5ZM836.6 1653.5H868.5V1660.3H836.6ZM734.6 1660.3H747.3V1667.1H734.6ZM753.7 1660.3H760.1V1667.1H753.7ZM785.6 1660.3H792.0V1667.1H785.6ZM836.6 1660.3H849.4V1667.1H836.6ZM855.8 1660.3H868.5V1667.1H855.8ZM715.4 1667.1H721.8V1673.9H715.4ZM728.2 1667.1H734.6V1673.9H728.2ZM747.3 1667.1H753.7V1673.9H747.3ZM741.0 1673.9H779.2V1680.6H741.0ZM753.7 1680.6H760.1V1687.4H753.7ZM766.5 1680.6H779.2V1687.4H766.5ZM721.8 1680.6H728.2V1694.2H721.8ZM734.6 1687.4H741.0V1694.2H734.6ZM766.5 1687.4H772.9V1694.2H766.5ZM715.4 1694.2H728.2V1701.0H715.4ZM760.1 1694.2H766.5V1701.0H760.1ZM709.0 1701.0H715.4V1721.4H709.0ZM753.7 1714.6H760.1V1721.4H753.7ZM792.0 1714.6H804.8V1721.4H792.0ZM811.1 1707.8H817.5V1721.4H811.1ZM823.9 1714.6H830.3V1721.4H823.9ZM843.0 1714.6H849.4V1721.4H843.0ZM702.7 1721.4H715.4V1728.2H702.7ZM772.9 1721.4H779.2V1728.2H772.9ZM792.0 1721.4H817.5V1728.2H792.0ZM823.9 1721.4H836.6V1728.2H823.9ZM843.0 1721.4H862.2V1728.2H843.0ZM702.7 1728.2H709.0V1735.0H702.7ZM792.0 1728.2H836.6V1735.0H792.0ZM683.5 1735.0H689.9V1741.8H683.5ZM702.7 1735.0H715.4V1741.8H702.7ZM779.2 1735.0H785.6V1741.8H779.2ZM792.0 1735.0H798.4V1741.8H792.0ZM804.8 1735.0H823.9V1741.8H804.8ZM830.3 1735.0H843.0V1741.8H830.3ZM855.8 1735.0H862.2V1741.8H855.8ZM677.1 1741.8H683.5V1748.6H677.1ZM689.9 1741.8H696.3V1748.6H689.9ZM702.7 1741.8H709.0V1748.6H702.7ZM817.5 1741.8H830.3V1748.6H817.5ZM836.6 1741.8H843.0V1748.6H836.6ZM849.4 1741.8H855.8V1748.6H849.4ZM689.9 1748.6H702.7V1755.4H689.9ZM715.4 1748.6H721.8V1755.4H715.4ZM817.5 1748.6H823.9V1755.4H817.5ZM696.3 1755.4H715.4V1762.1H696.3ZM696.3 1762.1H709.0V1768.9H696.3ZM689.9 1768.9H696.3V1775.7H689.9ZM702.7 1768.9H721.8V1775.7H702.7ZM689.9 1775.7H715.4V1782.5H689.9ZM689.9 1782.5H702.7V1789.3H689.9ZM709.0 1782.5H721.8V1789.3H709.0ZM696.3 1789.3H715.4V1796.1H696.3ZM689.9 1796.1H721.8V1802.9H689.9ZM689.9 1802.9H696.3V1809.7H689.9ZM702.7 1802.9H715.4V1809.7H702.7ZM766.5 1802.9H772.9V1809.7H766.5ZM689.9 1809.7H728.2V1816.5H689.9ZM689.9 1816.5H696.3V1823.3H689.9ZM709.0 1816.5H715.4V1823.3H709.0ZM721.8 1816.5H728.2V1823.3H721.8ZM760.1 1809.7H766.5V1823.3H760.1ZM683.5 1823.3H715.4V1830.1H683.5ZM772.9 1809.7H779.2V1830.1H772.9ZM689.9 1830.1H721.8V1836.9H689.9ZM702.7 1836.9H709.0V1843.6H702.7ZM715.4 1836.9H721.8V1843.6H715.4ZM728.2 1836.9H734.6V1843.6H728.2ZM741.0 1830.1H747.3V1843.6H741.0ZM702.7 1843.6H741.0V1850.4H702.7ZM709.0 1850.4H715.4V1857.2H709.0ZM721.8 1850.4H728.2V1857.2H721.8ZM734.6 1850.4H747.3V1857.2H734.6ZM715.4 1857.2H741.0V1864.0H715.4ZM709.0 1864.0H741.0V1870.8H709.0ZM760.1 1864.0H766.5V1870.8H760.1ZM715.4 1870.8H741.0V1877.6H715.4ZM728.2 1877.6H734.6V1884.4H728.2ZM747.3 1870.8H760.1V1884.4H747.3ZM747.3 1884.4H766.5V1891.2H747.3ZM779.2 1884.4H785.6V1891.2H779.2ZM753.7 1891.2H772.9V1898.0H753.7ZM753.7 1898.0H779.2V1904.8H753.7ZM760.1 1904.8H804.8V1911.6H760.1ZM811.1 1904.8H817.5V1911.6H811.1ZM760.1 1911.6H779.2V1918.4H760.1ZM785.6 1911.6H804.8V1918.4H785.6ZM830.3 1911.6H843.0V1918.4H830.3ZM792.0 1918.4H855.8V1925.1H792.0ZM779.2 1925.1H785.6V1931.9H779.2ZM804.8 1925.1H881.3V1931.9H804.8ZM792.0 1925.1H798.4V1938.7H792.0ZM804.8 1931.9H811.1V1938.7H804.8ZM804.8 1938.7H843.0V1945.5H804.8ZM804.8 1945.5H811.1V1952.3H804.8Z" fill="#90c3dd"/>
<path d="M760.1 125.4H766.5V132.1H760.1ZM766.5 152.5H772.9V166.1H766.5ZM760.1 166.1H766.5V172.9H760.1ZM951.5 186.5H957.9V193.3H951.5ZM977.0 213.6H989.8V220.4H977.0ZM977.0 220.4H996.1V227.2H977.0ZM1028.0 220.4H1034.4V227.2H1028.0ZM977.0 227.2H983.4V240.8H977.0ZM983.4 240.8H989.8V247.6H983.4ZM1047.2 247.6H1053.6V254.4H1047.2ZM1059.9 254.4H1066.3V261.2H1059.9ZM1028.0 261.2H1040.8V268.0H1028.0ZM1047.2 261.2H1059.9V268.0H1047.2ZM1047.2 268.0H1053.6V274.8H1047.2ZM1059.9 268.0H1072.7V274.8H1059.9ZM1034.4 274.8H1053.6V281.6H1034.4ZM1059.9 274.8H1066.3V281.6H1059.9ZM1034.4 281.6H1047.2V288.4H1034.4ZM1066.3 281.6H1072.7V288.4H1066.3ZM1091.8 281.6H1098.2V288.4H1091.8ZM1034.4 288.4H1059.9V295.1H1034.4ZM1072.7 288.4H1079.1V295.1H1072.7ZM1034.4 295.1H1053.6V301.9H1034.4ZM1066.3 295.1H1079.1V301.9H1066.3ZM1130.1 295.1H1136.5V301.9H1130.1ZM1142.9 295.1H1149.3V301.9H1142.9ZM1053.6 301.9H1085.5V308.7H1053.6ZM1117.4 301.9H1123.8V308.7H1117.4ZM1059.9 308.7H1085.5V315.5H1059.9ZM1111.0 308.7H1123.8V315.5H1111.0ZM1047.2 315.5H1085.5V322.3H1047.2ZM1104.6 315.5H1123.8V322.3H1104.6ZM1047.2 322.3H1053.6V329.1H1047.2ZM1059.9 322.3H1072.7V329.1H1059.9ZM1117.4 322.3H1123.8V329.1H1117.4ZM996.1 322.3H1002.5V335.9H996.1ZM1066.3 329.1H1072.7V335.9H1066.3ZM1079.1 322.3H1085.5V335.9H1079.1ZM1225.8 329.1H1232.2V335.9H1225.8ZM964.2 335.9H970.6V342.7H964.2ZM977.0 335.9H989.8V342.7H977.0ZM1098.2 335.9H1104.6V342.7H1098.2ZM1111.0 335.9H1117.4V342.7H1111.0ZM1123.8 335.9H1149.3V342.7H1123.8ZM1059.9 335.9H1085.5V349.5H1059.9ZM1098.2 342.7H1123.8V349.5H1098.2ZM1008.9 349.5H1015.3V356.3H1008.9ZM1059.9 349.5H1104.6V356.3H1059.9ZM1111.0 349.5H1130.1V356.3H1111.0ZM1142.9 349.5H1149.3V356.3H1142.9ZM989.8 349.5H996.1V363.1H989.8ZM1034.4 356.3H1040.8V363.1H1034.4ZM1085.5 356.3H1098.2V363.1H1085.5ZM1111.0 356.3H1123.8V363.1H1111.0ZM1008.9 363.1H1015.3V369.9H1008.9ZM1021.7 363.1H1028.0V369.9H1021.7ZM1034.4 363.1H1047.2V369.9H1034.4ZM1053.6 363.1H1059.9V369.9H1053.6ZM1111.0 363.1H1130.1V369.9H1111.0ZM989.8 369.9H1008.9V376.6H989.8ZM1028.0 369.9H1034.4V376.6H1028.0ZM1066.3 369.9H1072.7V376.6H1066.3ZM1091.8 363.1H1098.2V376.6H1091.8ZM1123.8 369.9H1130.1V376.6H1123.8ZM1238.6 369.9H1251.3V376.6H1238.6ZM970.6 376.6H977.0V383.4H970.6ZM989.8 376.6H1034.4V383.4H989.8ZM1059.9 376.6H1072.7V383.4H1059.9ZM1117.4 376.6H1123.8V383.4H1117.4ZM1232.2 376.6H1251.3V383.4H1232.2ZM996.1 383.4H1028.0V390.2H996.1ZM1034.4 383.4H1047.2V390.2H1034.4ZM1104.6 383.4H1111.0V390.2H1104.6ZM1245.0 383.4H1257.7V390.2H1245.0ZM983.4 390.2H989.8V397.0H983.4ZM1015.3 390.2H1047.2V397.0H1015.3ZM1066.3 390.2H1072.7V397.0H1066.3ZM1251.3 390.2H1270.5V397.0H1251.3ZM1008.9 397.0H1015.3V403.8H1008.9ZM1021.7 397.0H1059.9V403.8H1021.7ZM1155.7 397.0H1162.0V403.8H1155.7ZM1245.0 397.0H1270.5V403.8H1245.0ZM989.8 397.0H996.1V410.6H989.8ZM1021.7 403.8H1034.4V410.6H1021.7ZM1040.8 403.8H1053.6V410.6H1040.8ZM1066.3 403.8H1072.7V410.6H1066.3ZM1085.5 403.8H1091.8V410.6H1085.5ZM1142.9 403.8H1149.3V410.6H1142.9ZM1008.9 410.6H1021.7V417.4H1008.9ZM1028.0 410.6H1034.4V417.4H1028.0ZM1181.2 410.6H1187.5V417.4H1181.2ZM1251.3 403.8H1270.5V417.4H1251.3ZM498.5 417.4H504.9V424.2H498.5ZM1008.9 417.4H1028.0V424.2H1008.9ZM1040.8 417.4H1047.2V424.2H1040.8ZM1059.9 410.6H1072.7V424.2H1059.9ZM1238.6 417.4H1245.0V424.2H1238.6ZM1251.3 417.4H1257.7V424.2H1251.3ZM1264.1 417.4H1270.5V424.2H1264.1ZM504.9 424.2H511.3V431.0H504.9ZM996.1 424.2H1053.6V431.0H996.1ZM1257.7 424.2H1264.1V431.0H1257.7ZM989.8 431.0H1002.5V437.8H989.8ZM1008.9 431.0H1021.7V437.8H1008.9ZM1028.0 431.0H1059.9V437.8H1028.0ZM1251.3 431.0H1276.9V437.8H1251.3ZM1104.6 437.8H1111.0V444.6H1104.6ZM1168.4 437.8H1174.8V444.6H1168.4ZM1238.6 431.0H1245.0V444.6H1238.6ZM1270.5 437.8H1276.9V444.6H1270.5ZM492.1 431.0H498.5V451.4H492.1ZM977.0 444.6H983.4V451.4H977.0ZM1008.9 437.8H1040.8V451.4H1008.9ZM1047.2 437.8H1053.6V451.4H1047.2ZM1059.9 437.8H1085.5V451.4H1059.9ZM1264.1 444.6H1283.2V451.4H1264.1ZM1289.6 444.6H1296.0V451.4H1289.6ZM983.4 451.4H989.8V458.1H983.4ZM996.1 451.4H1028.0V458.1H996.1ZM1034.4 451.4H1059.9V458.1H1034.4ZM1085.5 451.4H1091.8V458.1H1085.5ZM1130.1 451.4H1136.5V458.1H1130.1ZM1187.5 444.6H1193.9V458.1H1187.5ZM1251.3 451.4H1264.1V458.1H1251.3ZM926.0 458.1H932.4V464.9H926.0ZM1002.5 458.1H1059.9V464.9H1002.5ZM1079.1 458.1H1091.8V464.9H1079.1ZM1104.6 458.1H1111.0V464.9H1104.6ZM1181.2 458.1H1200.3V464.9H1181.2ZM1257.7 458.1H1264.1V464.9H1257.7ZM1289.6 458.1H1296.0V464.9H1289.6ZM1079.1 464.9H1085.5V471.7H1079.1ZM1091.8 464.9H1098.2V471.7H1091.8ZM1245.0 464.9H1251.3V471.7H1245.0ZM1283.2 464.9H1296.0V471.7H1283.2ZM996.1 464.9H1008.9V478.5H996.1ZM1021.7 464.9H1034.4V478.5H1021.7ZM1059.9 471.7H1098.2V478.5H1059.9ZM1123.8 464.9H1130.1V478.5H1123.8ZM1181.2 471.7H1187.5V478.5H1181.2ZM970.6 478.5H977.0V485.3H970.6ZM1015.3 478.5H1021.7V485.3H1015.3ZM1028.0 478.5H1034.4V485.3H1028.0ZM1040.8 478.5H1047.2V485.3H1040.8ZM1130.1 478.5H1136.5V485.3H1130.1ZM504.9 485.3H511.3V492.1H504.9ZM983.4 485.3H989.8V492.1H983.4ZM1008.9 485.3H1040.8V492.1H1008.9ZM1053.6 485.3H1059.9V492.1H1053.6ZM1296.0 485.3H1302.4V492.1H1296.0ZM492.1 492.1H511.3V498.9H492.1ZM970.6 492.1H977.0V498.9H970.6ZM989.8 492.1H1028.0V498.9H989.8ZM1034.4 492.1H1040.8V498.9H1034.4ZM1047.2 492.1H1059.9V498.9H1047.2ZM1079.1 492.1H1085.5V498.9H1079.1ZM1136.5 492.1H1142.9V498.9H1136.5ZM1162.0 492.1H1168.4V498.9H1162.0ZM1200.3 492.1H1232.2V498.9H1200.3ZM1276.9 478.5H1289.6V498.9H1276.9ZM485.8 498.9H504.9V505.7H485.8ZM906.8 498.9H913.2V505.7H906.8ZM932.4 498.9H945.1V505.7H932.4ZM951.5 498.9H957.9V505.7H951.5ZM977.0 498.9H983.4V505.7H977.0ZM989.8 498.9H1002.5V505.7H989.8ZM1008.9 498.9H1015.3V505.7H1008.9ZM1021.7 498.9H1028.0V505.7H1021.7ZM1040.8 498.9H1047.2V505.7H1040.8ZM1053.6 498.9H1059.9V505.7H1053.6ZM1066.3 498.9H1072.7V505.7H1066.3ZM1206.7 498.9H1225.8V505.7H1206.7ZM1232.2 498.9H1238.6V505.7H1232.2ZM1276.9 498.9H1283.2V505.7H1276.9ZM1289.6 498.9H1296.0V505.7H1289.6ZM492.1 505.7H504.9V512.5H492.1ZM517.6 505.7H524.0V512.5H517.6ZM862.2 505.7H868.5V512.5H862.2ZM919.6 505.7H926.0V512.5H919.6ZM970.6 505.7H996.1V512.5H970.6ZM1002.5 505.7H1021.7V512.5H1002.5ZM1034.4 505.7H1066.3V512.5H1034.4ZM1136.5 505.7H1142.9V512.5H1136.5ZM1193.9 505.7H1200.3V512.5H1193.9ZM1276.9 505.7H1289.6V512.5H1276.9ZM1308.8 505.7H1315.2V512.5H1308.8ZM906.8 512.5H913.2V519.3H906.8ZM919.6 512.5H932.4V519.3H919.6ZM945.1 505.7H951.5V519.3H945.1ZM964.2 512.5H1002.5V519.3H964.2ZM1008.9 512.5H1028.0V519.3H1008.9ZM1040.8 512.5H1047.2V519.3H1040.8ZM1059.9 512.5H1072.7V519.3H1059.9ZM913.2 519.3H926.0V526.1H913.2ZM932.4 519.3H945.1V526.1H932.4ZM957.9 519.3H989.8V526.1H957.9ZM996.1 519.3H1028.0V526.1H996.1ZM1142.9 519.3H1149.3V526.1H1142.9ZM1162.0 519.3H1181.2V526.1H1162.0ZM1187.5 519.3H1200.3V526.1H1187.5ZM1264.1 519.3H1270.5V526.1H1264.1ZM1289.6 519.3H1302.4V526.1H1289.6ZM1308.8 519.3H1315.2V526.1H1308.8ZM900.5 526.1H945.1V532.9H900.5ZM957.9 526.1H964.2V532.9H957.9ZM977.0 526.1H989.8V532.9H977.0ZM1002.5 526.1H1015.3V532.9H1002.5ZM1028.0 526.1H1034.4V532.9H1028.0ZM1053.6 519.3H1059.9V532.9H1053.6ZM1104.6 526.1H1111.0V532.9H1104.6ZM1130.1 526.1H1142.9V532.9H1130.1ZM1168.4 526.1H1206.7V532.9H1168.4ZM1219.4 526.1H1225.8V532.9H1219.4ZM1289.6 526.1H1315.2V532.9H1289.6ZM485.8 532.9H498.5V539.6H485.8ZM862.2 532.9H894.1V539.6H862.2ZM932.4 532.9H945.1V539.6H932.4ZM951.5 532.9H957.9V539.6H951.5ZM970.6 532.9H983.4V539.6H970.6ZM989.8 532.9H996.1V539.6H989.8ZM1034.4 532.9H1040.8V539.6H1034.4ZM1149.3 532.9H1200.3V539.6H1149.3ZM1213.1 532.9H1232.2V539.6H1213.1ZM1289.6 532.9H1302.4V539.6H1289.6ZM1308.8 532.9H1321.5V539.6H1308.8ZM1327.9 532.9H1334.3V539.6H1327.9ZM1340.7 532.9H1347.0V539.6H1340.7ZM1455.5 532.9H1461.9V539.6H1455.5ZM479.4 539.6H492.1V546.4H479.4ZM868.5 539.6H887.7V546.4H868.5ZM932.4 539.6H957.9V546.4H932.4ZM977.0 539.6H989.8V546.4H977.0ZM1072.7 539.6H1079.1V546.4H1072.7ZM1085.5 532.9H1091.8V546.4H1085.5ZM1104.6 539.6H1111.0V546.4H1104.6ZM1117.4 532.9H1136.5V546.4H1117.4ZM1149.3 539.6H1155.7V546.4H1149.3ZM1162.0 539.6H1206.7V546.4H1162.0ZM1213.1 539.6H1219.4V546.4H1213.1ZM1225.8 539.6H1238.6V546.4H1225.8ZM1264.1 539.6H1270.5V546.4H1264.1ZM1289.6 539.6H1321.5V546.4H1289.6ZM626.1 546.4H638.9V553.2H626.1ZM951.5 546.4H970.6V553.2H951.5ZM1002.5 546.4H1008.9V553.2H1002.5ZM1021.7 546.4H1028.0V553.2H1021.7ZM1168.4 546.4H1238.6V553.2H1168.4ZM1251.3 546.4H1257.7V553.2H1251.3ZM1283.2 546.4H1327.9V553.2H1283.2ZM473.0 546.4H485.8V560.0H473.0ZM498.5 546.4H511.3V560.0H498.5ZM868.5 546.4H881.3V560.0H868.5ZM887.7 553.2H894.1V560.0H887.7ZM938.7 553.2H945.1V560.0H938.7ZM1079.1 553.2H1085.5V560.0H1079.1ZM1091.8 553.2H1104.6V560.0H1091.8ZM1111.0 553.2H1117.4V560.0H1111.0ZM1149.3 546.4H1162.0V560.0H1149.3ZM1174.8 553.2H1193.9V560.0H1174.8ZM1200.3 553.2H1206.7V560.0H1200.3ZM1213.1 553.2H1245.0V560.0H1213.1ZM1276.9 553.2H1315.2V560.0H1276.9ZM1321.5 553.2H1327.9V560.0H1321.5ZM1334.3 553.2H1340.7V560.0H1334.3ZM874.9 560.0H887.7V566.8H874.9ZM900.5 560.0H906.8V566.8H900.5ZM945.1 560.0H951.5V566.8H945.1ZM983.4 560.0H989.8V566.8H983.4ZM1008.9 560.0H1015.3V566.8H1008.9ZM1034.4 560.0H1040.8V566.8H1034.4ZM1079.1 560.0H1098.2V566.8H1079.1ZM1149.3 560.0H1168.4V566.8H1149.3ZM1181.2 560.0H1187.5V566.8H1181.2ZM1225.8 560.0H1238.6V566.8H1225.8ZM1257.7 553.2H1264.1V566.8H1257.7ZM1283.2 560.0H1289.6V566.8H1283.2ZM1296.0 560.0H1315.2V566.8H1296.0ZM1321.5 560.0H1340.7V566.8H1321.5ZM504.9 566.8H511.3V573.6H504.9ZM651.6 566.8H658.0V573.6H651.6ZM855.8 560.0H862.2V573.6H855.8ZM1008.9 566.8H1021.7V573.6H1008.9ZM1047.2 566.8H1059.9V573.6H1047.2ZM1072.7 566.8H1085.5V573.6H1072.7ZM1155.7 566.8H1162.0V573.6H1155.7ZM1200.3 566.8H1206.7V573.6H1200.3ZM1225.8 566.8H1232.2V573.6H1225.8ZM1251.3 566.8H1264.1V573.6H1251.3ZM1283.2 566.8H1340.7V573.6H1283.2ZM1391.7 566.8H1398.1V573.6H1391.7ZM511.3 573.6H517.6V580.4H511.3ZM619.7 573.6H626.1V580.4H619.7ZM645.2 573.6H651.6V580.4H645.2ZM658.0 573.6H664.4V580.4H658.0ZM977.0 566.8H983.4V580.4H977.0ZM1072.7 573.6H1079.1V580.4H1072.7ZM1270.5 573.6H1283.2V580.4H1270.5ZM1289.6 573.6H1327.9V580.4H1289.6ZM1334.3 573.6H1347.0V580.4H1334.3ZM504.9 580.4H511.3V587.2H504.9ZM970.6 580.4H977.0V587.2H970.6ZM1079.1 580.4H1085.5V587.2H1079.1ZM1245.0 580.4H1251.3V587.2H1245.0ZM1283.2 580.4H1321.5V587.2H1283.2ZM1327.9 580.4H1334.3V587.2H1327.9ZM1340.7 580.4H1347.0V587.2H1340.7ZM479.4 587.2H485.8V594.0H479.4ZM874.9 587.2H881.3V594.0H874.9ZM1276.9 587.2H1289.6V594.0H1276.9ZM1296.0 587.2H1340.7V594.0H1296.0ZM479.4 594.0H492.1V600.8H479.4ZM645.2 594.0H651.6V600.8H645.2ZM1053.6 594.0H1059.9V600.8H1053.6ZM1289.6 594.0H1340.7V600.8H1289.6ZM1430.0 594.0H1436.4V600.8H1430.0ZM1615.0 594.0H1621.4V600.8H1615.0ZM473.0 600.8H479.4V607.6H473.0ZM498.5 600.8H504.9V607.6H498.5ZM804.8 600.8H811.1V607.6H804.8ZM881.3 600.8H887.7V607.6H881.3ZM1079.1 600.8H1085.5V607.6H1079.1ZM1276.9 600.8H1283.2V607.6H1276.9ZM1302.4 600.8H1353.4V607.6H1302.4ZM1359.8 600.8H1366.2V607.6H1359.8ZM1436.4 600.8H1442.8V607.6H1436.4ZM1602.2 600.8H1615.0V607.6H1602.2ZM479.4 607.6H485.8V614.4H479.4ZM1296.0 607.6H1347.0V614.4H1296.0ZM1353.4 607.6H1359.8V614.4H1353.4ZM1366.2 607.6H1372.6V614.4H1366.2ZM1404.5 607.6H1410.8V614.4H1404.5ZM1589.5 607.6H1608.6V614.4H1589.5ZM651.6 614.4H658.0V621.1H651.6ZM677.1 614.4H683.5V621.1H677.1ZM906.8 614.4H913.2V621.1H906.8ZM1315.2 614.4H1327.9V621.1H1315.2ZM1334.3 614.4H1353.4V621.1H1334.3ZM1372.6 614.4H1379.0V621.1H1372.6ZM1474.7 614.4H1481.0V621.1H1474.7ZM1519.3 614.4H1532.1V621.1H1519.3ZM1602.2 614.4H1608.6V621.1H1602.2ZM868.5 621.1H874.9V627.9H868.5ZM1315.2 621.1H1334.3V627.9H1315.2ZM1340.7 621.1H1353.4V627.9H1340.7ZM1519.3 621.1H1525.7V627.9H1519.3ZM683.5 627.9H689.9V634.7H683.5ZM811.1 627.9H817.5V634.7H811.1ZM1353.4 627.9H1359.8V634.7H1353.4ZM1519.3 627.9H1538.5V634.7H1519.3ZM741.0 634.7H747.3V641.5H741.0ZM945.1 634.7H951.5V641.5H945.1ZM1302.4 634.7H1308.8V641.5H1302.4ZM1512.9 634.7H1519.3V641.5H1512.9ZM1551.2 634.7H1557.6V641.5H1551.2ZM1583.1 634.7H1589.5V641.5H1583.1ZM702.7 641.5H709.0V648.3H702.7ZM996.1 641.5H1002.5V648.3H996.1ZM1072.7 641.5H1079.1V648.3H1072.7ZM1206.7 641.5H1213.1V648.3H1206.7ZM1398.1 641.5H1404.5V648.3H1398.1ZM1423.6 641.5H1430.0V648.3H1423.6ZM1506.5 641.5H1519.3V648.3H1506.5ZM1525.7 641.5H1538.5V648.3H1525.7ZM664.4 648.3H670.8V655.1H664.4ZM683.5 648.3H689.9V655.1H683.5ZM753.7 648.3H760.1V655.1H753.7ZM779.2 648.3H785.6V655.1H779.2ZM1155.7 648.3H1162.0V655.1H1155.7ZM1315.2 627.9H1340.7V655.1H1315.2ZM1347.0 641.5H1353.4V655.1H1347.0ZM1468.3 648.3H1474.7V655.1H1468.3ZM1512.9 648.3H1525.7V655.1H1512.9ZM1532.1 648.3H1544.8V655.1H1532.1ZM670.8 655.1H677.1V661.9H670.8ZM855.8 655.1H874.9V661.9H855.8ZM1296.0 655.1H1302.4V661.9H1296.0ZM1308.8 655.1H1315.2V661.9H1308.8ZM1321.5 655.1H1347.0V661.9H1321.5ZM1430.0 655.1H1436.4V661.9H1430.0ZM1519.3 655.1H1525.7V661.9H1519.3ZM638.9 661.9H645.2V668.7H638.9ZM855.8 661.9H868.5V668.7H855.8ZM1008.9 661.9H1015.3V668.7H1008.9ZM1034.4 661.9H1040.8V668.7H1034.4ZM1200.3 655.1H1225.8V668.7H1200.3ZM1321.5 661.9H1327.9V668.7H1321.5ZM1455.5 661.9H1461.9V668.7H1455.5ZM862.2 668.7H868.5V675.5H862.2ZM906.8 661.9H913.2V675.5H906.8ZM1200.3 668.7H1213.1V675.5H1200.3ZM1219.4 668.7H1238.6V675.5H1219.4ZM1289.6 668.7H1327.9V675.5H1289.6ZM1340.7 668.7H1347.0V675.5H1340.7ZM1359.8 668.7H1366.2V675.5H1359.8ZM843.0 675.5H849.4V682.3H843.0ZM874.9 675.5H881.3V682.3H874.9ZM1193.9 675.5H1200.3V682.3H1193.9ZM1213.1 675.5H1225.8V682.3H1213.1ZM1245.0 675.5H1257.7V682.3H1245.0ZM1289.6 675.5H1315.2V682.3H1289.6ZM1321.5 675.5H1327.9V682.3H1321.5ZM1334.3 675.5H1340.7V682.3H1334.3ZM1436.4 675.5H1442.8V682.3H1436.4ZM1551.2 668.7H1564.0V682.3H1551.2ZM1174.8 682.3H1181.2V689.1H1174.8ZM1187.5 682.3H1193.9V689.1H1187.5ZM1206.7 682.3H1225.8V689.1H1206.7ZM1232.2 675.5H1238.6V689.1H1232.2ZM1289.6 682.3H1321.5V689.1H1289.6ZM1327.9 682.3H1340.7V689.1H1327.9ZM1347.0 682.3H1353.4V689.1H1347.0ZM1359.8 682.3H1366.2V689.1H1359.8ZM1544.8 682.3H1551.2V689.1H1544.8ZM792.0 689.1H798.4V695.9H792.0ZM1181.2 689.1H1187.5V695.9H1181.2ZM1193.9 689.1H1200.3V695.9H1193.9ZM1206.7 689.1H1213.1V695.9H1206.7ZM1219.4 689.1H1245.0V695.9H1219.4ZM1283.2 689.1H1321.5V695.9H1283.2ZM1334.3 689.1H1340.7V695.9H1334.3ZM1442.8 689.1H1449.1V695.9H1442.8ZM1532.1 689.1H1538.5V695.9H1532.1ZM1544.8 689.1H1557.6V695.9H1544.8ZM760.1 695.9H766.5V702.6H760.1ZM1002.5 695.9H1008.9V702.6H1002.5ZM1181.2 695.9H1200.3V702.6H1181.2ZM1232.2 695.9H1251.3V702.6H1232.2ZM1270.5 695.9H1276.9V702.6H1270.5ZM1283.2 695.9H1302.4V702.6H1283.2ZM1308.8 695.9H1327.9V702.6H1308.8ZM1532.1 695.9H1544.8V702.6H1532.1ZM798.4 702.6H804.8V709.4H798.4ZM1187.5 702.6H1200.3V709.4H1187.5ZM1238.6 702.6H1251.3V709.4H1238.6ZM1296.0 702.6H1315.2V709.4H1296.0ZM1321.5 702.6H1340.7V709.4H1321.5ZM1353.4 702.6H1359.8V709.4H1353.4ZM1468.3 702.6H1474.7V709.4H1468.3ZM1519.3 702.6H1532.1V709.4H1519.3ZM1200.3 709.4H1219.4V716.2H1200.3ZM1225.8 702.6H1232.2V716.2H1225.8ZM1276.9 709.4H1296.0V716.2H1276.9ZM1302.4 709.4H1308.8V716.2H1302.4ZM1512.9 709.4H1519.3V716.2H1512.9ZM1551.2 709.4H1557.6V716.2H1551.2ZM651.6 716.2H658.0V723.0H651.6ZM823.9 716.2H830.3V723.0H823.9ZM1200.3 716.2H1206.7V723.0H1200.3ZM1213.1 716.2H1219.4V723.0H1213.1ZM1225.8 716.2H1238.6V723.0H1225.8ZM1276.9 716.2H1283.2V723.0H1276.9ZM1315.2 709.4H1340.7V723.0H1315.2ZM1379.0 716.2H1385.3V723.0H1379.0ZM1455.5 709.4H1468.3V723.0H1455.5ZM1532.1 709.4H1544.8V723.0H1532.1ZM728.2 723.0H741.0V729.8H728.2ZM785.6 723.0H792.0V729.8H785.6ZM817.5 723.0H836.6V729.8H817.5ZM906.8 723.0H913.2V729.8H906.8ZM1187.5 723.0H1206.7V729.8H1187.5ZM1289.6 723.0H1302.4V729.8H1289.6ZM1315.2 723.0H1327.9V729.8H1315.2ZM1334.3 723.0H1340.7V729.8H1334.3ZM1468.3 723.0H1474.7V729.8H1468.3ZM1519.3 723.0H1538.5V729.8H1519.3ZM664.4 709.4H670.8V736.6H664.4ZM811.1 729.8H836.6V736.6H811.1ZM843.0 723.0H849.4V736.6H843.0ZM1187.5 729.8H1200.3V736.6H1187.5ZM1213.1 723.0H1232.2V736.6H1213.1ZM1264.1 723.0H1276.9V736.6H1264.1ZM1455.5 729.8H1461.9V736.6H1455.5ZM1500.2 729.8H1525.7V736.6H1500.2ZM1538.5 729.8H1544.8V736.6H1538.5ZM798.4 736.6H804.8V743.4H798.4ZM811.1 736.6H830.3V743.4H811.1ZM894.1 736.6H900.5V743.4H894.1ZM1174.8 736.6H1181.2V743.4H1174.8ZM1187.5 736.6H1206.7V743.4H1187.5ZM1219.4 736.6H1225.8V743.4H1219.4ZM1270.5 736.6H1276.9V743.4H1270.5ZM1289.6 729.8H1296.0V743.4H1289.6ZM1302.4 736.6H1308.8V743.4H1302.4ZM1315.2 729.8H1340.7V743.4H1315.2ZM1442.8 736.6H1455.5V743.4H1442.8ZM1506.5 736.6H1512.9V743.4H1506.5ZM1519.3 736.6H1538.5V743.4H1519.3ZM709.0 743.4H721.8V750.2H709.0ZM728.2 729.8H734.6V750.2H728.2ZM792.0 743.4H830.3V750.2H792.0ZM843.0 743.4H855.8V750.2H843.0ZM868.5 743.4H874.9V750.2H868.5ZM1174.8 743.4H1219.4V750.2H1174.8ZM1238.6 736.6H1251.3V750.2H1238.6ZM1276.9 743.4H1283.2V750.2H1276.9ZM1289.6 743.4H1302.4V750.2H1289.6ZM1308.8 743.4H1327.9V750.2H1308.8ZM1334.3 743.4H1340.7V750.2H1334.3ZM1430.0 743.4H1436.4V750.2H1430.0ZM1449.1 743.4H1455.5V750.2H1449.1ZM1512.9 743.4H1519.3V750.2H1512.9ZM1525.7 743.4H1532.1V750.2H1525.7ZM728.2 750.2H741.0V757.0H728.2ZM792.0 750.2H798.4V757.0H792.0ZM945.1 750.2H951.5V757.0H945.1ZM1015.3 750.2H1021.7V757.0H1015.3ZM1162.0 750.2H1213.1V757.0H1162.0ZM1219.4 750.2H1225.8V757.0H1219.4ZM1296.0 750.2H1302.4V757.0H1296.0ZM1327.9 750.2H1340.7V757.0H1327.9ZM1347.0 750.2H1353.4V757.0H1347.0ZM1436.4 750.2H1442.8V757.0H1436.4ZM1532.1 750.2H1538.5V757.0H1532.1ZM734.6 757.0H741.0V763.8H734.6ZM862.2 750.2H887.7V763.8H862.2ZM1015.3 757.0H1028.0V763.8H1015.3ZM1034.4 757.0H1040.8V763.8H1034.4ZM1053.6 757.0H1059.9V763.8H1053.6ZM1162.0 757.0H1168.4V763.8H1162.0ZM1174.8 757.0H1213.1V763.8H1174.8ZM1264.1 750.2H1276.9V763.8H1264.1ZM1327.9 757.0H1334.3V763.8H1327.9ZM1347.0 757.0H1359.8V763.8H1347.0ZM1423.6 757.0H1442.8V763.8H1423.6ZM798.4 757.0H811.1V770.6H798.4ZM862.2 763.8H868.5V770.6H862.2ZM957.9 763.8H964.2V770.6H957.9ZM1008.9 763.8H1015.3V770.6H1008.9ZM1021.7 763.8H1034.4V770.6H1021.7ZM1040.8 763.8H1047.2V770.6H1040.8ZM1072.7 763.8H1079.1V770.6H1072.7ZM1142.9 763.8H1181.2V770.6H1142.9ZM1187.5 763.8H1200.3V770.6H1187.5ZM1219.4 763.8H1225.8V770.6H1219.4ZM1238.6 763.8H1245.0V770.6H1238.6ZM1251.3 763.8H1264.1V770.6H1251.3ZM1379.0 763.8H1385.3V770.6H1379.0ZM1430.0 763.8H1436.4V770.6H1430.0ZM1468.3 763.8H1474.7V770.6H1468.3ZM1519.3 763.8H1532.1V770.6H1519.3ZM1538.5 763.8H1544.8V770.6H1538.5ZM728.2 770.6H734.6V777.4H728.2ZM785.6 770.6H804.8V777.4H785.6ZM823.9 770.6H830.3V777.4H823.9ZM855.8 770.6H868.5V777.4H855.8ZM881.3 763.8H894.1V777.4H881.3ZM1008.9 770.6H1053.6V777.4H1008.9ZM1155.7 770.6H1187.5V777.4H1155.7ZM1193.9 770.6H1200.3V777.4H1193.9ZM1213.1 770.6H1232.2V777.4H1213.1ZM1257.7 770.6H1264.1V777.4H1257.7ZM1334.3 770.6H1340.7V777.4H1334.3ZM1442.8 770.6H1449.1V777.4H1442.8ZM1461.9 770.6H1468.3V777.4H1461.9ZM1474.7 770.6H1481.0V777.4H1474.7ZM1519.3 770.6H1525.7V777.4H1519.3ZM772.9 777.4H779.2V784.1H772.9ZM785.6 777.4H811.1V784.1H785.6ZM836.6 777.4H855.8V784.1H836.6ZM862.2 777.4H874.9V784.1H862.2ZM1021.7 777.4H1028.0V784.1H1021.7ZM1034.4 777.4H1040.8V784.1H1034.4ZM1047.2 777.4H1072.7V784.1H1047.2ZM1136.5 770.6H1142.9V784.1H1136.5ZM1149.3 777.4H1200.3V784.1H1149.3ZM1359.8 777.4H1366.2V784.1H1359.8ZM1512.9 777.4H1532.1V784.1H1512.9ZM779.2 784.1H785.6V790.9H779.2ZM798.4 784.1H804.8V790.9H798.4ZM811.1 784.1H817.5V790.9H811.1ZM823.9 784.1H836.6V790.9H823.9ZM843.0 784.1H862.2V790.9H843.0ZM1008.9 784.1H1015.3V790.9H1008.9ZM1021.7 784.1H1047.2V790.9H1021.7ZM1053.6 784.1H1072.7V790.9H1053.6ZM1130.1 784.1H1142.9V790.9H1130.1ZM1149.3 784.1H1174.8V790.9H1149.3ZM1181.2 784.1H1206.7V790.9H1181.2ZM1245.0 784.1H1251.3V790.9H1245.0ZM1315.2 784.1H1321.5V790.9H1315.2ZM830.3 790.9H843.0V797.7H830.3ZM849.4 790.9H868.5V797.7H849.4ZM874.9 790.9H887.7V797.7H874.9ZM1021.7 790.9H1028.0V797.7H1021.7ZM1053.6 790.9H1079.1V797.7H1053.6ZM1104.6 790.9H1111.0V797.7H1104.6ZM1123.8 790.9H1136.5V797.7H1123.8ZM1174.8 790.9H1187.5V797.7H1174.8ZM798.4 797.7H804.8V804.5H798.4ZM830.3 797.7H855.8V804.5H830.3ZM862.2 797.7H868.5V804.5H862.2ZM874.9 797.7H881.3V804.5H874.9ZM1059.9 797.7H1072.7V804.5H1059.9ZM1117.4 797.7H1130.1V804.5H1117.4ZM1136.5 797.7H1142.9V804.5H1136.5ZM1174.8 797.7H1181.2V804.5H1174.8ZM1193.9 790.9H1200.3V804.5H1193.9ZM1213.1 790.9H1225.8V804.5H1213.1ZM1232.2 797.7H1245.0V804.5H1232.2ZM1289.6 797.7H1296.0V804.5H1289.6ZM1481.0 797.7H1487.4V804.5H1481.0ZM600.6 804.5H613.3V811.3H600.6ZM811.1 797.7H817.5V811.3H811.1ZM1104.6 804.5H1117.4V811.3H1104.6ZM1162.0 804.5H1200.3V811.3H1162.0ZM1264.1 804.5H1283.2V811.3H1264.1ZM1289.6 804.5H1302.4V811.3H1289.6ZM594.2 811.3H600.6V818.1H594.2ZM607.0 811.3H613.3V818.1H607.0ZM830.3 811.3H843.0V818.1H830.3ZM855.8 804.5H868.5V818.1H855.8ZM874.9 811.3H887.7V818.1H874.9ZM989.8 811.3H996.1V818.1H989.8ZM1002.5 811.3H1008.9V818.1H1002.5ZM1021.7 811.3H1028.0V818.1H1021.7ZM1085.5 811.3H1098.2V818.1H1085.5ZM1104.6 811.3H1123.8V818.1H1104.6ZM1130.1 804.5H1149.3V818.1H1130.1ZM1174.8 811.3H1200.3V818.1H1174.8ZM1225.8 804.5H1238.6V818.1H1225.8ZM1251.3 811.3H1257.7V818.1H1251.3ZM1283.2 811.3H1302.4V818.1H1283.2ZM1308.8 811.3H1315.2V818.1H1308.8ZM1519.3 811.3H1525.7V818.1H1519.3ZM594.2 818.1H607.0V824.9H594.2ZM811.1 818.1H817.5V824.9H811.1ZM855.8 818.1H862.2V824.9H855.8ZM868.5 818.1H881.3V824.9H868.5ZM932.4 818.1H945.1V824.9H932.4ZM951.5 818.1H957.9V824.9H951.5ZM1034.4 818.1H1040.8V824.9H1034.4ZM1085.5 818.1H1149.3V824.9H1085.5ZM1155.7 818.1H1162.0V824.9H1155.7ZM1187.5 818.1H1206.7V824.9H1187.5ZM1219.4 818.1H1225.8V824.9H1219.4ZM1270.5 811.3H1276.9V824.9H1270.5ZM1283.2 818.1H1289.6V824.9H1283.2ZM1296.0 818.1H1308.8V824.9H1296.0ZM1519.3 818.1H1532.1V824.9H1519.3ZM804.8 824.9H817.5V831.7H804.8ZM823.9 818.1H830.3V831.7H823.9ZM836.6 818.1H843.0V831.7H836.6ZM855.8 824.9H887.7V831.7H855.8ZM938.7 824.9H957.9V831.7H938.7ZM1091.8 824.9H1098.2V831.7H1091.8ZM1123.8 824.9H1136.5V831.7H1123.8ZM1142.9 824.9H1155.7V831.7H1142.9ZM1168.4 824.9H1174.8V831.7H1168.4ZM1181.2 824.9H1200.3V831.7H1181.2ZM1206.7 824.9H1213.1V831.7H1206.7ZM1264.1 824.9H1283.2V831.7H1264.1ZM1289.6 824.9H1302.4V831.7H1289.6ZM945.1 831.7H951.5V838.5H945.1ZM957.9 831.7H964.2V838.5H957.9ZM996.1 818.1H1008.9V838.5H996.1ZM1021.7 831.7H1053.6V838.5H1021.7ZM1059.9 831.7H1072.7V838.5H1059.9ZM1104.6 824.9H1111.0V838.5H1104.6ZM1117.4 831.7H1142.9V838.5H1117.4ZM1200.3 831.7H1206.7V838.5H1200.3ZM1238.6 831.7H1251.3V838.5H1238.6ZM1283.2 831.7H1289.6V838.5H1283.2ZM1308.8 831.7H1315.2V838.5H1308.8ZM1398.1 831.7H1410.8V838.5H1398.1ZM1506.5 831.7H1512.9V838.5H1506.5ZM607.0 838.5H613.3V845.3H607.0ZM804.8 838.5H811.1V845.3H804.8ZM849.4 838.5H855.8V845.3H849.4ZM868.5 831.7H894.1V845.3H868.5ZM957.9 838.5H977.0V845.3H957.9ZM983.4 838.5H989.8V845.3H983.4ZM996.1 838.5H1002.5V845.3H996.1ZM1021.7 838.5H1034.4V845.3H1021.7ZM1040.8 838.5H1047.2V845.3H1040.8ZM1059.9 838.5H1066.3V845.3H1059.9ZM1079.1 838.5H1085.5V845.3H1079.1ZM1104.6 838.5H1117.4V845.3H1104.6ZM1123.8 838.5H1149.3V845.3H1123.8ZM1193.9 838.5H1200.3V845.3H1193.9ZM1225.8 838.5H1238.6V845.3H1225.8ZM1270.5 838.5H1276.9V845.3H1270.5ZM1296.0 831.7H1302.4V845.3H1296.0ZM1353.4 838.5H1359.8V845.3H1353.4ZM1398.1 838.5H1404.5V845.3H1398.1ZM696.3 845.3H702.7V852.1H696.3ZM760.1 845.3H772.9V852.1H760.1ZM843.0 845.3H849.4V852.1H843.0ZM855.8 845.3H862.2V852.1H855.8ZM894.1 845.3H919.6V852.1H894.1ZM1111.0 845.3H1117.4V852.1H1111.0ZM1130.1 845.3H1149.3V852.1H1130.1ZM1155.7 845.3H1162.0V852.1H1155.7ZM1187.5 845.3H1200.3V852.1H1187.5ZM1232.2 845.3H1257.7V852.1H1232.2ZM1359.8 845.3H1366.2V852.1H1359.8ZM753.7 852.1H766.5V858.9H753.7ZM849.4 852.1H855.8V858.9H849.4ZM862.2 852.1H868.5V858.9H862.2ZM881.3 845.3H887.7V858.9H881.3ZM894.1 852.1H913.2V858.9H894.1ZM964.2 852.1H970.6V858.9H964.2ZM977.0 852.1H983.4V858.9H977.0ZM1008.9 845.3H1015.3V858.9H1008.9ZM1034.4 852.1H1040.8V858.9H1034.4ZM1053.6 852.1H1066.3V858.9H1053.6ZM1085.5 852.1H1098.2V858.9H1085.5ZM1123.8 852.1H1130.1V858.9H1123.8ZM1136.5 852.1H1149.3V858.9H1136.5ZM1225.8 852.1H1245.0V858.9H1225.8ZM1251.3 852.1H1257.7V858.9H1251.3ZM1264.1 852.1H1270.5V858.9H1264.1ZM1340.7 852.1H1347.0V858.9H1340.7ZM1372.6 852.1H1379.0V858.9H1372.6ZM1493.8 852.1H1500.2V858.9H1493.8ZM1506.5 852.1H1512.9V858.9H1506.5ZM677.1 858.9H683.5V865.6H677.1ZM855.8 858.9H862.2V865.6H855.8ZM868.5 858.9H887.7V865.6H868.5ZM926.0 858.9H957.9V865.6H926.0ZM1111.0 858.9H1117.4V865.6H1111.0ZM1149.3 858.9H1155.7V865.6H1149.3ZM1193.9 858.9H1200.3V865.6H1193.9ZM1206.7 858.9H1225.8V865.6H1206.7ZM1238.6 858.9H1251.3V865.6H1238.6ZM1347.0 858.9H1353.4V865.6H1347.0ZM855.8 865.6H881.3V872.4H855.8ZM887.7 865.6H894.1V872.4H887.7ZM932.4 865.6H938.7V872.4H932.4ZM945.1 865.6H951.5V872.4H945.1ZM1111.0 865.6H1123.8V872.4H1111.0ZM1155.7 865.6H1162.0V872.4H1155.7ZM1181.2 865.6H1187.5V872.4H1181.2ZM1193.9 865.6H1219.4V872.4H1193.9ZM1225.8 865.6H1238.6V872.4H1225.8ZM1264.1 865.6H1270.5V872.4H1264.1ZM1276.9 865.6H1283.2V872.4H1276.9ZM1372.6 865.6H1379.0V872.4H1372.6ZM1487.4 865.6H1493.8V872.4H1487.4ZM664.4 872.4H677.1V879.2H664.4ZM683.5 872.4H702.7V879.2H683.5ZM709.0 872.4H715.4V879.2H709.0ZM862.2 872.4H868.5V879.2H862.2ZM913.2 872.4H919.6V879.2H913.2ZM932.4 872.4H957.9V879.2H932.4ZM970.6 858.9H983.4V879.2H970.6ZM1111.0 872.4H1117.4V879.2H1111.0ZM1123.8 872.4H1142.9V879.2H1123.8ZM1149.3 872.4H1155.7V879.2H1149.3ZM1206.7 872.4H1238.6V879.2H1206.7ZM1264.1 872.4H1289.6V879.2H1264.1ZM1340.7 872.4H1347.0V879.2H1340.7ZM1353.4 872.4H1359.8V879.2H1353.4ZM1391.7 865.6H1398.1V879.2H1391.7ZM1512.9 872.4H1519.3V879.2H1512.9ZM670.8 879.2H677.1V886.0H670.8ZM689.9 879.2H715.4V886.0H689.9ZM721.8 879.2H728.2V886.0H721.8ZM868.5 879.2H874.9V886.0H868.5ZM932.4 879.2H951.5V886.0H932.4ZM957.9 879.2H964.2V886.0H957.9ZM970.6 879.2H977.0V886.0H970.6ZM1015.3 879.2H1021.7V886.0H1015.3ZM1104.6 879.2H1117.4V886.0H1104.6ZM1123.8 879.2H1136.5V886.0H1123.8ZM1142.9 879.2H1162.0V886.0H1142.9ZM1174.8 879.2H1181.2V886.0H1174.8ZM1200.3 879.2H1238.6V886.0H1200.3ZM1257.7 879.2H1283.2V886.0H1257.7ZM1302.4 879.2H1308.8V886.0H1302.4ZM1334.3 879.2H1340.7V886.0H1334.3ZM1359.8 879.2H1366.2V886.0H1359.8ZM677.1 886.0H683.5V892.8H677.1ZM689.9 886.0H709.0V892.8H689.9ZM766.5 886.0H772.9V892.8H766.5ZM945.1 886.0H964.2V892.8H945.1ZM983.4 886.0H989.8V892.8H983.4ZM1008.9 886.0H1034.4V892.8H1008.9ZM1066.3 886.0H1072.7V892.8H1066.3ZM1117.4 886.0H1123.8V892.8H1117.4ZM1136.5 886.0H1142.9V892.8H1136.5ZM1289.6 886.0H1296.0V892.8H1289.6ZM1391.7 886.0H1398.1V892.8H1391.7ZM1519.3 886.0H1525.7V892.8H1519.3ZM689.9 892.8H696.3V899.6H689.9ZM702.7 892.8H715.4V899.6H702.7ZM881.3 892.8H887.7V899.6H881.3ZM945.1 892.8H970.6V899.6H945.1ZM1015.3 892.8H1021.7V899.6H1015.3ZM1028.0 892.8H1034.4V899.6H1028.0ZM1059.9 892.8H1072.7V899.6H1059.9ZM1111.0 892.8H1123.8V899.6H1111.0ZM1181.2 892.8H1187.5V899.6H1181.2ZM1225.8 886.0H1245.0V899.6H1225.8ZM1251.3 892.8H1257.7V899.6H1251.3ZM1264.1 886.0H1276.9V899.6H1264.1ZM1302.4 886.0H1327.9V899.6H1302.4ZM1353.4 886.0H1366.2V899.6H1353.4ZM1474.7 892.8H1481.0V899.6H1474.7ZM1525.7 892.8H1532.1V899.6H1525.7ZM709.0 899.6H728.2V906.4H709.0ZM741.0 899.6H747.3V906.4H741.0ZM932.4 886.0H938.7V906.4H932.4ZM945.1 899.6H957.9V906.4H945.1ZM1002.5 899.6H1008.9V906.4H1002.5ZM1053.6 899.6H1059.9V906.4H1053.6ZM1079.1 899.6H1091.8V906.4H1079.1ZM1111.0 899.6H1136.5V906.4H1111.0ZM1219.4 899.6H1232.2V906.4H1219.4ZM1238.6 899.6H1283.2V906.4H1238.6ZM1289.6 899.6H1302.4V906.4H1289.6ZM1366.2 899.6H1379.0V906.4H1366.2ZM1468.3 899.6H1481.0V906.4H1468.3ZM1487.4 892.8H1493.8V906.4H1487.4ZM1525.7 899.6H1538.5V906.4H1525.7ZM715.4 906.4H728.2V913.2H715.4ZM932.4 906.4H957.9V913.2H932.4ZM964.2 906.4H970.6V913.2H964.2ZM996.1 906.4H1002.5V913.2H996.1ZM1008.9 906.4H1015.3V913.2H1008.9ZM1098.2 906.4H1104.6V913.2H1098.2ZM1111.0 906.4H1130.1V913.2H1111.0ZM1219.4 906.4H1238.6V913.2H1219.4ZM1245.0 906.4H1257.7V913.2H1245.0ZM1264.1 906.4H1276.9V913.2H1264.1ZM1327.9 906.4H1334.3V913.2H1327.9ZM1347.0 906.4H1353.4V913.2H1347.0ZM1366.2 906.4H1372.6V913.2H1366.2ZM1468.3 906.4H1493.8V913.2H1468.3ZM1519.3 906.4H1525.7V913.2H1519.3ZM1532.1 906.4H1538.5V913.2H1532.1ZM715.4 913.2H721.8V920.0H715.4ZM741.0 913.2H747.3V920.0H741.0ZM772.9 913.2H779.2V920.0H772.9ZM932.4 913.2H938.7V920.0H932.4ZM945.1 913.2H964.2V920.0H945.1ZM970.6 913.2H983.4V920.0H970.6ZM1098.2 913.2H1142.9V920.0H1098.2ZM1149.3 913.2H1155.7V920.0H1149.3ZM1251.3 913.2H1264.1V920.0H1251.3ZM1270.5 913.2H1276.9V920.0H1270.5ZM1283.2 906.4H1302.4V920.0H1283.2ZM1308.8 913.2H1315.2V920.0H1308.8ZM1353.4 913.2H1385.3V920.0H1353.4ZM1449.1 913.2H1455.5V920.0H1449.1ZM1461.9 913.2H1481.0V920.0H1461.9ZM1487.4 913.2H1493.8V920.0H1487.4ZM1500.2 913.2H1506.5V920.0H1500.2ZM1525.7 913.2H1532.1V920.0H1525.7ZM721.8 920.0H728.2V926.8H721.8ZM747.3 920.0H753.7V926.8H747.3ZM906.8 920.0H913.2V926.8H906.8ZM932.4 920.0H996.1V926.8H932.4ZM1130.1 920.0H1149.3V926.8H1130.1ZM1162.0 920.0H1168.4V926.8H1162.0ZM1225.8 920.0H1232.2V926.8H1225.8ZM1245.0 920.0H1302.4V926.8H1245.0ZM1327.9 913.2H1340.7V926.8H1327.9ZM1347.0 920.0H1379.0V926.8H1347.0ZM1385.3 920.0H1391.7V926.8H1385.3ZM1442.8 920.0H1449.1V926.8H1442.8ZM1461.9 920.0H1474.7V926.8H1461.9ZM1512.9 920.0H1525.7V926.8H1512.9ZM1532.1 920.0H1538.5V926.8H1532.1ZM913.2 926.8H919.6V933.6H913.2ZM926.0 926.8H983.4V933.6H926.0ZM1130.1 926.8H1136.5V933.6H1130.1ZM1149.3 926.8H1200.3V933.6H1149.3ZM1264.1 926.8H1276.9V933.6H1264.1ZM1289.6 926.8H1308.8V933.6H1289.6ZM1430.0 920.0H1436.4V933.6H1430.0ZM1442.8 926.8H1468.3V933.6H1442.8ZM1493.8 926.8H1519.3V933.6H1493.8ZM753.7 926.8H760.1V940.4H753.7ZM919.6 933.6H938.7V940.4H919.6ZM989.8 933.6H996.1V940.4H989.8ZM1098.2 920.0H1123.8V940.4H1098.2ZM1155.7 933.6H1168.4V940.4H1155.7ZM1174.8 933.6H1181.2V940.4H1174.8ZM1187.5 933.6H1193.9V940.4H1187.5ZM1232.2 933.6H1238.6V940.4H1232.2ZM1257.7 933.6H1315.2V940.4H1257.7ZM1327.9 933.6H1334.3V940.4H1327.9ZM1340.7 926.8H1366.2V940.4H1340.7ZM1430.0 933.6H1455.5V940.4H1430.0ZM1493.8 933.6H1500.2V940.4H1493.8ZM1506.5 933.6H1512.9V940.4H1506.5ZM772.9 940.4H779.2V947.1H772.9ZM804.8 940.4H811.1V947.1H804.8ZM945.1 933.6H970.6V947.1H945.1ZM977.0 933.6H983.4V947.1H977.0ZM989.8 940.4H1002.5V947.1H989.8ZM1111.0 940.4H1149.3V947.1H1111.0ZM1162.0 940.4H1168.4V947.1H1162.0ZM1174.8 940.4H1187.5V947.1H1174.8ZM1251.3 940.4H1257.7V947.1H1251.3ZM1276.9 940.4H1308.8V947.1H1276.9ZM1315.2 940.4H1347.0V947.1H1315.2ZM1430.0 940.4H1436.4V947.1H1430.0ZM760.1 947.1H766.5V953.9H760.1ZM798.4 947.1H804.8V953.9H798.4ZM811.1 947.1H817.5V953.9H811.1ZM836.6 947.1H843.0V953.9H836.6ZM919.6 947.1H926.0V953.9H919.6ZM932.4 940.4H938.7V953.9H932.4ZM945.1 947.1H983.4V953.9H945.1ZM996.1 947.1H1008.9V953.9H996.1ZM1098.2 947.1H1149.3V953.9H1098.2ZM1168.4 947.1H1187.5V953.9H1168.4ZM1289.6 947.1H1302.4V953.9H1289.6ZM1308.8 947.1H1334.3V953.9H1308.8ZM1340.7 947.1H1353.4V953.9H1340.7ZM1359.8 940.4H1366.2V953.9H1359.8ZM1436.4 947.1H1449.1V953.9H1436.4ZM1493.8 940.4H1506.5V953.9H1493.8ZM766.5 953.9H772.9V960.7H766.5ZM785.6 947.1H792.0V960.7H785.6ZM932.4 953.9H996.1V960.7H932.4ZM1002.5 953.9H1008.9V960.7H1002.5ZM1098.2 953.9H1123.8V960.7H1098.2ZM1168.4 953.9H1174.8V960.7H1168.4ZM1308.8 953.9H1321.5V960.7H1308.8ZM1327.9 953.9H1359.8V960.7H1327.9ZM1430.0 953.9H1436.4V960.7H1430.0ZM1487.4 953.9H1506.5V960.7H1487.4ZM753.7 960.7H766.5V967.5H753.7ZM779.2 960.7H792.0V967.5H779.2ZM798.4 960.7H804.8V967.5H798.4ZM945.1 960.7H951.5V967.5H945.1ZM964.2 960.7H970.6V967.5H964.2ZM977.0 960.7H1002.5V967.5H977.0ZM1021.7 960.7H1028.0V967.5H1021.7ZM1111.0 960.7H1130.1V967.5H1111.0ZM1136.5 953.9H1149.3V967.5H1136.5ZM1155.7 960.7H1162.0V967.5H1155.7ZM1321.5 960.7H1327.9V967.5H1321.5ZM1334.3 960.7H1366.2V967.5H1334.3ZM1519.3 960.7H1525.7V967.5H1519.3ZM766.5 967.5H779.2V974.3H766.5ZM785.6 967.5H792.0V974.3H785.6ZM932.4 967.5H957.9V974.3H932.4ZM983.4 967.5H1002.5V974.3H983.4ZM1040.8 967.5H1047.2V974.3H1040.8ZM1066.3 967.5H1072.7V974.3H1066.3ZM1142.9 967.5H1149.3V974.3H1142.9ZM1162.0 967.5H1181.2V974.3H1162.0ZM1238.6 967.5H1245.0V974.3H1238.6ZM1251.3 967.5H1257.7V974.3H1251.3ZM1321.5 967.5H1347.0V974.3H1321.5ZM1353.4 967.5H1366.2V974.3H1353.4ZM1372.6 967.5H1379.0V974.3H1372.6ZM1442.8 953.9H1449.1V974.3H1442.8ZM1481.0 967.5H1487.4V974.3H1481.0ZM766.5 974.3H792.0V981.1H766.5ZM926.0 974.3H964.2V981.1H926.0ZM983.4 974.3H1008.9V981.1H983.4ZM1015.3 974.3H1028.0V981.1H1015.3ZM1034.4 974.3H1040.8V981.1H1034.4ZM1047.2 974.3H1053.6V981.1H1047.2ZM1059.9 974.3H1066.3V981.1H1059.9ZM1098.2 974.3H1104.6V981.1H1098.2ZM1187.5 974.3H1193.9V981.1H1187.5ZM1245.0 974.3H1251.3V981.1H1245.0ZM1327.9 974.3H1334.3V981.1H1327.9ZM1340.7 974.3H1379.0V981.1H1340.7ZM1493.8 960.7H1506.5V981.1H1493.8ZM753.7 974.3H760.1V987.9H753.7ZM772.9 981.1H785.6V987.9H772.9ZM798.4 981.1H804.8V987.9H798.4ZM932.4 981.1H938.7V987.9H932.4ZM945.1 981.1H970.6V987.9H945.1ZM977.0 981.1H1028.0V987.9H977.0ZM1053.6 981.1H1079.1V987.9H1053.6ZM1136.5 981.1H1142.9V987.9H1136.5ZM1232.2 981.1H1238.6V987.9H1232.2ZM1296.0 981.1H1308.8V987.9H1296.0ZM1340.7 981.1H1347.0V987.9H1340.7ZM1372.6 981.1H1379.0V987.9H1372.6ZM1385.3 981.1H1391.7V987.9H1385.3ZM1423.6 981.1H1436.4V987.9H1423.6ZM1442.8 981.1H1461.9V987.9H1442.8ZM1481.0 981.1H1487.4V987.9H1481.0ZM766.5 987.9H779.2V994.7H766.5ZM830.3 987.9H836.6V994.7H830.3ZM919.6 987.9H996.1V994.7H919.6ZM1002.5 987.9H1034.4V994.7H1002.5ZM1040.8 987.9H1072.7V994.7H1040.8ZM1206.7 987.9H1213.1V994.7H1206.7ZM1327.9 987.9H1334.3V994.7H1327.9ZM1366.2 987.9H1372.6V994.7H1366.2ZM1379.0 987.9H1391.7V994.7H1379.0ZM1398.1 987.9H1404.5V994.7H1398.1ZM1430.0 987.9H1436.4V994.7H1430.0ZM1487.4 987.9H1493.8V994.7H1487.4ZM760.1 994.7H766.5V1001.5H760.1ZM772.9 994.7H779.2V1001.5H772.9ZM817.5 994.7H823.9V1001.5H817.5ZM906.8 994.7H919.6V1001.5H906.8ZM938.7 994.7H945.1V1001.5H938.7ZM957.9 994.7H1072.7V1001.5H957.9ZM1111.0 994.7H1142.9V1001.5H1111.0ZM1213.1 994.7H1219.4V1001.5H1213.1ZM1417.2 994.7H1423.6V1001.5H1417.2ZM1436.4 994.7H1449.1V1001.5H1436.4ZM766.5 1001.5H779.2V1008.3H766.5ZM855.8 1001.5H862.2V1008.3H855.8ZM881.3 1001.5H887.7V1008.3H881.3ZM919.6 1001.5H932.4V1008.3H919.6ZM951.5 1001.5H957.9V1008.3H951.5ZM964.2 1001.5H970.6V1008.3H964.2ZM977.0 1001.5H1072.7V1008.3H977.0ZM1104.6 1001.5H1149.3V1008.3H1104.6ZM1276.9 1001.5H1283.2V1008.3H1276.9ZM1296.0 994.7H1327.9V1008.3H1296.0ZM1379.0 1001.5H1385.3V1008.3H1379.0ZM1430.0 1001.5H1442.8V1008.3H1430.0ZM1474.7 1001.5H1481.0V1008.3H1474.7ZM772.9 1008.3H792.0V1015.1H772.9ZM817.5 1008.3H823.9V1015.1H817.5ZM830.3 1008.3H843.0V1015.1H830.3ZM874.9 1008.3H887.7V1015.1H874.9ZM894.1 1008.3H900.5V1015.1H894.1ZM913.2 1008.3H919.6V1015.1H913.2ZM957.9 1008.3H1059.9V1015.1H957.9ZM1066.3 1008.3H1072.7V1015.1H1066.3ZM1098.2 1008.3H1142.9V1015.1H1098.2ZM1162.0 1008.3H1168.4V1015.1H1162.0ZM1289.6 1008.3H1302.4V1015.1H1289.6ZM753.7 1015.1H760.1V1021.9H753.7ZM772.9 1015.1H785.6V1021.9H772.9ZM804.8 1015.1H843.0V1021.9H804.8ZM881.3 1015.1H887.7V1021.9H881.3ZM894.1 1015.1H919.6V1021.9H894.1ZM964.2 1015.1H1079.1V1021.9H964.2ZM1098.2 1015.1H1123.8V1021.9H1098.2ZM1130.1 1015.1H1136.5V1021.9H1130.1ZM1155.7 1015.1H1174.8V1021.9H1155.7ZM1385.3 1015.1H1391.7V1021.9H1385.3ZM772.9 1021.9H779.2V1028.6H772.9ZM798.4 1021.9H804.8V1028.6H798.4ZM817.5 1021.9H843.0V1028.6H817.5ZM881.3 1021.9H919.6V1028.6H881.3ZM951.5 1021.9H957.9V1028.6H951.5ZM977.0 1021.9H1111.0V1028.6H977.0ZM1136.5 1021.9H1174.8V1028.6H1136.5ZM1289.6 1015.1H1296.0V1028.6H1289.6ZM1442.8 1021.9H1449.1V1028.6H1442.8ZM785.6 1028.6H792.0V1035.4H785.6ZM798.4 1028.6H817.5V1035.4H798.4ZM823.9 1028.6H830.3V1035.4H823.9ZM836.6 1028.6H849.4V1035.4H836.6ZM881.3 1028.6H887.7V1035.4H881.3ZM894.1 1028.6H919.6V1035.4H894.1ZM932.4 1028.6H938.7V1035.4H932.4ZM970.6 1028.6H1034.4V1035.4H970.6ZM1040.8 1028.6H1091.8V1035.4H1040.8ZM1098.2 1028.6H1123.8V1035.4H1098.2ZM1149.3 1028.6H1155.7V1035.4H1149.3ZM1162.0 1028.6H1174.8V1035.4H1162.0ZM1327.9 1021.9H1340.7V1035.4H1327.9ZM1423.6 1028.6H1430.0V1035.4H1423.6ZM753.7 1035.4H760.1V1042.2H753.7ZM779.2 1035.4H804.8V1042.2H779.2ZM830.3 1035.4H836.6V1042.2H830.3ZM849.4 1035.4H887.7V1042.2H849.4ZM945.1 1035.4H951.5V1042.2H945.1ZM996.1 1035.4H1040.8V1042.2H996.1ZM1142.9 1035.4H1149.3V1042.2H1142.9ZM1302.4 1035.4H1340.7V1042.2H1302.4ZM1410.8 1035.4H1430.0V1042.2H1410.8ZM1455.5 1035.4H1461.9V1042.2H1455.5ZM1474.7 1035.4H1481.0V1042.2H1474.7ZM747.3 1042.2H753.7V1049.0H747.3ZM779.2 1042.2H792.0V1049.0H779.2ZM798.4 1042.2H804.8V1049.0H798.4ZM843.0 1042.2H855.8V1049.0H843.0ZM881.3 1042.2H894.1V1049.0H881.3ZM1002.5 1042.2H1047.2V1049.0H1002.5ZM1059.9 1035.4H1098.2V1049.0H1059.9ZM1111.0 1042.2H1117.4V1049.0H1111.0ZM1123.8 1042.2H1130.1V1049.0H1123.8ZM1302.4 1042.2H1347.0V1049.0H1302.4ZM1417.2 1042.2H1430.0V1049.0H1417.2ZM843.0 1049.0H849.4V1055.8H843.0ZM874.9 1049.0H881.3V1055.8H874.9ZM887.7 1049.0H900.5V1055.8H887.7ZM945.1 1049.0H951.5V1055.8H945.1ZM983.4 1035.4H989.8V1055.8H983.4ZM996.1 1049.0H1002.5V1055.8H996.1ZM1008.9 1049.0H1040.8V1055.8H1008.9ZM1251.3 1049.0H1257.7V1055.8H1251.3ZM1296.0 1049.0H1302.4V1055.8H1296.0ZM1353.4 1049.0H1366.2V1055.8H1353.4ZM1385.3 1049.0H1391.7V1055.8H1385.3ZM1398.1 1049.0H1417.2V1055.8H1398.1ZM760.1 1055.8H779.2V1062.6H760.1ZM804.8 1049.0H811.1V1062.6H804.8ZM887.7 1055.8H894.1V1062.6H887.7ZM1002.5 1055.8H1008.9V1062.6H1002.5ZM1021.7 1055.8H1034.4V1062.6H1021.7ZM1193.9 1055.8H1200.3V1062.6H1193.9ZM1340.7 1055.8H1353.4V1062.6H1340.7ZM1391.7 1055.8H1417.2V1062.6H1391.7ZM1442.8 1055.8H1449.1V1062.6H1442.8ZM741.0 1062.6H747.3V1069.4H741.0ZM772.9 1062.6H785.6V1069.4H772.9ZM836.6 1062.6H843.0V1069.4H836.6ZM868.5 1062.6H874.9V1069.4H868.5ZM919.6 1055.8H926.0V1069.4H919.6ZM970.6 1062.6H977.0V1069.4H970.6ZM1391.7 1062.6H1398.1V1069.4H1391.7ZM1410.8 1062.6H1417.2V1069.4H1410.8ZM766.5 1069.4H772.9V1076.2H766.5ZM779.2 1069.4H785.6V1076.2H779.2ZM798.4 1062.6H804.8V1076.2H798.4ZM881.3 1069.4H887.7V1076.2H881.3ZM932.4 1069.4H938.7V1076.2H932.4ZM1015.3 1069.4H1021.7V1076.2H1015.3ZM1308.8 1069.4H1315.2V1076.2H1308.8ZM1321.5 1069.4H1327.9V1076.2H1321.5ZM1347.0 1062.6H1353.4V1076.2H1347.0ZM1398.1 1069.4H1410.8V1076.2H1398.1ZM779.2 1076.2H811.1V1083.0H779.2ZM919.6 1076.2H932.4V1083.0H919.6ZM957.9 1076.2H970.6V1083.0H957.9ZM1008.9 1076.2H1034.4V1083.0H1008.9ZM1264.1 1076.2H1270.5V1083.0H1264.1ZM1385.3 1076.2H1391.7V1083.0H1385.3ZM741.0 1076.2H753.7V1089.8H741.0ZM760.1 1083.0H766.5V1089.8H760.1ZM779.2 1083.0H785.6V1089.8H779.2ZM792.0 1083.0H804.8V1089.8H792.0ZM951.5 1083.0H970.6V1089.8H951.5ZM1028.0 1083.0H1040.8V1089.8H1028.0ZM1104.6 1083.0H1111.0V1089.8H1104.6ZM1142.9 1083.0H1149.3V1089.8H1142.9ZM804.8 1089.8H817.5V1096.6H804.8ZM894.1 1089.8H900.5V1096.6H894.1ZM957.9 1089.8H964.2V1096.6H957.9ZM1034.4 1089.8H1047.2V1096.6H1034.4ZM1079.1 1089.8H1085.5V1096.6H1079.1ZM1098.2 1089.8H1104.6V1096.6H1098.2ZM1130.1 1089.8H1136.5V1096.6H1130.1ZM1289.6 1089.8H1296.0V1096.6H1289.6ZM1321.5 1089.8H1327.9V1096.6H1321.5ZM804.8 1096.6H811.1V1103.4H804.8ZM830.3 1096.6H836.6V1103.4H830.3ZM900.5 1096.6H906.8V1103.4H900.5ZM926.0 1096.6H945.1V1103.4H926.0ZM964.2 1096.6H970.6V1103.4H964.2ZM1008.9 1083.0H1021.7V1103.4H1008.9ZM1034.4 1096.6H1040.8V1103.4H1034.4ZM1085.5 1096.6H1091.8V1103.4H1085.5ZM1104.6 1096.6H1111.0V1103.4H1104.6ZM1123.8 1096.6H1136.5V1103.4H1123.8ZM1219.4 1096.6H1225.8V1103.4H1219.4ZM1289.6 1096.6H1302.4V1103.4H1289.6ZM804.8 1103.4H830.3V1110.1H804.8ZM862.2 1103.4H868.5V1110.1H862.2ZM881.3 1103.4H887.7V1110.1H881.3ZM926.0 1103.4H938.7V1110.1H926.0ZM1028.0 1103.4H1034.4V1110.1H1028.0ZM1155.7 1103.4H1162.0V1110.1H1155.7ZM1232.2 1103.4H1238.6V1110.1H1232.2ZM798.4 1110.1H817.5V1116.9H798.4ZM894.1 1103.4H906.8V1116.9H894.1ZM913.2 1110.1H932.4V1116.9H913.2ZM951.5 1110.1H957.9V1116.9H951.5ZM1034.4 1110.1H1040.8V1116.9H1034.4ZM1111.0 1110.1H1117.4V1116.9H1111.0ZM1149.3 1110.1H1162.0V1116.9H1149.3ZM1245.0 1110.1H1251.3V1116.9H1245.0ZM779.2 1116.9H785.6V1123.7H779.2ZM817.5 1116.9H830.3V1123.7H817.5ZM849.4 1116.9H881.3V1123.7H849.4ZM906.8 1116.9H932.4V1123.7H906.8ZM1142.9 1116.9H1162.0V1123.7H1142.9ZM1225.8 1110.1H1238.6V1123.7H1225.8ZM1276.9 1116.9H1283.2V1123.7H1276.9ZM817.5 1123.7H823.9V1130.5H817.5ZM843.0 1123.7H881.3V1130.5H843.0ZM887.7 1123.7H926.0V1130.5H887.7ZM1130.1 1123.7H1136.5V1130.5H1130.1ZM1149.3 1123.7H1155.7V1130.5H1149.3ZM1213.1 1123.7H1219.4V1130.5H1213.1ZM1257.7 1123.7H1276.9V1130.5H1257.7ZM747.3 1130.5H766.5V1137.3H747.3ZM785.6 1130.5H804.8V1137.3H785.6ZM823.9 1130.5H830.3V1137.3H823.9ZM849.4 1130.5H855.8V1137.3H849.4ZM862.2 1130.5H874.9V1137.3H862.2ZM906.8 1130.5H919.6V1137.3H906.8ZM938.7 1130.5H945.1V1137.3H938.7ZM1200.3 1130.5H1206.7V1137.3H1200.3ZM1213.1 1130.5H1238.6V1137.3H1213.1ZM1283.2 1123.7H1289.6V1137.3H1283.2ZM766.5 1137.3H792.0V1144.1H766.5ZM817.5 1137.3H823.9V1144.1H817.5ZM849.4 1137.3H874.9V1144.1H849.4ZM881.3 1137.3H894.1V1144.1H881.3ZM906.8 1137.3H913.2V1144.1H906.8ZM926.0 1137.3H932.4V1144.1H926.0ZM1200.3 1137.3H1232.2V1144.1H1200.3ZM1238.6 1137.3H1245.0V1144.1H1238.6ZM1257.7 1137.3H1264.1V1144.1H1257.7ZM792.0 1144.1H804.8V1150.9H792.0ZM811.1 1144.1H823.9V1150.9H811.1ZM849.4 1144.1H855.8V1150.9H849.4ZM862.2 1144.1H868.5V1150.9H862.2ZM1193.9 1144.1H1200.3V1150.9H1193.9ZM1213.1 1144.1H1219.4V1150.9H1213.1ZM1225.8 1144.1H1264.1V1150.9H1225.8ZM798.4 1150.9H804.8V1157.7H798.4ZM823.9 1150.9H830.3V1157.7H823.9ZM836.6 1150.9H843.0V1157.7H836.6ZM868.5 1150.9H874.9V1157.7H868.5ZM881.3 1144.1H887.7V1157.7H881.3ZM894.1 1144.1H932.4V1157.7H894.1ZM938.7 1150.9H945.1V1157.7H938.7ZM1206.7 1150.9H1213.1V1157.7H1206.7ZM1225.8 1150.9H1245.0V1157.7H1225.8ZM1251.3 1150.9H1257.7V1157.7H1251.3ZM862.2 1157.7H874.9V1164.5H862.2ZM887.7 1157.7H906.8V1164.5H887.7ZM913.2 1157.7H919.6V1164.5H913.2ZM926.0 1157.7H932.4V1164.5H926.0ZM817.5 1164.5H823.9V1171.3H817.5ZM862.2 1164.5H887.7V1171.3H862.2ZM894.1 1164.5H919.6V1171.3H894.1ZM1270.5 1164.5H1276.9V1171.3H1270.5ZM804.8 1171.3H811.1V1178.1H804.8ZM830.3 1171.3H836.6V1178.1H830.3ZM900.5 1171.3H919.6V1178.1H900.5ZM836.6 1178.1H843.0V1184.9H836.6ZM855.8 1171.3H868.5V1184.9H855.8ZM894.1 1178.1H900.5V1184.9H894.1ZM906.8 1178.1H913.2V1184.9H906.8ZM849.4 1184.9H855.8V1191.6H849.4ZM874.9 1178.1H881.3V1191.6H874.9ZM900.5 1184.9H906.8V1191.6H900.5ZM919.6 1184.9H926.0V1191.6H919.6ZM951.5 1184.9H957.9V1191.6H951.5ZM792.0 1191.6H798.4V1198.4H792.0ZM804.8 1198.4H817.5V1205.2H804.8ZM849.4 1198.4H855.8V1205.2H849.4ZM919.6 1191.6H932.4V1205.2H919.6ZM766.5 1205.2H772.9V1212.0H766.5ZM804.8 1205.2H811.1V1212.0H804.8ZM919.6 1205.2H926.0V1212.0H919.6ZM945.1 1205.2H951.5V1212.0H945.1ZM811.1 1212.0H836.6V1218.8H811.1ZM913.2 1212.0H919.6V1218.8H913.2ZM938.7 1212.0H945.1V1218.8H938.7ZM977.0 1212.0H983.4V1218.8H977.0ZM823.9 1218.8H830.3V1225.6H823.9ZM983.4 1218.8H989.8V1225.6H983.4ZM721.8 1225.6H728.2V1232.4H721.8ZM817.5 1225.6H823.9V1232.4H817.5ZM836.6 1225.6H843.0V1232.4H836.6ZM772.9 1232.4H779.2V1239.2H772.9ZM817.5 1232.4H836.6V1239.2H817.5ZM900.5 1232.4H906.8V1239.2H900.5ZM811.1 1239.2H817.5V1246.0H811.1ZM779.2 1246.0H785.6V1252.8H779.2ZM804.8 1246.0H823.9V1252.8H804.8ZM779.2 1252.8H792.0V1259.6H779.2ZM881.3 1252.8H887.7V1259.6H881.3ZM945.1 1252.8H951.5V1259.6H945.1ZM766.5 1259.6H772.9V1266.4H766.5ZM779.2 1259.6H798.4V1266.4H779.2ZM811.1 1252.8H817.5V1266.4H811.1ZM798.4 1266.4H804.8V1273.1H798.4ZM957.9 1266.4H964.2V1273.1H957.9ZM977.0 1266.4H983.4V1273.1H977.0ZM779.2 1273.1H785.6V1279.9H779.2ZM798.4 1273.1H811.1V1279.9H798.4ZM823.9 1273.1H830.3V1279.9H823.9ZM881.3 1273.1H887.7V1279.9H881.3ZM938.7 1279.9H945.1V1286.7H938.7ZM772.9 1286.7H779.2V1293.5H772.9ZM862.2 1293.5H868.5V1300.3H862.2ZM983.4 1293.5H989.8V1300.3H983.4ZM817.5 1293.5H843.0V1307.1H817.5ZM970.6 1300.3H977.0V1307.1H970.6ZM817.5 1307.1H823.9V1313.9H817.5ZM830.3 1307.1H836.6V1313.9H830.3ZM817.5 1313.9H830.3V1320.7H817.5ZM1008.9 1313.9H1015.3V1320.7H1008.9ZM792.0 1320.7H798.4V1327.5H792.0ZM823.9 1320.7H830.3V1327.5H823.9ZM874.9 1320.7H881.3V1327.5H874.9ZM1040.8 1320.7H1047.2V1327.5H1040.8ZM881.3 1327.5H887.7V1334.3H881.3ZM1047.2 1334.3H1053.6V1341.1H1047.2ZM1059.9 1334.3H1066.3V1341.1H1059.9ZM1091.8 1334.3H1098.2V1341.1H1091.8ZM1079.1 1341.1H1085.5V1347.9H1079.1ZM849.4 1347.9H855.8V1354.6H849.4ZM1053.6 1347.9H1059.9V1354.6H1053.6ZM1066.3 1354.6H1072.7V1361.4H1066.3ZM1098.2 1354.6H1104.6V1361.4H1098.2ZM1117.4 1354.6H1123.8V1361.4H1117.4ZM702.7 1368.2H709.0V1375.0H702.7ZM868.5 1415.8H874.9V1422.6H868.5ZM804.8 1476.9H811.1V1483.7H804.8ZM747.3 1483.7H753.7V1490.5H747.3ZM798.4 1483.7H804.8V1490.5H798.4ZM741.0 1490.5H747.3V1497.3H741.0ZM760.1 1490.5H766.5V1497.3H760.1ZM804.8 1510.9H811.1V1517.6H804.8ZM823.9 1510.9H830.3V1517.6H823.9ZM874.9 1510.9H881.3V1517.6H874.9ZM811.1 1517.6H817.5V1524.4H811.1ZM741.0 1524.4H747.3V1531.2H741.0ZM779.2 1524.4H785.6V1531.2H779.2ZM823.9 1524.4H843.0V1531.2H823.9ZM792.0 1531.2H798.4V1538.0H792.0ZM804.8 1531.2H811.1V1538.0H804.8ZM817.5 1531.2H823.9V1538.0H817.5ZM830.3 1531.2H843.0V1538.0H830.3ZM728.2 1538.0H734.6V1544.8H728.2ZM817.5 1538.0H843.0V1544.8H817.5ZM823.9 1544.8H843.0V1551.6H823.9ZM728.2 1551.6H734.6V1558.4H728.2ZM804.8 1551.6H811.1V1558.4H804.8ZM830.3 1551.6H843.0V1558.4H830.3ZM932.4 1551.6H938.7V1558.4H932.4ZM753.7 1551.6H766.5V1565.2H753.7ZM817.5 1558.4H823.9V1565.2H817.5ZM798.4 1565.2H804.8V1572.0H798.4ZM836.6 1558.4H843.0V1572.0H836.6ZM823.9 1572.0H830.3V1578.8H823.9ZM862.2 1572.0H874.9V1578.8H862.2ZM766.5 1578.8H785.6V1592.4H766.5ZM792.0 1578.8H804.8V1592.4H792.0ZM734.6 1592.4H741.0V1599.1H734.6ZM785.6 1592.4H792.0V1599.1H785.6ZM798.4 1592.4H811.1V1599.1H798.4ZM830.3 1592.4H855.8V1599.1H830.3ZM760.1 1599.1H766.5V1605.9H760.1ZM830.3 1599.1H849.4V1605.9H830.3ZM868.5 1599.1H874.9V1605.9H868.5ZM785.6 1605.9H887.7V1612.7H785.6ZM798.4 1612.7H811.1V1619.5H798.4ZM817.5 1612.7H887.7V1619.5H817.5ZM728.2 1619.5H734.6V1626.3H728.2ZM798.4 1619.5H836.6V1626.3H798.4ZM721.8 1626.3H741.0V1633.1H721.8ZM747.3 1626.3H753.7V1633.1H747.3ZM798.4 1626.3H811.1V1633.1H798.4ZM817.5 1626.3H843.0V1633.1H817.5ZM849.4 1619.5H881.3V1633.1H849.4ZM728.2 1633.1H741.0V1639.9H728.2ZM766.5 1633.1H772.9V1639.9H766.5ZM779.2 1633.1H792.0V1639.9H779.2ZM798.4 1633.1H804.8V1639.9H798.4ZM811.1 1633.1H874.9V1639.9H811.1ZM715.4 1639.9H721.8V1646.7H715.4ZM734.6 1639.9H741.0V1646.7H734.6ZM772.9 1639.9H779.2V1646.7H772.9ZM792.0 1639.9H817.5V1646.7H792.0ZM823.9 1639.9H830.3V1646.7H823.9ZM843.0 1639.9H849.4V1646.7H843.0ZM862.2 1639.9H874.9V1646.7H862.2ZM709.0 1646.7H741.0V1653.5H709.0ZM843.0 1646.7H855.8V1653.5H843.0ZM862.2 1646.7H868.5V1653.5H862.2ZM715.4 1653.5H741.0V1660.3H715.4ZM772.9 1653.5H779.2V1660.3H772.9ZM811.1 1653.5H817.5V1660.3H811.1ZM823.9 1653.5H830.3V1660.3H823.9ZM715.4 1660.3H734.6V1667.1H715.4ZM747.3 1660.3H753.7V1667.1H747.3ZM760.1 1660.3H785.6V1667.1H760.1ZM792.0 1660.3H836.6V1667.1H792.0ZM849.4 1660.3H855.8V1667.1H849.4ZM721.8 1667.1H728.2V1673.9H721.8ZM741.0 1667.1H747.3V1673.9H741.0ZM753.7 1667.1H766.5V1673.9H753.7ZM772.9 1667.1H843.0V1673.9H772.9ZM779.2 1673.9H830.3V1680.6H779.2ZM741.0 1680.6H753.7V1687.4H741.0ZM760.1 1680.6H766.5V1687.4H760.1ZM779.2 1680.6H792.0V1687.4H779.2ZM798.4 1680.6H823.9V1687.4H798.4ZM753.7 1687.4H766.5V1694.2H753.7ZM779.2 1687.4H785.6V1694.2H779.2ZM792.0 1687.4H798.4V1694.2H792.0ZM804.8 1687.4H823.9V1694.2H804.8ZM792.0 1694.2H817.5V1701.0H792.0ZM753.7 1694.2H760.1V1707.8H753.7ZM766.5 1701.0H779.2V1707.8H766.5ZM792.0 1701.0H823.9V1707.8H792.0ZM753.7 1707.8H772.9V1714.6H753.7ZM792.0 1707.8H811.1V1714.6H792.0ZM817.5 1707.8H830.3V1714.6H817.5ZM728.2 1714.6H734.6V1721.4H728.2ZM747.3 1714.6H753.7V1721.4H747.3ZM760.1 1714.6H772.9V1721.4H760.1ZM785.6 1714.6H792.0V1721.4H785.6ZM804.8 1714.6H811.1V1721.4H804.8ZM830.3 1714.6H843.0V1721.4H830.3ZM721.8 1721.4H728.2V1728.2H721.8ZM753.7 1721.4H772.9V1728.2H753.7ZM817.5 1714.6H823.9V1728.2H817.5ZM836.6 1721.4H843.0V1728.2H836.6ZM862.2 1721.4H868.5V1728.2H862.2ZM766.5 1728.2H785.6V1735.0H766.5ZM836.6 1728.2H868.5V1735.0H836.6ZM715.4 1728.2H728.2V1741.8H715.4ZM753.7 1735.0H779.2V1741.8H753.7ZM798.4 1735.0H804.8V1741.8H798.4ZM823.9 1735.0H830.3V1741.8H823.9ZM843.0 1735.0H855.8V1741.8H843.0ZM779.2 1741.8H804.8V1748.6H779.2ZM830.3 1741.8H836.6V1748.6H830.3ZM843.0 1741.8H849.4V1748.6H843.0ZM855.8 1741.8H862.2V1748.6H855.8ZM702.7 1748.6H709.0V1755.4H702.7ZM747.3 1748.6H753.7V1755.4H747.3ZM779.2 1748.6H792.0V1755.4H779.2ZM798.4 1748.6H804.8V1755.4H798.4ZM811.1 1741.8H817.5V1755.4H811.1ZM830.3 1748.6H855.8V1755.4H830.3ZM804.8 1755.4H811.1V1762.1H804.8ZM823.9 1755.4H830.3V1762.1H823.9ZM689.9 1755.4H696.3V1768.9H689.9ZM715.4 1762.1H728.2V1768.9H715.4ZM792.0 1762.1H798.4V1768.9H792.0ZM702.7 1782.5H709.0V1789.3H702.7ZM721.8 1782.5H728.2V1789.3H721.8ZM747.3 1782.5H753.7V1789.3H747.3ZM798.4 1782.5H804.8V1789.3H798.4ZM715.4 1789.3H721.8V1796.1H715.4ZM728.2 1789.3H734.6V1796.1H728.2ZM741.0 1789.3H747.3V1796.1H741.0ZM766.5 1789.3H772.9V1796.1H766.5ZM804.8 1789.3H811.1V1796.1H804.8ZM721.8 1796.1H728.2V1802.9H721.8ZM734.6 1796.1H792.0V1802.9H734.6ZM696.3 1802.9H702.7V1809.7H696.3ZM715.4 1802.9H728.2V1809.7H715.4ZM741.0 1802.9H747.3V1809.7H741.0ZM753.7 1802.9H766.5V1809.7H753.7ZM772.9 1802.9H798.4V1809.7H772.9ZM766.5 1809.7H772.9V1816.5H766.5ZM779.2 1809.7H785.6V1816.5H779.2ZM696.3 1816.5H702.7V1823.3H696.3ZM715.4 1816.5H721.8V1823.3H715.4ZM728.2 1809.7H760.1V1823.3H728.2ZM715.4 1823.3H753.7V1830.1H715.4ZM721.8 1830.1H741.0V1836.9H721.8ZM747.3 1830.1H753.7V1836.9H747.3ZM709.0 1836.9H715.4V1843.6H709.0ZM721.8 1836.9H728.2V1843.6H721.8ZM741.0 1843.6H747.3V1850.4H741.0ZM728.2 1850.4H734.6V1857.2H728.2ZM753.7 1864.0H760.1V1870.8H753.7ZM760.1 1870.8H766.5V1877.6H760.1ZM779.2 1877.6H804.8V1884.4H779.2ZM766.5 1884.4H772.9V1891.2H766.5ZM785.6 1884.4H798.4V1891.2H785.6ZM779.2 1891.2H792.0V1898.0H779.2ZM798.4 1891.2H811.1V1898.0H798.4ZM779.2 1898.0H817.5V1904.8H779.2ZM753.7 1904.8H760.1V1911.6H753.7ZM804.8 1904.8H811.1V1911.6H804.8ZM817.5 1904.8H830.3V1911.6H817.5ZM779.2 1911.6H785.6V1918.4H779.2ZM804.8 1911.6H823.9V1918.4H804.8Z" fill="#fffebe"/>
<path d="M779.2 125.4H785.6V132.1H779.2ZM785.6 132.1H792.0V145.7H785.6ZM772.9 145.7H785.6V152.5H772.9ZM779.2 152.5H785.6V159.3H779.2ZM792.0 152.5H798.4V166.1H792.0ZM996.1 220.4H1015.3V227.2H996.1ZM1008.9 227.2H1021.7V234.0H1008.9ZM983.4 227.2H1002.5V240.8H983.4ZM977.0 240.8H983.4V247.6H977.0ZM1028.0 240.8H1034.4V247.6H1028.0ZM1002.5 247.6H1008.9V254.4H1002.5ZM1021.7 247.6H1034.4V254.4H1021.7ZM1021.7 254.4H1040.8V261.2H1021.7ZM1008.9 261.2H1028.0V268.0H1008.9ZM1040.8 261.2H1047.2V268.0H1040.8ZM1015.3 268.0H1028.0V274.8H1015.3ZM1034.4 268.0H1047.2V274.8H1034.4ZM1072.7 268.0H1085.5V274.8H1072.7ZM1053.6 268.0H1059.9V281.6H1053.6ZM1066.3 274.8H1072.7V281.6H1066.3ZM1098.2 274.8H1104.6V281.6H1098.2ZM1123.8 274.8H1142.9V281.6H1123.8ZM1021.7 281.6H1028.0V288.4H1021.7ZM1047.2 281.6H1066.3V288.4H1047.2ZM1072.7 281.6H1079.1V288.4H1072.7ZM1085.5 274.8H1091.8V288.4H1085.5ZM1098.2 281.6H1111.0V288.4H1098.2ZM1123.8 281.6H1130.1V288.4H1123.8ZM1066.3 288.4H1072.7V295.1H1066.3ZM1136.5 281.6H1149.3V295.1H1136.5ZM1155.7 288.4H1162.0V295.1H1155.7ZM1059.9 295.1H1066.3V301.9H1059.9ZM1079.1 288.4H1130.1V301.9H1079.1ZM1136.5 295.1H1142.9V301.9H1136.5ZM1149.3 295.1H1162.0V301.9H1149.3ZM1047.2 301.9H1053.6V308.7H1047.2ZM1091.8 301.9H1117.4V308.7H1091.8ZM1123.8 301.9H1149.3V308.7H1123.8ZM1040.8 308.7H1059.9V315.5H1040.8ZM1123.8 308.7H1155.7V315.5H1123.8ZM1085.5 308.7H1104.6V322.3H1085.5ZM1053.6 322.3H1059.9V329.1H1053.6ZM1072.7 322.3H1079.1V329.1H1072.7ZM1085.5 322.3H1111.0V329.1H1085.5ZM1136.5 315.5H1155.7V329.1H1136.5ZM1085.5 329.1H1091.8V335.9H1085.5ZM1098.2 329.1H1142.9V335.9H1098.2ZM1085.5 335.9H1098.2V342.7H1085.5ZM1104.6 335.9H1111.0V342.7H1104.6ZM1117.4 335.9H1123.8V342.7H1117.4ZM1149.3 329.1H1162.0V342.7H1149.3ZM1213.1 335.9H1225.8V342.7H1213.1ZM1232.2 335.9H1238.6V342.7H1232.2ZM1085.5 342.7H1091.8V349.5H1085.5ZM1123.8 342.7H1149.3V349.5H1123.8ZM1206.7 342.7H1213.1V349.5H1206.7ZM1219.4 342.7H1245.0V349.5H1219.4ZM1104.6 349.5H1111.0V356.3H1104.6ZM1130.1 349.5H1136.5V356.3H1130.1ZM1206.7 349.5H1225.8V356.3H1206.7ZM1232.2 349.5H1245.0V356.3H1232.2ZM1040.8 356.3H1059.9V363.1H1040.8ZM1066.3 356.3H1072.7V363.1H1066.3ZM1079.1 356.3H1085.5V363.1H1079.1ZM1149.3 356.3H1162.0V363.1H1149.3ZM1047.2 363.1H1053.6V369.9H1047.2ZM1059.9 363.1H1072.7V369.9H1059.9ZM1098.2 356.3H1111.0V369.9H1098.2ZM1136.5 363.1H1142.9V369.9H1136.5ZM1155.7 363.1H1162.0V369.9H1155.7ZM1200.3 356.3H1245.0V369.9H1200.3ZM1008.9 369.9H1021.7V376.6H1008.9ZM1034.4 369.9H1053.6V376.6H1034.4ZM1059.9 369.9H1066.3V376.6H1059.9ZM1079.1 369.9H1091.8V376.6H1079.1ZM1098.2 369.9H1123.8V376.6H1098.2ZM1130.1 369.9H1155.7V376.6H1130.1ZM1200.3 369.9H1238.6V376.6H1200.3ZM1034.4 376.6H1059.9V383.4H1034.4ZM1072.7 376.6H1117.4V383.4H1072.7ZM1123.8 376.6H1168.4V383.4H1123.8ZM1174.8 376.6H1181.2V383.4H1174.8ZM1200.3 376.6H1206.7V383.4H1200.3ZM1213.1 376.6H1232.2V383.4H1213.1ZM1028.0 383.4H1034.4V390.2H1028.0ZM1059.9 383.4H1104.6V390.2H1059.9ZM1111.0 383.4H1117.4V390.2H1111.0ZM1130.1 383.4H1174.8V390.2H1130.1ZM1225.8 383.4H1245.0V390.2H1225.8ZM996.1 390.2H1002.5V397.0H996.1ZM1047.2 383.4H1053.6V397.0H1047.2ZM1059.9 390.2H1066.3V397.0H1059.9ZM1072.7 390.2H1111.0V397.0H1072.7ZM1117.4 390.2H1174.8V397.0H1117.4ZM1213.1 390.2H1251.3V397.0H1213.1ZM1015.3 397.0H1021.7V403.8H1015.3ZM1072.7 397.0H1104.6V403.8H1072.7ZM1111.0 397.0H1123.8V403.8H1111.0ZM1149.3 397.0H1155.7V403.8H1149.3ZM1162.0 397.0H1174.8V403.8H1162.0ZM1181.2 397.0H1187.5V403.8H1181.2ZM1193.9 397.0H1200.3V403.8H1193.9ZM1225.8 397.0H1232.2V403.8H1225.8ZM1238.6 397.0H1245.0V403.8H1238.6ZM983.4 403.8H989.8V410.6H983.4ZM1002.5 403.8H1021.7V410.6H1002.5ZM1079.1 403.8H1085.5V410.6H1079.1ZM1091.8 403.8H1098.2V410.6H1091.8ZM1111.0 403.8H1117.4V410.6H1111.0ZM1136.5 397.0H1142.9V410.6H1136.5ZM1149.3 403.8H1174.8V410.6H1149.3ZM1213.1 403.8H1219.4V410.6H1213.1ZM1021.7 410.6H1028.0V417.4H1021.7ZM1072.7 410.6H1098.2V417.4H1072.7ZM1123.8 410.6H1130.1V417.4H1123.8ZM1155.7 410.6H1181.2V417.4H1155.7ZM1193.9 410.6H1200.3V417.4H1193.9ZM1206.7 410.6H1219.4V417.4H1206.7ZM1002.5 417.4H1008.9V424.2H1002.5ZM1028.0 417.4H1034.4V424.2H1028.0ZM1079.1 417.4H1085.5V424.2H1079.1ZM1091.8 417.4H1098.2V424.2H1091.8ZM1123.8 417.4H1136.5V424.2H1123.8ZM1155.7 417.4H1174.8V424.2H1155.7ZM1193.9 417.4H1206.7V424.2H1193.9ZM1219.4 417.4H1225.8V424.2H1219.4ZM1104.6 424.2H1111.0V431.0H1104.6ZM1130.1 424.2H1142.9V431.0H1130.1ZM1174.8 424.2H1187.5V431.0H1174.8ZM1251.3 424.2H1257.7V431.0H1251.3ZM1264.1 424.2H1270.5V431.0H1264.1ZM1021.7 431.0H1028.0V437.8H1021.7ZM1059.9 424.2H1098.2V437.8H1059.9ZM1104.6 431.0H1123.8V437.8H1104.6ZM1136.5 431.0H1149.3V437.8H1136.5ZM1174.8 431.0H1193.9V437.8H1174.8ZM1200.3 431.0H1206.7V437.8H1200.3ZM1245.0 431.0H1251.3V437.8H1245.0ZM1085.5 437.8H1104.6V444.6H1085.5ZM1117.4 437.8H1136.5V444.6H1117.4ZM1162.0 437.8H1168.4V444.6H1162.0ZM1181.2 437.8H1193.9V444.6H1181.2ZM1225.8 437.8H1232.2V444.6H1225.8ZM1245.0 437.8H1270.5V444.6H1245.0ZM485.8 444.6H492.1V451.4H485.8ZM1040.8 437.8H1047.2V451.4H1040.8ZM1053.6 437.8H1059.9V451.4H1053.6ZM1085.5 444.6H1136.5V451.4H1085.5ZM1162.0 444.6H1187.5V451.4H1162.0ZM1238.6 444.6H1264.1V451.4H1238.6ZM1283.2 444.6H1289.6V451.4H1283.2ZM485.8 451.4H498.5V458.1H485.8ZM1104.6 451.4H1117.4V458.1H1104.6ZM1123.8 451.4H1130.1V458.1H1123.8ZM1136.5 451.4H1149.3V458.1H1136.5ZM1193.9 444.6H1200.3V458.1H1193.9ZM1238.6 451.4H1251.3V458.1H1238.6ZM1264.1 451.4H1296.0V458.1H1264.1ZM1302.4 444.6H1308.8V458.1H1302.4ZM492.1 458.1H498.5V464.9H492.1ZM1059.9 451.4H1072.7V464.9H1059.9ZM1091.8 451.4H1098.2V464.9H1091.8ZM1136.5 458.1H1142.9V464.9H1136.5ZM1174.8 451.4H1181.2V464.9H1174.8ZM1200.3 458.1H1206.7V464.9H1200.3ZM1225.8 458.1H1232.2V464.9H1225.8ZM1238.6 458.1H1245.0V464.9H1238.6ZM1251.3 458.1H1257.7V464.9H1251.3ZM1264.1 458.1H1289.6V464.9H1264.1ZM1040.8 464.9H1047.2V471.7H1040.8ZM1053.6 464.9H1066.3V471.7H1053.6ZM1072.7 464.9H1079.1V471.7H1072.7ZM1085.5 464.9H1091.8V471.7H1085.5ZM1098.2 464.9H1111.0V471.7H1098.2ZM1117.4 458.1H1123.8V471.7H1117.4ZM1136.5 464.9H1149.3V471.7H1136.5ZM1168.4 464.9H1174.8V471.7H1168.4ZM1181.2 464.9H1187.5V471.7H1181.2ZM1219.4 464.9H1245.0V471.7H1219.4ZM1257.7 464.9H1264.1V471.7H1257.7ZM1276.9 464.9H1283.2V471.7H1276.9ZM1296.0 458.1H1302.4V471.7H1296.0ZM1034.4 471.7H1059.9V478.5H1034.4ZM1098.2 471.7H1123.8V478.5H1098.2ZM1130.1 471.7H1149.3V478.5H1130.1ZM1187.5 471.7H1200.3V478.5H1187.5ZM1213.1 471.7H1225.8V478.5H1213.1ZM1257.7 471.7H1270.5V478.5H1257.7ZM1276.9 471.7H1296.0V478.5H1276.9ZM1302.4 471.7H1308.8V478.5H1302.4ZM498.5 478.5H511.3V485.3H498.5ZM1021.7 478.5H1028.0V485.3H1021.7ZM1047.2 478.5H1117.4V485.3H1047.2ZM1123.8 478.5H1130.1V485.3H1123.8ZM1142.9 478.5H1149.3V485.3H1142.9ZM1200.3 478.5H1213.1V485.3H1200.3ZM1219.4 478.5H1225.8V485.3H1219.4ZM1245.0 471.7H1251.3V485.3H1245.0ZM1040.8 485.3H1053.6V492.1H1040.8ZM1059.9 485.3H1091.8V492.1H1059.9ZM1098.2 485.3H1123.8V492.1H1098.2ZM1130.1 485.3H1136.5V492.1H1130.1ZM1162.0 485.3H1168.4V492.1H1162.0ZM1187.5 485.3H1193.9V492.1H1187.5ZM1200.3 485.3H1206.7V492.1H1200.3ZM1232.2 471.7H1238.6V492.1H1232.2ZM1028.0 492.1H1034.4V498.9H1028.0ZM1040.8 492.1H1047.2V498.9H1040.8ZM1085.5 492.1H1098.2V498.9H1085.5ZM1149.3 492.1H1155.7V498.9H1149.3ZM1168.4 492.1H1193.9V498.9H1168.4ZM1264.1 478.5H1276.9V498.9H1264.1ZM1334.3 492.1H1340.7V498.9H1334.3ZM1015.3 498.9H1021.7V505.7H1015.3ZM1047.2 498.9H1053.6V505.7H1047.2ZM1059.9 492.1H1066.3V505.7H1059.9ZM1085.5 498.9H1091.8V505.7H1085.5ZM1104.6 492.1H1111.0V505.7H1104.6ZM1117.4 498.9H1123.8V505.7H1117.4ZM1149.3 498.9H1174.8V505.7H1149.3ZM1181.2 498.9H1187.5V505.7H1181.2ZM1225.8 498.9H1232.2V505.7H1225.8ZM1245.0 498.9H1251.3V505.7H1245.0ZM1257.7 498.9H1276.9V505.7H1257.7ZM1302.4 498.9H1308.8V505.7H1302.4ZM1321.5 498.9H1327.9V505.7H1321.5ZM926.0 505.7H938.7V512.5H926.0ZM1021.7 505.7H1034.4V512.5H1021.7ZM1085.5 505.7H1104.6V512.5H1085.5ZM1155.7 505.7H1162.0V512.5H1155.7ZM1168.4 505.7H1174.8V512.5H1168.4ZM1187.5 505.7H1193.9V512.5H1187.5ZM1200.3 505.7H1206.7V512.5H1200.3ZM1334.3 505.7H1340.7V512.5H1334.3ZM932.4 512.5H945.1V519.3H932.4ZM1028.0 512.5H1040.8V519.3H1028.0ZM1047.2 512.5H1053.6V519.3H1047.2ZM1072.7 492.1H1079.1V519.3H1072.7ZM1091.8 512.5H1098.2V519.3H1091.8ZM1187.5 512.5H1200.3V519.3H1187.5ZM1213.1 505.7H1276.9V519.3H1213.1ZM1289.6 505.7H1302.4V519.3H1289.6ZM1315.2 505.7H1327.9V519.3H1315.2ZM1461.9 512.5H1468.3V519.3H1461.9ZM945.1 519.3H951.5V526.1H945.1ZM1072.7 519.3H1085.5V526.1H1072.7ZM1104.6 519.3H1111.0V526.1H1104.6ZM1130.1 519.3H1136.5V526.1H1130.1ZM1149.3 519.3H1162.0V526.1H1149.3ZM1181.2 519.3H1187.5V526.1H1181.2ZM1213.1 519.3H1219.4V526.1H1213.1ZM1238.6 519.3H1257.7V526.1H1238.6ZM1276.9 519.3H1283.2V526.1H1276.9ZM1302.4 519.3H1308.8V526.1H1302.4ZM1321.5 519.3H1327.9V526.1H1321.5ZM1468.3 519.3H1481.0V526.1H1468.3ZM964.2 526.1H977.0V532.9H964.2ZM1066.3 526.1H1091.8V532.9H1066.3ZM1149.3 526.1H1168.4V532.9H1149.3ZM1238.6 526.1H1264.1V532.9H1238.6ZM1315.2 526.1H1327.9V532.9H1315.2ZM1455.5 526.1H1461.9V532.9H1455.5ZM1474.7 526.1H1481.0V532.9H1474.7ZM945.1 532.9H951.5V539.6H945.1ZM957.9 532.9H970.6V539.6H957.9ZM1104.6 532.9H1117.4V539.6H1104.6ZM1334.3 532.9H1340.7V539.6H1334.3ZM1347.0 532.9H1359.8V539.6H1347.0ZM1461.9 532.9H1481.0V539.6H1461.9ZM957.9 539.6H964.2V546.4H957.9ZM1098.2 539.6H1104.6V546.4H1098.2ZM1111.0 539.6H1117.4V546.4H1111.0ZM1136.5 532.9H1149.3V546.4H1136.5ZM1155.7 539.6H1162.0V546.4H1155.7ZM1257.7 539.6H1264.1V546.4H1257.7ZM1270.5 539.6H1276.9V546.4H1270.5ZM1321.5 539.6H1353.4V546.4H1321.5ZM1385.3 539.6H1391.7V546.4H1385.3ZM1455.5 539.6H1468.3V546.4H1455.5ZM1487.4 539.6H1493.8V546.4H1487.4ZM932.4 546.4H945.1V553.2H932.4ZM1340.7 546.4H1391.7V553.2H1340.7ZM1461.9 546.4H1468.3V553.2H1461.9ZM1481.0 546.4H1487.4V553.2H1481.0ZM1557.6 546.4H1564.0V553.2H1557.6ZM466.6 553.2H473.0V560.0H466.6ZM894.1 546.4H906.8V560.0H894.1ZM957.9 553.2H970.6V560.0H957.9ZM1136.5 553.2H1142.9V560.0H1136.5ZM1206.7 553.2H1213.1V560.0H1206.7ZM1327.9 546.4H1334.3V560.0H1327.9ZM1340.7 553.2H1366.2V560.0H1340.7ZM1372.6 553.2H1391.7V560.0H1372.6ZM1468.3 553.2H1474.7V560.0H1468.3ZM1512.9 553.2H1519.3V560.0H1512.9ZM1551.2 553.2H1557.6V560.0H1551.2ZM1289.6 560.0H1296.0V566.8H1289.6ZM1315.2 553.2H1321.5V566.8H1315.2ZM1398.1 560.0H1404.5V566.8H1398.1ZM1410.8 560.0H1417.2V566.8H1410.8ZM1449.1 553.2H1455.5V566.8H1449.1ZM1512.9 560.0H1532.1V566.8H1512.9ZM1538.5 553.2H1544.8V566.8H1538.5ZM1564.0 560.0H1570.3V566.8H1564.0ZM466.6 560.0H485.8V573.6H466.6ZM894.1 566.8H900.5V573.6H894.1ZM938.7 566.8H945.1V573.6H938.7ZM1232.2 566.8H1238.6V573.6H1232.2ZM1270.5 566.8H1276.9V573.6H1270.5ZM1340.7 560.0H1391.7V573.6H1340.7ZM1404.5 566.8H1410.8V573.6H1404.5ZM1442.8 566.8H1449.1V573.6H1442.8ZM1500.2 566.8H1506.5V573.6H1500.2ZM1519.3 566.8H1525.7V573.6H1519.3ZM1532.1 566.8H1538.5V573.6H1532.1ZM1544.8 566.8H1557.6V573.6H1544.8ZM473.0 573.6H485.8V580.4H473.0ZM492.1 566.8H498.5V580.4H492.1ZM504.9 573.6H511.3V580.4H504.9ZM1002.5 573.6H1008.9V580.4H1002.5ZM1327.9 573.6H1334.3V580.4H1327.9ZM1347.0 573.6H1398.1V580.4H1347.0ZM1404.5 573.6H1417.2V580.4H1404.5ZM1519.3 573.6H1532.1V580.4H1519.3ZM1538.5 573.6H1570.3V580.4H1538.5ZM1608.6 573.6H1627.8V580.4H1608.6ZM473.0 580.4H479.4V587.2H473.0ZM1321.5 580.4H1327.9V587.2H1321.5ZM1334.3 580.4H1340.7V587.2H1334.3ZM1347.0 580.4H1372.6V587.2H1347.0ZM1379.0 580.4H1417.2V587.2H1379.0ZM1512.9 580.4H1519.3V587.2H1512.9ZM1525.7 580.4H1570.3V587.2H1525.7ZM1583.1 580.4H1634.1V587.2H1583.1ZM485.8 587.2H498.5V594.0H485.8ZM1340.7 587.2H1442.8V594.0H1340.7ZM1506.5 587.2H1512.9V594.0H1506.5ZM1538.5 587.2H1544.8V594.0H1538.5ZM1551.2 587.2H1557.6V594.0H1551.2ZM1564.0 587.2H1570.3V594.0H1564.0ZM1595.9 587.2H1608.6V594.0H1595.9ZM1615.0 587.2H1621.4V594.0H1615.0ZM492.1 594.0H498.5V600.8H492.1ZM1340.7 594.0H1423.6V600.8H1340.7ZM1436.4 594.0H1442.8V600.8H1436.4ZM1481.0 594.0H1487.4V600.8H1481.0ZM1512.9 594.0H1519.3V600.8H1512.9ZM1532.1 594.0H1538.5V600.8H1532.1ZM1544.8 594.0H1557.6V600.8H1544.8ZM1595.9 594.0H1602.2V600.8H1595.9ZM1608.6 594.0H1615.0V600.8H1608.6ZM1353.4 600.8H1359.8V607.6H1353.4ZM1366.2 600.8H1379.0V607.6H1366.2ZM1385.3 600.8H1398.1V607.6H1385.3ZM1404.5 600.8H1423.6V607.6H1404.5ZM1430.0 600.8H1436.4V607.6H1430.0ZM1442.8 600.8H1455.5V607.6H1442.8ZM1493.8 600.8H1519.3V607.6H1493.8ZM1570.3 600.8H1576.7V607.6H1570.3ZM1347.0 607.6H1353.4V614.4H1347.0ZM1359.8 607.6H1366.2V614.4H1359.8ZM1372.6 607.6H1404.5V614.4H1372.6ZM1410.8 607.6H1430.0V614.4H1410.8ZM1436.4 607.6H1442.8V614.4H1436.4ZM1449.1 607.6H1455.5V614.4H1449.1ZM1493.8 607.6H1525.7V614.4H1493.8ZM1544.8 607.6H1551.2V614.4H1544.8ZM1583.1 607.6H1589.5V614.4H1583.1ZM1353.4 614.4H1372.6V621.1H1353.4ZM1436.4 614.4H1449.1V621.1H1436.4ZM1461.9 614.4H1474.7V621.1H1461.9ZM1481.0 614.4H1519.3V621.1H1481.0ZM1532.1 614.4H1538.5V621.1H1532.1ZM1570.3 614.4H1583.1V621.1H1570.3ZM1589.5 614.4H1602.2V621.1H1589.5ZM1353.4 621.1H1379.0V627.9H1353.4ZM1385.3 621.1H1391.7V627.9H1385.3ZM1398.1 621.1H1404.5V627.9H1398.1ZM1468.3 621.1H1519.3V627.9H1468.3ZM1570.3 621.1H1602.2V627.9H1570.3ZM1340.7 627.9H1353.4V634.7H1340.7ZM1359.8 627.9H1391.7V634.7H1359.8ZM1455.5 627.9H1461.9V634.7H1455.5ZM1468.3 627.9H1474.7V634.7H1468.3ZM1487.4 627.9H1512.9V634.7H1487.4ZM1538.5 627.9H1544.8V634.7H1538.5ZM1576.7 627.9H1589.5V634.7H1576.7ZM1340.7 634.7H1391.7V641.5H1340.7ZM1442.8 634.7H1449.1V641.5H1442.8ZM1481.0 634.7H1512.9V641.5H1481.0ZM1353.4 641.5H1359.8V648.3H1353.4ZM1366.2 641.5H1379.0V648.3H1366.2ZM1385.3 641.5H1398.1V648.3H1385.3ZM1417.2 641.5H1423.6V648.3H1417.2ZM1474.7 641.5H1500.2V648.3H1474.7ZM1296.0 641.5H1302.4V655.1H1296.0ZM1340.7 641.5H1347.0V655.1H1340.7ZM1353.4 648.3H1385.3V655.1H1353.4ZM1391.7 648.3H1404.5V655.1H1391.7ZM1410.8 648.3H1417.2V655.1H1410.8ZM1423.6 648.3H1430.0V655.1H1423.6ZM1481.0 648.3H1506.5V655.1H1481.0ZM1525.7 648.3H1532.1V655.1H1525.7ZM1315.2 655.1H1321.5V661.9H1315.2ZM1347.0 655.1H1379.0V661.9H1347.0ZM1417.2 655.1H1430.0V661.9H1417.2ZM1442.8 655.1H1481.0V661.9H1442.8ZM1487.4 655.1H1493.8V661.9H1487.4ZM1512.9 655.1H1519.3V661.9H1512.9ZM1238.6 661.9H1245.0V668.7H1238.6ZM1308.8 661.9H1321.5V668.7H1308.8ZM1327.9 661.9H1334.3V668.7H1327.9ZM1340.7 661.9H1359.8V668.7H1340.7ZM1366.2 661.9H1379.0V668.7H1366.2ZM1398.1 661.9H1404.5V668.7H1398.1ZM1442.8 661.9H1455.5V668.7H1442.8ZM1461.9 661.9H1487.4V668.7H1461.9ZM1493.8 661.9H1500.2V668.7H1493.8ZM1506.5 661.9H1519.3V668.7H1506.5ZM1532.1 655.1H1544.8V668.7H1532.1ZM1327.9 668.7H1340.7V675.5H1327.9ZM1347.0 668.7H1359.8V675.5H1347.0ZM1410.8 668.7H1417.2V675.5H1410.8ZM1423.6 668.7H1481.0V675.5H1423.6ZM1487.4 668.7H1493.8V675.5H1487.4ZM1500.2 668.7H1506.5V675.5H1500.2ZM1200.3 675.5H1206.7V682.3H1200.3ZM1315.2 675.5H1321.5V682.3H1315.2ZM1327.9 675.5H1334.3V682.3H1327.9ZM1340.7 675.5H1372.6V682.3H1340.7ZM1391.7 668.7H1398.1V682.3H1391.7ZM1410.8 675.5H1423.6V682.3H1410.8ZM1442.8 675.5H1481.0V682.3H1442.8ZM1487.4 675.5H1506.5V682.3H1487.4ZM1544.8 675.5H1551.2V682.3H1544.8ZM1193.9 682.3H1200.3V689.1H1193.9ZM1340.7 682.3H1347.0V689.1H1340.7ZM1353.4 682.3H1359.8V689.1H1353.4ZM1398.1 682.3H1410.8V689.1H1398.1ZM1430.0 682.3H1436.4V689.1H1430.0ZM1442.8 682.3H1500.2V689.1H1442.8ZM1321.5 689.1H1334.3V695.9H1321.5ZM1340.7 689.1H1359.8V695.9H1340.7ZM1410.8 689.1H1417.2V695.9H1410.8ZM1436.4 689.1H1442.8V695.9H1436.4ZM1449.1 689.1H1468.3V695.9H1449.1ZM1474.7 689.1H1506.5V695.9H1474.7ZM1538.5 682.3H1544.8V695.9H1538.5ZM1213.1 695.9H1219.4V702.6H1213.1ZM1225.8 695.9H1232.2V702.6H1225.8ZM1302.4 695.9H1308.8V702.6H1302.4ZM1327.9 695.9H1340.7V702.6H1327.9ZM1353.4 695.9H1366.2V702.6H1353.4ZM1461.9 695.9H1481.0V702.6H1461.9ZM1487.4 695.9H1493.8V702.6H1487.4ZM1506.5 695.9H1512.9V702.6H1506.5ZM1519.3 695.9H1532.1V702.6H1519.3ZM1289.6 702.6H1296.0V709.4H1289.6ZM1359.8 702.6H1366.2V709.4H1359.8ZM1385.3 702.6H1391.7V709.4H1385.3ZM1430.0 695.9H1442.8V709.4H1430.0ZM1449.1 695.9H1455.5V709.4H1449.1ZM1474.7 702.6H1481.0V709.4H1474.7ZM1532.1 702.6H1544.8V709.4H1532.1ZM1245.0 709.4H1264.1V716.2H1245.0ZM1270.5 709.4H1276.9V716.2H1270.5ZM1296.0 709.4H1302.4V716.2H1296.0ZM1340.7 709.4H1347.0V716.2H1340.7ZM1353.4 709.4H1398.1V716.2H1353.4ZM1423.6 709.4H1455.5V716.2H1423.6ZM1468.3 709.4H1474.7V716.2H1468.3ZM1506.5 709.4H1512.9V716.2H1506.5ZM1519.3 709.4H1532.1V716.2H1519.3ZM1544.8 709.4H1551.2V716.2H1544.8ZM830.3 716.2H836.6V723.0H830.3ZM1219.4 716.2H1225.8V723.0H1219.4ZM1238.6 716.2H1257.7V723.0H1238.6ZM1264.1 716.2H1276.9V723.0H1264.1ZM1289.6 716.2H1296.0V723.0H1289.6ZM1340.7 716.2H1379.0V723.0H1340.7ZM1385.3 716.2H1398.1V723.0H1385.3ZM1430.0 716.2H1449.1V723.0H1430.0ZM1481.0 709.4H1493.8V723.0H1481.0ZM1512.9 716.2H1532.1V723.0H1512.9ZM804.8 723.0H817.5V729.8H804.8ZM1206.7 716.2H1213.1V729.8H1206.7ZM1276.9 723.0H1283.2V729.8H1276.9ZM1327.9 723.0H1334.3V729.8H1327.9ZM1340.7 723.0H1353.4V729.8H1340.7ZM1366.2 723.0H1398.1V729.8H1366.2ZM1430.0 723.0H1436.4V729.8H1430.0ZM1481.0 723.0H1487.4V729.8H1481.0ZM1493.8 723.0H1500.2V729.8H1493.8ZM1506.5 723.0H1519.3V729.8H1506.5ZM1538.5 723.0H1544.8V729.8H1538.5ZM836.6 729.8H843.0V736.6H836.6ZM1200.3 729.8H1213.1V736.6H1200.3ZM1238.6 723.0H1264.1V736.6H1238.6ZM1283.2 729.8H1289.6V736.6H1283.2ZM1340.7 729.8H1385.3V736.6H1340.7ZM1391.7 729.8H1398.1V736.6H1391.7ZM1404.5 729.8H1410.8V736.6H1404.5ZM1449.1 729.8H1455.5V736.6H1449.1ZM1487.4 729.8H1493.8V736.6H1487.4ZM1525.7 729.8H1538.5V736.6H1525.7ZM804.8 729.8H811.1V743.4H804.8ZM1206.7 736.6H1219.4V743.4H1206.7ZM1296.0 729.8H1302.4V743.4H1296.0ZM1308.8 736.6H1315.2V743.4H1308.8ZM1340.7 736.6H1398.1V743.4H1340.7ZM1455.5 736.6H1468.3V743.4H1455.5ZM1474.7 736.6H1493.8V743.4H1474.7ZM1512.9 736.6H1519.3V743.4H1512.9ZM1538.5 736.6H1544.8V743.4H1538.5ZM1340.7 743.4H1385.3V750.2H1340.7ZM1417.2 736.6H1423.6V750.2H1417.2ZM1436.4 743.4H1442.8V750.2H1436.4ZM1461.9 743.4H1493.8V750.2H1461.9ZM1506.5 743.4H1512.9V750.2H1506.5ZM1519.3 743.4H1525.7V750.2H1519.3ZM1532.1 743.4H1544.8V750.2H1532.1ZM1008.9 750.2H1015.3V757.0H1008.9ZM1276.9 750.2H1296.0V757.0H1276.9ZM1302.4 750.2H1308.8V757.0H1302.4ZM1315.2 750.2H1327.9V757.0H1315.2ZM1353.4 750.2H1391.7V757.0H1353.4ZM1398.1 750.2H1436.4V757.0H1398.1ZM1449.1 750.2H1532.1V757.0H1449.1ZM1538.5 750.2H1544.8V757.0H1538.5ZM1276.9 757.0H1283.2V763.8H1276.9ZM1296.0 757.0H1327.9V763.8H1296.0ZM1334.3 757.0H1340.7V763.8H1334.3ZM1359.8 757.0H1366.2V763.8H1359.8ZM1372.6 757.0H1417.2V763.8H1372.6ZM1455.5 757.0H1506.5V763.8H1455.5ZM1512.9 757.0H1544.8V763.8H1512.9ZM836.6 763.8H843.0V770.6H836.6ZM1181.2 763.8H1187.5V770.6H1181.2ZM1213.1 763.8H1219.4V770.6H1213.1ZM1296.0 763.8H1308.8V770.6H1296.0ZM1315.2 763.8H1334.3V770.6H1315.2ZM1340.7 763.8H1353.4V770.6H1340.7ZM1359.8 763.8H1379.0V770.6H1359.8ZM1385.3 763.8H1398.1V770.6H1385.3ZM1404.5 763.8H1410.8V770.6H1404.5ZM1417.2 763.8H1430.0V770.6H1417.2ZM1436.4 763.8H1468.3V770.6H1436.4ZM1481.0 763.8H1493.8V770.6H1481.0ZM1187.5 770.6H1193.9V777.4H1187.5ZM1251.3 770.6H1257.7V777.4H1251.3ZM1270.5 763.8H1289.6V777.4H1270.5ZM1302.4 770.6H1308.8V777.4H1302.4ZM1315.2 770.6H1327.9V777.4H1315.2ZM1340.7 770.6H1404.5V777.4H1340.7ZM1417.2 770.6H1442.8V777.4H1417.2ZM1449.1 770.6H1461.9V777.4H1449.1ZM1468.3 770.6H1474.7V777.4H1468.3ZM1481.0 770.6H1487.4V777.4H1481.0ZM1506.5 763.8H1519.3V777.4H1506.5ZM1532.1 770.6H1538.5V777.4H1532.1ZM830.3 777.4H836.6V784.1H830.3ZM1238.6 777.4H1289.6V784.1H1238.6ZM1308.8 777.4H1327.9V784.1H1308.8ZM1334.3 777.4H1353.4V784.1H1334.3ZM1417.2 777.4H1423.6V784.1H1417.2ZM1442.8 777.4H1449.1V784.1H1442.8ZM1468.3 777.4H1481.0V784.1H1468.3ZM1487.4 777.4H1493.8V784.1H1487.4ZM1500.2 777.4H1512.9V784.1H1500.2ZM1238.6 784.1H1245.0V790.9H1238.6ZM1251.3 784.1H1257.7V790.9H1251.3ZM1264.1 784.1H1289.6V790.9H1264.1ZM1296.0 784.1H1302.4V790.9H1296.0ZM1321.5 784.1H1334.3V790.9H1321.5ZM1340.7 784.1H1359.8V790.9H1340.7ZM1468.3 784.1H1474.7V790.9H1468.3ZM1519.3 784.1H1525.7V790.9H1519.3ZM1149.3 790.9H1155.7V797.7H1149.3ZM1238.6 790.9H1334.3V797.7H1238.6ZM1359.8 790.9H1366.2V797.7H1359.8ZM1487.4 790.9H1493.8V797.7H1487.4ZM855.8 797.7H862.2V804.5H855.8ZM1130.1 797.7H1136.5V804.5H1130.1ZM1245.0 797.7H1283.2V804.5H1245.0ZM1296.0 797.7H1321.5V804.5H1296.0ZM1327.9 797.7H1340.7V804.5H1327.9ZM1487.4 797.7H1500.2V804.5H1487.4ZM792.0 804.5H798.4V811.3H792.0ZM1117.4 804.5H1123.8V811.3H1117.4ZM1238.6 804.5H1264.1V811.3H1238.6ZM1283.2 804.5H1289.6V811.3H1283.2ZM1302.4 804.5H1315.2V811.3H1302.4ZM1353.4 804.5H1366.2V811.3H1353.4ZM1436.4 804.5H1455.5V811.3H1436.4ZM1468.3 804.5H1474.7V811.3H1468.3ZM1238.6 811.3H1245.0V818.1H1238.6ZM1257.7 811.3H1264.1V818.1H1257.7ZM1359.8 811.3H1366.2V818.1H1359.8ZM1506.5 811.3H1512.9V818.1H1506.5ZM1232.2 818.1H1270.5V824.9H1232.2ZM1276.9 811.3H1283.2V824.9H1276.9ZM1289.6 818.1H1296.0V824.9H1289.6ZM1308.8 818.1H1315.2V824.9H1308.8ZM1379.0 818.1H1385.3V824.9H1379.0ZM1398.1 811.3H1404.5V824.9H1398.1ZM1430.0 818.1H1436.4V824.9H1430.0ZM1468.3 818.1H1474.7V824.9H1468.3ZM1481.0 818.1H1487.4V824.9H1481.0ZM1079.1 824.9H1085.5V831.7H1079.1ZM1098.2 824.9H1104.6V831.7H1098.2ZM1111.0 824.9H1123.8V831.7H1111.0ZM1136.5 824.9H1142.9V831.7H1136.5ZM1245.0 824.9H1264.1V831.7H1245.0ZM1302.4 824.9H1315.2V831.7H1302.4ZM1321.5 824.9H1327.9V831.7H1321.5ZM1353.4 818.1H1366.2V831.7H1353.4ZM1449.1 811.3H1455.5V831.7H1449.1ZM1487.4 824.9H1493.8V831.7H1487.4ZM1519.3 824.9H1525.7V831.7H1519.3ZM970.6 824.9H977.0V838.5H970.6ZM1079.1 831.7H1104.6V838.5H1079.1ZM1111.0 831.7H1117.4V838.5H1111.0ZM1232.2 831.7H1238.6V838.5H1232.2ZM1251.3 831.7H1283.2V838.5H1251.3ZM1289.6 831.7H1296.0V838.5H1289.6ZM1302.4 831.7H1308.8V838.5H1302.4ZM1340.7 831.7H1359.8V838.5H1340.7ZM1379.0 831.7H1385.3V838.5H1379.0ZM1391.7 831.7H1398.1V838.5H1391.7ZM1436.4 831.7H1461.9V838.5H1436.4ZM1500.2 831.7H1506.5V838.5H1500.2ZM977.0 838.5H983.4V845.3H977.0ZM989.8 831.7H996.1V845.3H989.8ZM1034.4 838.5H1040.8V845.3H1034.4ZM1047.2 838.5H1059.9V845.3H1047.2ZM1085.5 838.5H1104.6V845.3H1085.5ZM1117.4 838.5H1123.8V845.3H1117.4ZM1238.6 838.5H1257.7V845.3H1238.6ZM1264.1 838.5H1270.5V845.3H1264.1ZM1276.9 838.5H1289.6V845.3H1276.9ZM1321.5 838.5H1334.3V845.3H1321.5ZM1340.7 838.5H1347.0V845.3H1340.7ZM1359.8 838.5H1372.6V845.3H1359.8ZM1379.0 838.5H1398.1V845.3H1379.0ZM1404.5 838.5H1417.2V845.3H1404.5ZM1449.1 838.5H1455.5V845.3H1449.1ZM1481.0 838.5H1487.4V845.3H1481.0ZM1493.8 838.5H1506.5V845.3H1493.8ZM1532.1 838.5H1538.5V845.3H1532.1ZM970.6 845.3H996.1V852.1H970.6ZM1015.3 845.3H1040.8V852.1H1015.3ZM1053.6 845.3H1111.0V852.1H1053.6ZM1117.4 845.3H1130.1V852.1H1117.4ZM1257.7 845.3H1283.2V852.1H1257.7ZM1289.6 845.3H1302.4V852.1H1289.6ZM1308.8 838.5H1315.2V852.1H1308.8ZM1321.5 845.3H1359.8V852.1H1321.5ZM1366.2 845.3H1391.7V852.1H1366.2ZM1398.1 845.3H1404.5V852.1H1398.1ZM1417.2 845.3H1430.0V852.1H1417.2ZM1436.4 845.3H1442.8V852.1H1436.4ZM1481.0 845.3H1506.5V852.1H1481.0ZM1519.3 845.3H1525.7V852.1H1519.3ZM957.9 852.1H964.2V858.9H957.9ZM970.6 852.1H977.0V858.9H970.6ZM983.4 852.1H996.1V858.9H983.4ZM1015.3 852.1H1034.4V858.9H1015.3ZM1040.8 852.1H1053.6V858.9H1040.8ZM1066.3 852.1H1085.5V858.9H1066.3ZM1098.2 852.1H1123.8V858.9H1098.2ZM1130.1 852.1H1136.5V858.9H1130.1ZM1257.7 852.1H1264.1V858.9H1257.7ZM1270.5 852.1H1302.4V858.9H1270.5ZM1308.8 852.1H1340.7V858.9H1308.8ZM1347.0 852.1H1372.6V858.9H1347.0ZM1379.0 852.1H1404.5V858.9H1379.0ZM1417.2 852.1H1423.6V858.9H1417.2ZM1430.0 852.1H1442.8V858.9H1430.0ZM1449.1 852.1H1455.5V858.9H1449.1ZM1468.3 852.1H1474.7V858.9H1468.3ZM1481.0 852.1H1493.8V858.9H1481.0ZM1512.9 852.1H1525.7V858.9H1512.9ZM887.7 845.3H894.1V865.6H887.7ZM1015.3 858.9H1111.0V865.6H1015.3ZM1117.4 858.9H1149.3V865.6H1117.4ZM1264.1 858.9H1270.5V865.6H1264.1ZM1276.9 858.9H1347.0V865.6H1276.9ZM1359.8 858.9H1379.0V865.6H1359.8ZM1385.3 858.9H1404.5V865.6H1385.3ZM1436.4 858.9H1449.1V865.6H1436.4ZM1500.2 858.9H1512.9V865.6H1500.2ZM1532.1 858.9H1538.5V865.6H1532.1ZM683.5 865.6H689.9V872.4H683.5ZM696.3 865.6H702.7V872.4H696.3ZM881.3 865.6H887.7V872.4H881.3ZM983.4 858.9H1008.9V872.4H983.4ZM1021.7 865.6H1111.0V872.4H1021.7ZM1123.8 865.6H1149.3V872.4H1123.8ZM1270.5 865.6H1276.9V872.4H1270.5ZM1283.2 865.6H1347.0V872.4H1283.2ZM1353.4 865.6H1372.6V872.4H1353.4ZM1379.0 865.6H1391.7V872.4H1379.0ZM1423.6 858.9H1430.0V872.4H1423.6ZM1442.8 865.6H1455.5V872.4H1442.8ZM1461.9 865.6H1468.3V872.4H1461.9ZM1481.0 858.9H1487.4V872.4H1481.0ZM1493.8 865.6H1506.5V872.4H1493.8ZM677.1 872.4H683.5V879.2H677.1ZM721.8 872.4H728.2V879.2H721.8ZM957.9 858.9H970.6V879.2H957.9ZM983.4 872.4H996.1V879.2H983.4ZM1002.5 872.4H1066.3V879.2H1002.5ZM1072.7 872.4H1085.5V879.2H1072.7ZM1098.2 872.4H1111.0V879.2H1098.2ZM1200.3 872.4H1206.7V879.2H1200.3ZM1289.6 872.4H1327.9V879.2H1289.6ZM1334.3 872.4H1340.7V879.2H1334.3ZM1347.0 872.4H1353.4V879.2H1347.0ZM1359.8 872.4H1391.7V879.2H1359.8ZM1417.2 872.4H1468.3V879.2H1417.2ZM677.1 879.2H689.9V886.0H677.1ZM951.5 879.2H957.9V886.0H951.5ZM964.2 879.2H970.6V886.0H964.2ZM983.4 879.2H1015.3V886.0H983.4ZM1021.7 879.2H1034.4V886.0H1021.7ZM1040.8 879.2H1085.5V886.0H1040.8ZM1098.2 879.2H1104.6V886.0H1098.2ZM1117.4 872.4H1123.8V886.0H1117.4ZM1187.5 879.2H1193.9V886.0H1187.5ZM1289.6 879.2H1302.4V886.0H1289.6ZM1308.8 879.2H1334.3V886.0H1308.8ZM1340.7 879.2H1359.8V886.0H1340.7ZM1366.2 879.2H1391.7V886.0H1366.2ZM1398.1 872.4H1404.5V886.0H1398.1ZM1423.6 879.2H1442.8V886.0H1423.6ZM1449.1 879.2H1468.3V886.0H1449.1ZM1474.7 872.4H1506.5V886.0H1474.7ZM1519.3 872.4H1532.1V886.0H1519.3ZM709.0 886.0H715.4V892.8H709.0ZM964.2 886.0H983.4V892.8H964.2ZM989.8 886.0H1008.9V892.8H989.8ZM1034.4 886.0H1047.2V892.8H1034.4ZM1059.9 886.0H1066.3V892.8H1059.9ZM1072.7 886.0H1091.8V892.8H1072.7ZM1098.2 886.0H1111.0V892.8H1098.2ZM1200.3 886.0H1225.8V892.8H1200.3ZM1276.9 886.0H1289.6V892.8H1276.9ZM1296.0 886.0H1302.4V892.8H1296.0ZM1327.9 886.0H1340.7V892.8H1327.9ZM1347.0 886.0H1353.4V892.8H1347.0ZM1366.2 886.0H1372.6V892.8H1366.2ZM1379.0 886.0H1391.7V892.8H1379.0ZM1398.1 886.0H1410.8V892.8H1398.1ZM1417.2 886.0H1423.6V892.8H1417.2ZM1430.0 886.0H1436.4V892.8H1430.0ZM1442.8 886.0H1455.5V892.8H1442.8ZM1525.7 886.0H1532.1V892.8H1525.7ZM696.3 892.8H702.7V899.6H696.3ZM970.6 892.8H996.1V899.6H970.6ZM1002.5 892.8H1008.9V899.6H1002.5ZM1021.7 892.8H1028.0V899.6H1021.7ZM1034.4 892.8H1040.8V899.6H1034.4ZM1072.7 892.8H1098.2V899.6H1072.7ZM1104.6 892.8H1111.0V899.6H1104.6ZM1206.7 892.8H1225.8V899.6H1206.7ZM1276.9 892.8H1283.2V899.6H1276.9ZM1289.6 892.8H1302.4V899.6H1289.6ZM1327.9 892.8H1353.4V899.6H1327.9ZM1366.2 892.8H1423.6V899.6H1366.2ZM1430.0 892.8H1442.8V899.6H1430.0ZM1449.1 892.8H1455.5V899.6H1449.1ZM1461.9 892.8H1474.7V899.6H1461.9ZM1493.8 886.0H1519.3V899.6H1493.8ZM728.2 899.6H741.0V906.4H728.2ZM938.7 899.6H945.1V906.4H938.7ZM964.2 899.6H977.0V906.4H964.2ZM983.4 899.6H1002.5V906.4H983.4ZM1008.9 899.6H1053.6V906.4H1008.9ZM1059.9 899.6H1079.1V906.4H1059.9ZM1091.8 899.6H1111.0V906.4H1091.8ZM1200.3 899.6H1213.1V906.4H1200.3ZM1302.4 899.6H1366.2V906.4H1302.4ZM1379.0 899.6H1391.7V906.4H1379.0ZM1398.1 899.6H1410.8V906.4H1398.1ZM1436.4 899.6H1455.5V906.4H1436.4ZM1481.0 886.0H1487.4V906.4H1481.0ZM1493.8 899.6H1525.7V906.4H1493.8ZM734.6 906.4H741.0V913.2H734.6ZM977.0 906.4H996.1V913.2H977.0ZM1002.5 906.4H1008.9V913.2H1002.5ZM1015.3 906.4H1072.7V913.2H1015.3ZM1079.1 906.4H1098.2V913.2H1079.1ZM1200.3 906.4H1219.4V913.2H1200.3ZM1257.7 906.4H1264.1V913.2H1257.7ZM1302.4 906.4H1315.2V913.2H1302.4ZM1321.5 906.4H1327.9V913.2H1321.5ZM1334.3 906.4H1340.7V913.2H1334.3ZM1353.4 906.4H1366.2V913.2H1353.4ZM1372.6 906.4H1398.1V913.2H1372.6ZM1417.2 899.6H1430.0V913.2H1417.2ZM1493.8 906.4H1519.3V913.2H1493.8ZM1525.7 906.4H1532.1V913.2H1525.7ZM938.7 913.2H945.1V920.0H938.7ZM964.2 913.2H970.6V920.0H964.2ZM983.4 913.2H1047.2V920.0H983.4ZM1066.3 913.2H1098.2V920.0H1066.3ZM1187.5 913.2H1193.9V920.0H1187.5ZM1213.1 913.2H1251.3V920.0H1213.1ZM1264.1 913.2H1270.5V920.0H1264.1ZM1302.4 913.2H1308.8V920.0H1302.4ZM1315.2 913.2H1327.9V920.0H1315.2ZM1417.2 913.2H1423.6V920.0H1417.2ZM1493.8 913.2H1500.2V920.0H1493.8ZM1512.9 913.2H1525.7V920.0H1512.9ZM734.6 920.0H747.3V926.8H734.6ZM996.1 920.0H1047.2V926.8H996.1ZM1059.9 920.0H1079.1V926.8H1059.9ZM1085.5 920.0H1098.2V926.8H1085.5ZM1187.5 920.0H1206.7V926.8H1187.5ZM1213.1 920.0H1225.8V926.8H1213.1ZM1232.2 920.0H1245.0V926.8H1232.2ZM1302.4 920.0H1327.9V926.8H1302.4ZM1340.7 913.2H1347.0V926.8H1340.7ZM1398.1 920.0H1410.8V926.8H1398.1ZM1436.4 920.0H1442.8V926.8H1436.4ZM1455.5 920.0H1461.9V926.8H1455.5ZM1474.7 920.0H1512.9V926.8H1474.7ZM983.4 926.8H1008.9V933.6H983.4ZM1015.3 926.8H1072.7V933.6H1015.3ZM1079.1 926.8H1098.2V933.6H1079.1ZM1200.3 926.8H1213.1V933.6H1200.3ZM1225.8 926.8H1251.3V933.6H1225.8ZM1257.7 926.8H1264.1V933.6H1257.7ZM1276.9 926.8H1289.6V933.6H1276.9ZM1308.8 926.8H1340.7V933.6H1308.8ZM1398.1 926.8H1404.5V933.6H1398.1ZM1417.2 926.8H1430.0V933.6H1417.2ZM1525.7 926.8H1532.1V933.6H1525.7ZM766.5 933.6H772.9V940.4H766.5ZM996.1 933.6H1034.4V940.4H996.1ZM1040.8 933.6H1053.6V940.4H1040.8ZM1059.9 933.6H1098.2V940.4H1059.9ZM1181.2 933.6H1187.5V940.4H1181.2ZM1193.9 933.6H1213.1V940.4H1193.9ZM1238.6 933.6H1257.7V940.4H1238.6ZM1315.2 933.6H1327.9V940.4H1315.2ZM1334.3 933.6H1340.7V940.4H1334.3ZM1366.2 926.8H1379.0V940.4H1366.2ZM1417.2 933.6H1423.6V940.4H1417.2ZM1461.9 933.6H1474.7V940.4H1461.9ZM1481.0 926.8H1493.8V940.4H1481.0ZM970.6 933.6H977.0V947.1H970.6ZM983.4 933.6H989.8V947.1H983.4ZM1002.5 940.4H1059.9V947.1H1002.5ZM1072.7 940.4H1104.6V947.1H1072.7ZM1187.5 940.4H1193.9V947.1H1187.5ZM1200.3 940.4H1206.7V947.1H1200.3ZM1213.1 940.4H1219.4V947.1H1213.1ZM1225.8 933.6H1232.2V947.1H1225.8ZM1257.7 940.4H1276.9V947.1H1257.7ZM1308.8 940.4H1315.2V947.1H1308.8ZM1347.0 940.4H1359.8V947.1H1347.0ZM1436.4 940.4H1455.5V947.1H1436.4ZM938.7 940.4H945.1V953.9H938.7ZM983.4 947.1H996.1V953.9H983.4ZM1008.9 947.1H1053.6V953.9H1008.9ZM1072.7 947.1H1098.2V953.9H1072.7ZM1162.0 947.1H1168.4V953.9H1162.0ZM1187.5 947.1H1200.3V953.9H1187.5ZM1251.3 947.1H1257.7V953.9H1251.3ZM1264.1 947.1H1289.6V953.9H1264.1ZM1302.4 947.1H1308.8V953.9H1302.4ZM1334.3 947.1H1340.7V953.9H1334.3ZM1423.6 947.1H1436.4V953.9H1423.6ZM760.1 953.9H766.5V960.7H760.1ZM1008.9 953.9H1047.2V960.7H1008.9ZM1053.6 953.9H1098.2V960.7H1053.6ZM1123.8 953.9H1136.5V960.7H1123.8ZM1149.3 953.9H1168.4V960.7H1149.3ZM1174.8 953.9H1187.5V960.7H1174.8ZM1200.3 953.9H1206.7V960.7H1200.3ZM1232.2 953.9H1238.6V960.7H1232.2ZM1245.0 953.9H1308.8V960.7H1245.0ZM1321.5 953.9H1327.9V960.7H1321.5ZM1391.7 953.9H1398.1V960.7H1391.7ZM1455.5 953.9H1461.9V960.7H1455.5ZM932.4 960.7H938.7V967.5H932.4ZM970.6 960.7H977.0V967.5H970.6ZM1002.5 960.7H1008.9V967.5H1002.5ZM1015.3 960.7H1021.7V967.5H1015.3ZM1072.7 960.7H1111.0V967.5H1072.7ZM1130.1 960.7H1136.5V967.5H1130.1ZM1149.3 960.7H1155.7V967.5H1149.3ZM1162.0 960.7H1168.4V967.5H1162.0ZM1174.8 960.7H1181.2V967.5H1174.8ZM1187.5 960.7H1193.9V967.5H1187.5ZM1257.7 960.7H1315.2V967.5H1257.7ZM1327.9 960.7H1334.3V967.5H1327.9ZM1385.3 960.7H1391.7V967.5H1385.3ZM1398.1 960.7H1404.5V967.5H1398.1ZM1417.2 960.7H1423.6V967.5H1417.2ZM1436.4 960.7H1442.8V967.5H1436.4ZM1461.9 960.7H1468.3V967.5H1461.9ZM753.7 967.5H766.5V974.3H753.7ZM957.9 967.5H983.4V974.3H957.9ZM1008.9 967.5H1021.7V974.3H1008.9ZM1028.0 960.7H1040.8V974.3H1028.0ZM1053.6 967.5H1066.3V974.3H1053.6ZM1072.7 967.5H1142.9V974.3H1072.7ZM1149.3 967.5H1162.0V974.3H1149.3ZM1181.2 967.5H1200.3V974.3H1181.2ZM1245.0 960.7H1251.3V974.3H1245.0ZM1257.7 967.5H1321.5V974.3H1257.7ZM1347.0 967.5H1353.4V974.3H1347.0ZM1379.0 967.5H1385.3V974.3H1379.0ZM1430.0 967.5H1436.4V974.3H1430.0ZM1449.1 967.5H1455.5V974.3H1449.1ZM1506.5 967.5H1512.9V974.3H1506.5ZM760.1 974.3H766.5V981.1H760.1ZM964.2 974.3H970.6V981.1H964.2ZM977.0 974.3H983.4V981.1H977.0ZM1008.9 974.3H1015.3V981.1H1008.9ZM1028.0 974.3H1034.4V981.1H1028.0ZM1040.8 974.3H1047.2V981.1H1040.8ZM1053.6 974.3H1059.9V981.1H1053.6ZM1072.7 974.3H1098.2V981.1H1072.7ZM1104.6 974.3H1187.5V981.1H1104.6ZM1193.9 974.3H1200.3V981.1H1193.9ZM1219.4 974.3H1225.8V981.1H1219.4ZM1238.6 974.3H1245.0V981.1H1238.6ZM1251.3 974.3H1327.9V981.1H1251.3ZM1334.3 974.3H1340.7V981.1H1334.3ZM1379.0 974.3H1391.7V981.1H1379.0ZM1423.6 974.3H1430.0V981.1H1423.6ZM1436.4 974.3H1455.5V981.1H1436.4ZM1474.7 974.3H1481.0V981.1H1474.7ZM792.0 981.1H798.4V987.9H792.0ZM804.8 981.1H817.5V987.9H804.8ZM970.6 981.1H977.0V987.9H970.6ZM1028.0 981.1H1047.2V987.9H1028.0ZM1079.1 981.1H1136.5V987.9H1079.1ZM1142.9 981.1H1155.7V987.9H1142.9ZM1162.0 981.1H1213.1V987.9H1162.0ZM1219.4 981.1H1232.2V987.9H1219.4ZM1238.6 981.1H1296.0V987.9H1238.6ZM1308.8 981.1H1340.7V987.9H1308.8ZM1347.0 981.1H1372.6V987.9H1347.0ZM1379.0 981.1H1385.3V987.9H1379.0ZM1436.4 981.1H1442.8V987.9H1436.4ZM1461.9 981.1H1468.3V987.9H1461.9ZM785.6 987.9H804.8V994.7H785.6ZM996.1 987.9H1002.5V994.7H996.1ZM1034.4 987.9H1040.8V994.7H1034.4ZM1079.1 987.9H1149.3V994.7H1079.1ZM1155.7 987.9H1162.0V994.7H1155.7ZM1168.4 987.9H1206.7V994.7H1168.4ZM1219.4 987.9H1296.0V994.7H1219.4ZM1308.8 987.9H1327.9V994.7H1308.8ZM1340.7 987.9H1347.0V994.7H1340.7ZM1353.4 987.9H1359.8V994.7H1353.4ZM1372.6 987.9H1379.0V994.7H1372.6ZM1417.2 987.9H1423.6V994.7H1417.2ZM1436.4 987.9H1461.9V994.7H1436.4ZM766.5 994.7H772.9V1001.5H766.5ZM779.2 994.7H817.5V1001.5H779.2ZM823.9 994.7H830.3V1001.5H823.9ZM1072.7 994.7H1079.1V1001.5H1072.7ZM1091.8 994.7H1104.6V1001.5H1091.8ZM1193.9 994.7H1200.3V1001.5H1193.9ZM1206.7 994.7H1213.1V1001.5H1206.7ZM1219.4 994.7H1289.6V1001.5H1219.4ZM1327.9 994.7H1391.7V1001.5H1327.9ZM1423.6 994.7H1436.4V1001.5H1423.6ZM1474.7 994.7H1481.0V1001.5H1474.7ZM753.7 1001.5H760.1V1008.3H753.7ZM785.6 1001.5H811.1V1008.3H785.6ZM817.5 1001.5H823.9V1008.3H817.5ZM913.2 1001.5H919.6V1008.3H913.2ZM1079.1 1001.5H1091.8V1008.3H1079.1ZM1098.2 1001.5H1104.6V1008.3H1098.2ZM1187.5 1001.5H1276.9V1008.3H1187.5ZM1283.2 1001.5H1296.0V1008.3H1283.2ZM1327.9 1001.5H1379.0V1008.3H1327.9ZM1417.2 1001.5H1430.0V1008.3H1417.2ZM1442.8 1001.5H1455.5V1008.3H1442.8ZM1461.9 994.7H1468.3V1008.3H1461.9ZM792.0 1008.3H811.1V1015.1H792.0ZM823.9 1008.3H830.3V1015.1H823.9ZM887.7 1008.3H894.1V1015.1H887.7ZM919.6 1008.3H945.1V1015.1H919.6ZM1072.7 1008.3H1098.2V1015.1H1072.7ZM1302.4 1008.3H1391.7V1015.1H1302.4ZM1410.8 1008.3H1423.6V1015.1H1410.8ZM1430.0 1008.3H1442.8V1015.1H1430.0ZM792.0 1015.1H804.8V1021.9H792.0ZM926.0 1015.1H945.1V1021.9H926.0ZM1079.1 1015.1H1098.2V1021.9H1079.1ZM1123.8 1015.1H1130.1V1021.9H1123.8ZM1149.3 1015.1H1155.7V1021.9H1149.3ZM1174.8 1015.1H1181.2V1021.9H1174.8ZM1200.3 1008.3H1289.6V1021.9H1200.3ZM1296.0 1015.1H1385.3V1021.9H1296.0ZM1391.7 1015.1H1410.8V1021.9H1391.7ZM1423.6 1015.1H1455.5V1021.9H1423.6ZM804.8 1021.9H817.5V1028.6H804.8ZM919.6 1021.9H938.7V1028.6H919.6ZM945.1 1021.9H951.5V1028.6H945.1ZM1181.2 1021.9H1187.5V1028.6H1181.2ZM1200.3 1021.9H1283.2V1028.6H1200.3ZM1296.0 1021.9H1302.4V1028.6H1296.0ZM1410.8 1021.9H1436.4V1028.6H1410.8ZM1449.1 1021.9H1461.9V1028.6H1449.1ZM792.0 1021.9H798.4V1035.4H792.0ZM817.5 1028.6H823.9V1035.4H817.5ZM887.7 1028.6H894.1V1035.4H887.7ZM919.6 1028.6H926.0V1035.4H919.6ZM938.7 1028.6H957.9V1035.4H938.7ZM1091.8 1028.6H1098.2V1035.4H1091.8ZM1174.8 1028.6H1181.2V1035.4H1174.8ZM1200.3 1028.6H1264.1V1035.4H1200.3ZM1276.9 1028.6H1283.2V1035.4H1276.9ZM1289.6 1028.6H1302.4V1035.4H1289.6ZM1315.2 1028.6H1327.9V1035.4H1315.2ZM1340.7 1021.9H1391.7V1035.4H1340.7ZM1410.8 1028.6H1423.6V1035.4H1410.8ZM1430.0 1028.6H1449.1V1035.4H1430.0ZM804.8 1035.4H830.3V1042.2H804.8ZM887.7 1035.4H919.6V1042.2H887.7ZM926.0 1035.4H945.1V1042.2H926.0ZM951.5 1035.4H957.9V1042.2H951.5ZM1040.8 1035.4H1047.2V1042.2H1040.8ZM1104.6 1035.4H1117.4V1042.2H1104.6ZM1123.8 1035.4H1142.9V1042.2H1123.8ZM1187.5 1035.4H1200.3V1042.2H1187.5ZM1213.1 1035.4H1276.9V1042.2H1213.1ZM1340.7 1035.4H1359.8V1042.2H1340.7ZM1366.2 1035.4H1410.8V1042.2H1366.2ZM1449.1 1035.4H1455.5V1042.2H1449.1ZM811.1 1042.2H830.3V1049.0H811.1ZM894.1 1042.2H957.9V1049.0H894.1ZM996.1 1042.2H1002.5V1049.0H996.1ZM1047.2 1042.2H1053.6V1049.0H1047.2ZM1098.2 1042.2H1111.0V1049.0H1098.2ZM1117.4 1042.2H1123.8V1049.0H1117.4ZM1130.1 1042.2H1149.3V1049.0H1130.1ZM1155.7 1042.2H1162.0V1049.0H1155.7ZM1187.5 1042.2H1193.9V1049.0H1187.5ZM1219.4 1042.2H1276.9V1049.0H1219.4ZM1283.2 1035.4H1289.6V1049.0H1283.2ZM1296.0 1035.4H1302.4V1049.0H1296.0ZM1347.0 1042.2H1372.6V1049.0H1347.0ZM1379.0 1042.2H1404.5V1049.0H1379.0ZM1449.1 1042.2H1461.9V1049.0H1449.1ZM753.7 1049.0H760.1V1055.8H753.7ZM900.5 1049.0H906.8V1055.8H900.5ZM926.0 1049.0H945.1V1055.8H926.0ZM951.5 1049.0H957.9V1055.8H951.5ZM1002.5 1049.0H1008.9V1055.8H1002.5ZM1040.8 1049.0H1066.3V1055.8H1040.8ZM1072.7 1049.0H1149.3V1055.8H1072.7ZM1181.2 1049.0H1187.5V1055.8H1181.2ZM1200.3 1042.2H1213.1V1055.8H1200.3ZM1219.4 1049.0H1225.8V1055.8H1219.4ZM1232.2 1049.0H1251.3V1055.8H1232.2ZM1257.7 1049.0H1276.9V1055.8H1257.7ZM1283.2 1049.0H1296.0V1055.8H1283.2ZM1302.4 1049.0H1353.4V1055.8H1302.4ZM1442.8 1049.0H1474.7V1055.8H1442.8ZM894.1 1055.8H900.5V1062.6H894.1ZM926.0 1055.8H957.9V1062.6H926.0ZM1015.3 1055.8H1021.7V1062.6H1015.3ZM1034.4 1055.8H1123.8V1062.6H1034.4ZM1130.1 1055.8H1162.0V1062.6H1130.1ZM1200.3 1055.8H1206.7V1062.6H1200.3ZM1213.1 1055.8H1219.4V1062.6H1213.1ZM1225.8 1055.8H1238.6V1062.6H1225.8ZM1245.0 1055.8H1283.2V1062.6H1245.0ZM1289.6 1055.8H1302.4V1062.6H1289.6ZM1315.2 1055.8H1340.7V1062.6H1315.2ZM1353.4 1055.8H1366.2V1062.6H1353.4ZM1372.6 1055.8H1385.3V1062.6H1372.6ZM1449.1 1055.8H1474.7V1062.6H1449.1ZM747.3 1055.8H753.7V1069.4H747.3ZM792.0 1062.6H798.4V1069.4H792.0ZM823.9 1062.6H836.6V1069.4H823.9ZM926.0 1062.6H932.4V1069.4H926.0ZM938.7 1062.6H945.1V1069.4H938.7ZM951.5 1062.6H970.6V1069.4H951.5ZM1008.9 1062.6H1059.9V1069.4H1008.9ZM1072.7 1062.6H1136.5V1069.4H1072.7ZM1200.3 1062.6H1213.1V1069.4H1200.3ZM1238.6 1062.6H1245.0V1069.4H1238.6ZM1251.3 1062.6H1296.0V1069.4H1251.3ZM1302.4 1062.6H1347.0V1069.4H1302.4ZM1353.4 1062.6H1372.6V1069.4H1353.4ZM741.0 1069.4H747.3V1076.2H741.0ZM785.6 1069.4H792.0V1076.2H785.6ZM843.0 1069.4H849.4V1076.2H843.0ZM919.6 1069.4H932.4V1076.2H919.6ZM938.7 1069.4H957.9V1076.2H938.7ZM964.2 1069.4H970.6V1076.2H964.2ZM1008.9 1069.4H1015.3V1076.2H1008.9ZM1021.7 1069.4H1059.9V1076.2H1021.7ZM1072.7 1069.4H1079.1V1076.2H1072.7ZM1085.5 1069.4H1136.5V1076.2H1085.5ZM1206.7 1069.4H1219.4V1076.2H1206.7ZM1251.3 1069.4H1276.9V1076.2H1251.3ZM1289.6 1069.4H1308.8V1076.2H1289.6ZM1327.9 1069.4H1334.3V1076.2H1327.9ZM1340.7 1069.4H1347.0V1076.2H1340.7ZM1353.4 1069.4H1359.8V1076.2H1353.4ZM823.9 1076.2H843.0V1083.0H823.9ZM874.9 1076.2H881.3V1083.0H874.9ZM938.7 1076.2H951.5V1083.0H938.7ZM1034.4 1076.2H1059.9V1083.0H1034.4ZM1066.3 1076.2H1072.7V1083.0H1066.3ZM1079.1 1076.2H1085.5V1083.0H1079.1ZM1091.8 1076.2H1123.8V1083.0H1091.8ZM1130.1 1076.2H1136.5V1083.0H1130.1ZM1276.9 1076.2H1289.6V1083.0H1276.9ZM1347.0 1076.2H1353.4V1083.0H1347.0ZM830.3 1083.0H843.0V1089.8H830.3ZM874.9 1083.0H894.1V1089.8H874.9ZM919.6 1083.0H951.5V1089.8H919.6ZM1021.7 1083.0H1028.0V1089.8H1021.7ZM1040.8 1083.0H1104.6V1089.8H1040.8ZM1111.0 1083.0H1136.5V1089.8H1111.0ZM1162.0 1083.0H1168.4V1089.8H1162.0ZM1251.3 1076.2H1264.1V1089.8H1251.3ZM1270.5 1083.0H1289.6V1089.8H1270.5ZM1315.2 1083.0H1327.9V1089.8H1315.2ZM785.6 1089.8H792.0V1096.6H785.6ZM817.5 1089.8H830.3V1096.6H817.5ZM836.6 1089.8H843.0V1096.6H836.6ZM938.7 1089.8H945.1V1096.6H938.7ZM1117.4 1089.8H1123.8V1096.6H1117.4ZM1232.2 1089.8H1245.0V1096.6H1232.2ZM1257.7 1089.8H1283.2V1096.6H1257.7ZM1327.9 1089.8H1334.3V1096.6H1327.9ZM811.1 1096.6H830.3V1103.4H811.1ZM843.0 1096.6H849.4V1103.4H843.0ZM894.1 1096.6H900.5V1103.4H894.1ZM1040.8 1096.6H1047.2V1103.4H1040.8ZM1053.6 1096.6H1059.9V1103.4H1053.6ZM1098.2 1096.6H1104.6V1103.4H1098.2ZM1142.9 1089.8H1149.3V1103.4H1142.9ZM1162.0 1096.6H1168.4V1103.4H1162.0ZM1174.8 1096.6H1181.2V1103.4H1174.8ZM1193.9 1096.6H1200.3V1103.4H1193.9ZM1225.8 1096.6H1238.6V1103.4H1225.8ZM1264.1 1096.6H1289.6V1103.4H1264.1ZM792.0 1103.4H804.8V1110.1H792.0ZM836.6 1103.4H843.0V1110.1H836.6ZM887.7 1103.4H894.1V1110.1H887.7ZM906.8 1089.8H926.0V1110.1H906.8ZM1149.3 1103.4H1155.7V1110.1H1149.3ZM1168.4 1103.4H1174.8V1110.1H1168.4ZM1245.0 1103.4H1251.3V1110.1H1245.0ZM1264.1 1103.4H1296.0V1110.1H1264.1ZM823.9 1110.1H830.3V1116.9H823.9ZM855.8 1110.1H862.2V1116.9H855.8ZM881.3 1110.1H887.7V1116.9H881.3ZM906.8 1110.1H913.2V1116.9H906.8ZM1162.0 1110.1H1174.8V1116.9H1162.0ZM1213.1 1110.1H1225.8V1116.9H1213.1ZM1238.6 1110.1H1245.0V1116.9H1238.6ZM1264.1 1110.1H1276.9V1116.9H1264.1ZM1283.2 1110.1H1289.6V1116.9H1283.2ZM881.3 1116.9H906.8V1123.7H881.3ZM1162.0 1116.9H1213.1V1123.7H1162.0ZM792.0 1116.9H811.1V1130.5H792.0ZM823.9 1123.7H830.3V1130.5H823.9ZM926.0 1123.7H932.4V1130.5H926.0ZM1155.7 1123.7H1181.2V1130.5H1155.7ZM1187.5 1123.7H1213.1V1130.5H1187.5ZM1225.8 1123.7H1232.2V1130.5H1225.8ZM779.2 1130.5H785.6V1137.3H779.2ZM804.8 1130.5H817.5V1137.3H804.8ZM855.8 1130.5H862.2V1137.3H855.8ZM874.9 1130.5H894.1V1137.3H874.9ZM919.6 1130.5H926.0V1137.3H919.6ZM1162.0 1130.5H1200.3V1137.3H1162.0ZM1206.7 1130.5H1213.1V1137.3H1206.7ZM1245.0 1130.5H1251.3V1137.3H1245.0ZM792.0 1137.3H817.5V1144.1H792.0ZM843.0 1137.3H849.4V1144.1H843.0ZM900.5 1137.3H906.8V1144.1H900.5ZM1162.0 1137.3H1168.4V1144.1H1162.0ZM1174.8 1137.3H1200.3V1144.1H1174.8ZM868.5 1144.1H881.3V1150.9H868.5ZM1174.8 1144.1H1181.2V1150.9H1174.8ZM804.8 1150.9H811.1V1157.7H804.8ZM887.7 1144.1H894.1V1157.7H887.7ZM1219.4 1150.9H1225.8V1157.7H1219.4ZM874.9 1150.9H881.3V1164.5H874.9ZM906.8 1157.7H913.2V1164.5H906.8ZM1232.2 1157.7H1238.6V1164.5H1232.2ZM881.3 1171.3H887.7V1178.1H881.3ZM868.5 1178.1H874.9V1191.6H868.5ZM830.3 1178.1H836.6V1198.4H830.3ZM874.9 1191.6H881.3V1198.4H874.9ZM932.4 1198.4H938.7V1205.2H932.4ZM836.6 1198.4H843.0V1212.0H836.6ZM926.0 1205.2H932.4V1212.0H926.0ZM830.3 1218.8H843.0V1225.6H830.3ZM811.1 1218.8H817.5V1232.4H811.1ZM804.8 1232.4H817.5V1239.2H804.8ZM798.4 1246.0H804.8V1252.8H798.4ZM817.5 1259.6H830.3V1266.4H817.5ZM804.8 1266.4H811.1V1273.1H804.8ZM811.1 1273.1H817.5V1279.9H811.1ZM817.5 1544.8H823.9V1551.6H817.5ZM830.3 1558.4H836.6V1565.2H830.3ZM843.0 1578.8H849.4V1585.6H843.0ZM804.8 1578.8H817.5V1592.4H804.8ZM779.2 1592.4H785.6V1599.1H779.2ZM792.0 1592.4H798.4V1599.1H792.0ZM811.1 1592.4H817.5V1599.1H811.1ZM868.5 1592.4H874.9V1599.1H868.5ZM894.1 1592.4H900.5V1599.1H894.1ZM792.0 1599.1H817.5V1605.9H792.0ZM849.4 1599.1H862.2V1605.9H849.4ZM874.9 1599.1H887.7V1605.9H874.9ZM900.5 1599.1H913.2V1605.9H900.5ZM766.5 1605.9H772.9V1612.7H766.5ZM779.2 1605.9H785.6V1612.7H779.2ZM887.7 1605.9H900.5V1612.7H887.7ZM766.5 1612.7H798.4V1619.5H766.5ZM766.5 1619.5H792.0V1626.3H766.5ZM836.6 1619.5H843.0V1626.3H836.6ZM760.1 1626.3H798.4V1633.1H760.1ZM811.1 1626.3H817.5V1633.1H811.1ZM792.0 1633.1H798.4V1639.9H792.0ZM785.6 1639.9H792.0V1646.7H785.6ZM830.3 1639.9H836.6V1646.7H830.3ZM830.3 1653.5H836.6V1660.3H830.3ZM734.6 1667.1H741.0V1673.9H734.6ZM766.5 1667.1H772.9V1673.9H766.5ZM715.4 1673.9H741.0V1680.6H715.4ZM728.2 1680.6H741.0V1687.4H728.2ZM792.0 1680.6H798.4V1687.4H792.0ZM741.0 1687.4H753.7V1694.2H741.0ZM772.9 1687.4H779.2V1694.2H772.9ZM785.6 1687.4H792.0V1694.2H785.6ZM798.4 1687.4H804.8V1694.2H798.4ZM702.7 1694.2H709.0V1701.0H702.7ZM766.5 1694.2H792.0V1701.0H766.5ZM715.4 1701.0H721.8V1707.8H715.4ZM728.2 1694.2H741.0V1707.8H728.2ZM747.3 1694.2H753.7V1707.8H747.3ZM760.1 1701.0H766.5V1707.8H760.1ZM779.2 1701.0H785.6V1707.8H779.2ZM715.4 1707.8H753.7V1714.6H715.4ZM772.9 1707.8H792.0V1714.6H772.9ZM715.4 1714.6H728.2V1721.4H715.4ZM741.0 1714.6H747.3V1721.4H741.0ZM772.9 1714.6H785.6V1721.4H772.9ZM715.4 1721.4H721.8V1728.2H715.4ZM728.2 1721.4H753.7V1728.2H728.2ZM779.2 1721.4H785.6V1728.2H779.2ZM709.0 1728.2H715.4V1735.0H709.0ZM728.2 1728.2H766.5V1735.0H728.2ZM728.2 1735.0H741.0V1741.8H728.2ZM747.3 1735.0H753.7V1741.8H747.3ZM785.6 1728.2H792.0V1741.8H785.6ZM715.4 1741.8H747.3V1748.6H715.4ZM721.8 1748.6H747.3V1755.4H721.8ZM753.7 1741.8H779.2V1755.4H753.7ZM792.0 1748.6H798.4V1755.4H792.0ZM804.8 1741.8H811.1V1755.4H804.8ZM715.4 1755.4H728.2V1762.1H715.4ZM734.6 1755.4H804.8V1762.1H734.6ZM811.1 1755.4H823.9V1762.1H811.1ZM830.3 1755.4H843.0V1762.1H830.3ZM709.0 1762.1H715.4V1768.9H709.0ZM728.2 1762.1H792.0V1768.9H728.2ZM798.4 1762.1H811.1V1768.9H798.4ZM817.5 1762.1H830.3V1768.9H817.5ZM721.8 1768.9H823.9V1775.7H721.8ZM715.4 1775.7H817.5V1782.5H715.4ZM728.2 1782.5H747.3V1789.3H728.2ZM753.7 1782.5H798.4V1789.3H753.7ZM804.8 1782.5H811.1V1789.3H804.8ZM721.8 1789.3H728.2V1796.1H721.8ZM734.6 1789.3H741.0V1796.1H734.6ZM747.3 1789.3H753.7V1796.1H747.3ZM760.1 1789.3H766.5V1796.1H760.1ZM772.9 1789.3H804.8V1796.1H772.9ZM728.2 1796.1H734.6V1802.9H728.2ZM792.0 1796.1H798.4V1802.9H792.0ZM804.8 1796.1H817.5V1802.9H804.8ZM728.2 1802.9H741.0V1809.7H728.2ZM747.3 1802.9H753.7V1809.7H747.3ZM766.5 1816.5H772.9V1823.3H766.5ZM760.1 1823.3H772.9V1830.1H760.1ZM753.7 1830.1H779.2V1836.9H753.7ZM747.3 1836.9H785.6V1843.6H747.3ZM747.3 1843.6H760.1V1850.4H747.3ZM766.5 1843.6H785.6V1850.4H766.5ZM747.3 1850.4H792.0V1857.2H747.3ZM741.0 1857.2H798.4V1864.0H741.0ZM741.0 1864.0H753.7V1870.8H741.0ZM766.5 1864.0H772.9V1870.8H766.5ZM766.5 1870.8H798.4V1877.6H766.5ZM760.1 1877.6H779.2V1884.4H760.1ZM772.9 1884.4H779.2V1898.0H772.9ZM823.9 1911.6H830.3V1918.4H823.9Z" fill="#f88c51"/>
<path d="M772.9 152.5H779.2V159.3H772.9ZM1015.3 220.4H1021.7V227.2H1015.3ZM1002.5 227.2H1008.9V234.0H1002.5ZM1002.5 234.0H1034.4V240.8H1002.5ZM1040.8 234.0H1047.2V240.8H1040.8ZM989.8 240.8H996.1V247.6H989.8ZM1002.5 240.8H1028.0V247.6H1002.5ZM1034.4 240.8H1047.2V247.6H1034.4ZM996.1 247.6H1002.5V254.4H996.1ZM1008.9 247.6H1021.7V254.4H1008.9ZM1008.9 254.4H1015.3V261.2H1008.9ZM1040.8 247.6H1047.2V261.2H1040.8ZM1028.0 268.0H1034.4V274.8H1028.0ZM1072.7 274.8H1085.5V281.6H1072.7ZM1091.8 274.8H1098.2V281.6H1091.8ZM1117.4 274.8H1123.8V281.6H1117.4ZM1142.9 274.8H1162.0V281.6H1142.9ZM1079.1 281.6H1085.5V288.4H1079.1ZM1111.0 281.6H1123.8V288.4H1111.0ZM1149.3 281.6H1168.4V288.4H1149.3ZM1059.9 288.4H1066.3V295.1H1059.9ZM1130.1 281.6H1136.5V295.1H1130.1ZM1149.3 288.4H1155.7V295.1H1149.3ZM1085.5 301.9H1091.8V308.7H1085.5ZM1149.3 301.9H1155.7V308.7H1149.3ZM1104.6 308.7H1111.0V315.5H1104.6ZM1225.8 315.5H1232.2V322.3H1225.8ZM1123.8 315.5H1136.5V329.1H1123.8ZM1225.8 322.3H1238.6V329.1H1225.8ZM1091.8 329.1H1098.2V335.9H1091.8ZM1142.9 329.1H1149.3V335.9H1142.9ZM1219.4 329.1H1225.8V335.9H1219.4ZM1091.8 342.7H1098.2V349.5H1091.8ZM1149.3 342.7H1168.4V349.5H1149.3ZM1213.1 342.7H1219.4V349.5H1213.1ZM1053.6 349.5H1059.9V356.3H1053.6ZM1136.5 349.5H1142.9V356.3H1136.5ZM1149.3 349.5H1162.0V356.3H1149.3ZM1225.8 349.5H1232.2V356.3H1225.8ZM1059.9 356.3H1066.3V363.1H1059.9ZM1072.7 356.3H1079.1V363.1H1072.7ZM1123.8 356.3H1149.3V363.1H1123.8ZM1072.7 363.1H1085.5V369.9H1072.7ZM1130.1 363.1H1136.5V369.9H1130.1ZM1142.9 363.1H1155.7V369.9H1142.9ZM1053.6 369.9H1059.9V376.6H1053.6ZM1072.7 369.9H1079.1V376.6H1072.7ZM1193.9 369.9H1200.3V376.6H1193.9ZM1168.4 376.6H1174.8V383.4H1168.4ZM1181.2 376.6H1200.3V383.4H1181.2ZM1206.7 376.6H1213.1V383.4H1206.7ZM1117.4 383.4H1130.1V390.2H1117.4ZM1174.8 383.4H1225.8V390.2H1174.8ZM1053.6 383.4H1059.9V397.0H1053.6ZM1111.0 390.2H1117.4V397.0H1111.0ZM1174.8 390.2H1213.1V397.0H1174.8ZM1059.9 397.0H1072.7V403.8H1059.9ZM1104.6 397.0H1111.0V403.8H1104.6ZM1123.8 397.0H1136.5V403.8H1123.8ZM1142.9 397.0H1149.3V403.8H1142.9ZM1174.8 397.0H1181.2V403.8H1174.8ZM1187.5 397.0H1193.9V403.8H1187.5ZM1200.3 397.0H1225.8V403.8H1200.3ZM1232.2 397.0H1238.6V403.8H1232.2ZM1053.6 403.8H1066.3V410.6H1053.6ZM1072.7 403.8H1079.1V410.6H1072.7ZM1098.2 403.8H1111.0V410.6H1098.2ZM1117.4 403.8H1136.5V410.6H1117.4ZM1174.8 403.8H1213.1V410.6H1174.8ZM1053.6 410.6H1059.9V417.4H1053.6ZM1130.1 410.6H1155.7V417.4H1130.1ZM1187.5 410.6H1193.9V417.4H1187.5ZM1200.3 410.6H1206.7V417.4H1200.3ZM1219.4 403.8H1251.3V417.4H1219.4ZM1072.7 417.4H1079.1V424.2H1072.7ZM1085.5 417.4H1091.8V424.2H1085.5ZM1098.2 410.6H1123.8V424.2H1098.2ZM1136.5 417.4H1155.7V424.2H1136.5ZM1174.8 417.4H1193.9V424.2H1174.8ZM1206.7 417.4H1219.4V424.2H1206.7ZM1225.8 417.4H1238.6V424.2H1225.8ZM1245.0 417.4H1251.3V424.2H1245.0ZM1257.7 417.4H1264.1V424.2H1257.7ZM1111.0 424.2H1130.1V431.0H1111.0ZM1142.9 424.2H1174.8V431.0H1142.9ZM1187.5 424.2H1251.3V431.0H1187.5ZM1098.2 424.2H1104.6V437.8H1098.2ZM1123.8 431.0H1136.5V437.8H1123.8ZM1149.3 431.0H1174.8V437.8H1149.3ZM1193.9 431.0H1200.3V437.8H1193.9ZM1206.7 431.0H1238.6V437.8H1206.7ZM1111.0 437.8H1117.4V444.6H1111.0ZM1174.8 437.8H1181.2V444.6H1174.8ZM1193.9 437.8H1225.8V444.6H1193.9ZM1232.2 437.8H1238.6V444.6H1232.2ZM1136.5 437.8H1162.0V451.4H1136.5ZM1117.4 451.4H1123.8V458.1H1117.4ZM1149.3 451.4H1174.8V458.1H1149.3ZM1181.2 451.4H1187.5V458.1H1181.2ZM1200.3 444.6H1238.6V458.1H1200.3ZM1296.0 444.6H1302.4V458.1H1296.0ZM1308.8 451.4H1315.2V458.1H1308.8ZM1098.2 451.4H1104.6V464.9H1098.2ZM1123.8 458.1H1136.5V464.9H1123.8ZM1142.9 458.1H1174.8V464.9H1142.9ZM1206.7 458.1H1225.8V464.9H1206.7ZM1232.2 458.1H1238.6V464.9H1232.2ZM1245.0 458.1H1251.3V464.9H1245.0ZM1302.4 458.1H1353.4V464.9H1302.4ZM479.4 464.9H492.1V471.7H479.4ZM1034.4 464.9H1040.8V471.7H1034.4ZM1047.2 464.9H1053.6V471.7H1047.2ZM1111.0 458.1H1117.4V471.7H1111.0ZM1130.1 464.9H1136.5V471.7H1130.1ZM1149.3 464.9H1168.4V471.7H1149.3ZM1174.8 464.9H1181.2V471.7H1174.8ZM1187.5 464.9H1219.4V471.7H1187.5ZM1264.1 464.9H1276.9V471.7H1264.1ZM1302.4 464.9H1372.6V471.7H1302.4ZM1149.3 471.7H1181.2V478.5H1149.3ZM1200.3 471.7H1213.1V478.5H1200.3ZM1251.3 464.9H1257.7V478.5H1251.3ZM1270.5 471.7H1276.9V478.5H1270.5ZM1296.0 471.7H1302.4V478.5H1296.0ZM1308.8 471.7H1398.1V478.5H1308.8ZM1117.4 478.5H1123.8V485.3H1117.4ZM1136.5 478.5H1142.9V485.3H1136.5ZM1149.3 478.5H1200.3V485.3H1149.3ZM1213.1 478.5H1219.4V485.3H1213.1ZM1225.8 471.7H1232.2V485.3H1225.8ZM1238.6 471.7H1245.0V485.3H1238.6ZM1251.3 478.5H1264.1V485.3H1251.3ZM1289.6 478.5H1398.1V485.3H1289.6ZM479.4 471.7H498.5V492.1H479.4ZM1091.8 485.3H1098.2V492.1H1091.8ZM1123.8 485.3H1130.1V492.1H1123.8ZM1136.5 485.3H1162.0V492.1H1136.5ZM1168.4 485.3H1187.5V492.1H1168.4ZM1206.7 485.3H1232.2V492.1H1206.7ZM1238.6 485.3H1264.1V492.1H1238.6ZM1289.6 485.3H1296.0V492.1H1289.6ZM1302.4 485.3H1404.5V492.1H1302.4ZM479.4 492.1H492.1V498.9H479.4ZM1066.3 492.1H1072.7V498.9H1066.3ZM1098.2 492.1H1104.6V498.9H1098.2ZM1111.0 492.1H1136.5V498.9H1111.0ZM1142.9 492.1H1149.3V498.9H1142.9ZM1155.7 492.1H1162.0V498.9H1155.7ZM1193.9 485.3H1200.3V498.9H1193.9ZM1232.2 492.1H1264.1V498.9H1232.2ZM1289.6 492.1H1334.3V498.9H1289.6ZM1340.7 492.1H1410.8V498.9H1340.7ZM479.4 498.9H485.8V505.7H479.4ZM1091.8 498.9H1104.6V505.7H1091.8ZM1111.0 498.9H1117.4V505.7H1111.0ZM1123.8 498.9H1149.3V505.7H1123.8ZM1174.8 498.9H1181.2V505.7H1174.8ZM1187.5 498.9H1206.7V505.7H1187.5ZM1238.6 498.9H1245.0V505.7H1238.6ZM1251.3 498.9H1257.7V505.7H1251.3ZM1296.0 498.9H1302.4V505.7H1296.0ZM1308.8 498.9H1321.5V505.7H1308.8ZM1327.9 498.9H1410.8V505.7H1327.9ZM1423.6 498.9H1436.4V505.7H1423.6ZM1079.1 498.9H1085.5V512.5H1079.1ZM1104.6 505.7H1136.5V512.5H1104.6ZM1142.9 505.7H1155.7V512.5H1142.9ZM1162.0 505.7H1168.4V512.5H1162.0ZM1174.8 505.7H1187.5V512.5H1174.8ZM1206.7 505.7H1213.1V512.5H1206.7ZM1302.4 505.7H1308.8V512.5H1302.4ZM1327.9 505.7H1334.3V512.5H1327.9ZM1340.7 505.7H1455.5V512.5H1340.7ZM492.1 512.5H498.5V519.3H492.1ZM1079.1 512.5H1091.8V519.3H1079.1ZM1098.2 512.5H1187.5V519.3H1098.2ZM1302.4 512.5H1315.2V519.3H1302.4ZM1327.9 512.5H1461.9V519.3H1327.9ZM1512.9 512.5H1519.3V519.3H1512.9ZM1111.0 519.3H1130.1V526.1H1111.0ZM1136.5 519.3H1142.9V526.1H1136.5ZM1200.3 512.5H1213.1V526.1H1200.3ZM1219.4 519.3H1225.8V526.1H1219.4ZM1270.5 519.3H1276.9V526.1H1270.5ZM1283.2 512.5H1289.6V526.1H1283.2ZM1315.2 519.3H1321.5V526.1H1315.2ZM1327.9 519.3H1468.3V526.1H1327.9ZM1481.0 519.3H1532.1V526.1H1481.0ZM1111.0 526.1H1123.8V532.9H1111.0ZM1142.9 526.1H1149.3V532.9H1142.9ZM1206.7 526.1H1219.4V532.9H1206.7ZM1327.9 526.1H1455.5V532.9H1327.9ZM1461.9 526.1H1474.7V532.9H1461.9ZM1481.0 526.1H1544.8V532.9H1481.0ZM1098.2 519.3H1104.6V539.6H1098.2ZM1232.2 532.9H1238.6V539.6H1232.2ZM1270.5 526.1H1289.6V539.6H1270.5ZM1321.5 532.9H1327.9V539.6H1321.5ZM1359.8 532.9H1455.5V539.6H1359.8ZM1481.0 532.9H1551.2V539.6H1481.0ZM504.9 539.6H511.3V546.4H504.9ZM964.2 539.6H970.6V546.4H964.2ZM1353.4 539.6H1385.3V546.4H1353.4ZM1391.7 539.6H1455.5V546.4H1391.7ZM1468.3 539.6H1487.4V546.4H1468.3ZM1493.8 539.6H1564.0V546.4H1493.8ZM1334.3 546.4H1340.7V553.2H1334.3ZM1391.7 546.4H1461.9V553.2H1391.7ZM1468.3 546.4H1481.0V553.2H1468.3ZM1487.4 546.4H1557.6V553.2H1487.4ZM1564.0 546.4H1570.3V553.2H1564.0ZM485.8 546.4H498.5V560.0H485.8ZM1366.2 553.2H1372.6V560.0H1366.2ZM1391.7 553.2H1449.1V560.0H1391.7ZM1455.5 553.2H1468.3V560.0H1455.5ZM1474.7 553.2H1512.9V560.0H1474.7ZM1519.3 553.2H1538.5V560.0H1519.3ZM1544.8 553.2H1551.2V560.0H1544.8ZM1557.6 553.2H1576.7V560.0H1557.6ZM485.8 560.0H504.9V566.8H485.8ZM1391.7 560.0H1398.1V566.8H1391.7ZM1404.5 560.0H1410.8V566.8H1404.5ZM1417.2 560.0H1449.1V566.8H1417.2ZM1455.5 560.0H1512.9V566.8H1455.5ZM1532.1 560.0H1538.5V566.8H1532.1ZM1544.8 560.0H1564.0V566.8H1544.8ZM1570.3 560.0H1583.1V566.8H1570.3ZM1410.8 566.8H1442.8V573.6H1410.8ZM1449.1 566.8H1500.2V573.6H1449.1ZM1506.5 566.8H1519.3V573.6H1506.5ZM1525.7 566.8H1532.1V573.6H1525.7ZM1538.5 566.8H1544.8V573.6H1538.5ZM1557.6 566.8H1595.9V573.6H1557.6ZM485.8 566.8H492.1V580.4H485.8ZM498.5 566.8H504.9V580.4H498.5ZM1398.1 566.8H1404.5V580.4H1398.1ZM1417.2 573.6H1519.3V580.4H1417.2ZM1532.1 573.6H1538.5V580.4H1532.1ZM1570.3 573.6H1608.6V580.4H1570.3ZM479.4 580.4H504.9V587.2H479.4ZM1372.6 580.4H1379.0V587.2H1372.6ZM1417.2 580.4H1512.9V587.2H1417.2ZM1519.3 580.4H1525.7V587.2H1519.3ZM1570.3 580.4H1583.1V587.2H1570.3ZM498.5 587.2H504.9V594.0H498.5ZM1442.8 587.2H1506.5V594.0H1442.8ZM1512.9 587.2H1538.5V594.0H1512.9ZM1544.8 587.2H1551.2V594.0H1544.8ZM1557.6 587.2H1564.0V594.0H1557.6ZM1570.3 587.2H1595.9V594.0H1570.3ZM498.5 594.0H511.3V600.8H498.5ZM1442.8 594.0H1481.0V600.8H1442.8ZM1487.4 594.0H1512.9V600.8H1487.4ZM1519.3 594.0H1532.1V600.8H1519.3ZM1538.5 594.0H1544.8V600.8H1538.5ZM1557.6 594.0H1595.9V600.8H1557.6ZM1602.2 594.0H1608.6V600.8H1602.2ZM1379.0 600.8H1385.3V607.6H1379.0ZM1398.1 600.8H1404.5V607.6H1398.1ZM1423.6 594.0H1430.0V607.6H1423.6ZM1519.3 600.8H1570.3V607.6H1519.3ZM1576.7 600.8H1602.2V607.6H1576.7ZM1430.0 607.6H1436.4V614.4H1430.0ZM1442.8 607.6H1449.1V614.4H1442.8ZM1455.5 600.8H1493.8V614.4H1455.5ZM1525.7 607.6H1544.8V614.4H1525.7ZM1551.2 607.6H1583.1V614.4H1551.2ZM1379.0 614.4H1436.4V621.1H1379.0ZM1449.1 614.4H1461.9V621.1H1449.1ZM1538.5 614.4H1570.3V621.1H1538.5ZM1379.0 621.1H1385.3V627.9H1379.0ZM1391.7 621.1H1398.1V627.9H1391.7ZM1404.5 621.1H1468.3V627.9H1404.5ZM1532.1 621.1H1570.3V627.9H1532.1ZM1391.7 627.9H1455.5V634.7H1391.7ZM1461.9 627.9H1468.3V634.7H1461.9ZM1474.7 627.9H1487.4V634.7H1474.7ZM1512.9 627.9H1519.3V634.7H1512.9ZM1544.8 627.9H1551.2V634.7H1544.8ZM1391.7 634.7H1442.8V641.5H1391.7ZM1449.1 634.7H1481.0V641.5H1449.1ZM1359.8 641.5H1366.2V648.3H1359.8ZM1379.0 641.5H1385.3V648.3H1379.0ZM1404.5 641.5H1417.2V648.3H1404.5ZM1430.0 641.5H1474.7V648.3H1430.0ZM1500.2 641.5H1506.5V648.3H1500.2ZM1385.3 648.3H1391.7V655.1H1385.3ZM1404.5 648.3H1410.8V655.1H1404.5ZM1417.2 648.3H1423.6V655.1H1417.2ZM1430.0 648.3H1468.3V655.1H1430.0ZM1474.7 648.3H1481.0V655.1H1474.7ZM1506.5 648.3H1512.9V655.1H1506.5ZM1379.0 655.1H1417.2V661.9H1379.0ZM1436.4 655.1H1442.8V661.9H1436.4ZM1481.0 655.1H1487.4V661.9H1481.0ZM1493.8 655.1H1512.9V661.9H1493.8ZM1525.7 655.1H1532.1V661.9H1525.7ZM1359.8 661.9H1366.2V668.7H1359.8ZM1379.0 661.9H1398.1V668.7H1379.0ZM1404.5 661.9H1442.8V668.7H1404.5ZM1487.4 661.9H1493.8V668.7H1487.4ZM1500.2 661.9H1506.5V668.7H1500.2ZM1519.3 661.9H1532.1V668.7H1519.3ZM1366.2 668.7H1391.7V675.5H1366.2ZM1417.2 668.7H1423.6V675.5H1417.2ZM1493.8 668.7H1500.2V675.5H1493.8ZM1372.6 675.5H1391.7V682.3H1372.6ZM1398.1 668.7H1410.8V682.3H1398.1ZM1423.6 675.5H1436.4V682.3H1423.6ZM1481.0 668.7H1487.4V682.3H1481.0ZM1506.5 668.7H1544.8V682.3H1506.5ZM1366.2 682.3H1398.1V689.1H1366.2ZM1410.8 682.3H1430.0V689.1H1410.8ZM1436.4 682.3H1442.8V689.1H1436.4ZM1500.2 682.3H1538.5V689.1H1500.2ZM1359.8 689.1H1410.8V695.9H1359.8ZM1417.2 689.1H1436.4V695.9H1417.2ZM1468.3 689.1H1474.7V695.9H1468.3ZM1506.5 689.1H1532.1V695.9H1506.5ZM1366.2 695.9H1430.0V702.6H1366.2ZM1455.5 695.9H1461.9V702.6H1455.5ZM1481.0 695.9H1487.4V702.6H1481.0ZM1493.8 695.9H1506.5V702.6H1493.8ZM1512.9 695.9H1519.3V702.6H1512.9ZM1340.7 695.9H1353.4V709.4H1340.7ZM1366.2 702.6H1385.3V709.4H1366.2ZM1391.7 702.6H1430.0V709.4H1391.7ZM1442.8 695.9H1449.1V709.4H1442.8ZM1455.5 702.6H1468.3V709.4H1455.5ZM1481.0 702.6H1519.3V709.4H1481.0ZM1347.0 709.4H1353.4V716.2H1347.0ZM1398.1 709.4H1423.6V716.2H1398.1ZM1474.7 709.4H1481.0V716.2H1474.7ZM1493.8 709.4H1506.5V716.2H1493.8ZM1449.1 716.2H1455.5V723.0H1449.1ZM1468.3 716.2H1481.0V723.0H1468.3ZM1493.8 716.2H1512.9V723.0H1493.8ZM1283.2 723.0H1289.6V729.8H1283.2ZM1353.4 723.0H1366.2V729.8H1353.4ZM1398.1 716.2H1430.0V729.8H1398.1ZM1436.4 723.0H1468.3V729.8H1436.4ZM1474.7 723.0H1481.0V729.8H1474.7ZM1487.4 723.0H1493.8V729.8H1487.4ZM1500.2 723.0H1506.5V729.8H1500.2ZM1385.3 729.8H1391.7V736.6H1385.3ZM1398.1 729.8H1404.5V736.6H1398.1ZM1410.8 729.8H1449.1V736.6H1410.8ZM1461.9 729.8H1487.4V736.6H1461.9ZM1398.1 736.6H1417.2V743.4H1398.1ZM1423.6 736.6H1442.8V743.4H1423.6ZM1468.3 736.6H1474.7V743.4H1468.3ZM1385.3 743.4H1417.2V750.2H1385.3ZM1423.6 743.4H1430.0V750.2H1423.6ZM1455.5 743.4H1461.9V750.2H1455.5ZM1493.8 743.4H1500.2V750.2H1493.8ZM1308.8 750.2H1315.2V757.0H1308.8ZM1391.7 750.2H1398.1V757.0H1391.7ZM1442.8 743.4H1449.1V757.0H1442.8ZM1283.2 757.0H1296.0V763.8H1283.2ZM1366.2 757.0H1372.6V763.8H1366.2ZM1417.2 757.0H1423.6V763.8H1417.2ZM1442.8 757.0H1455.5V763.8H1442.8ZM855.8 763.8H862.2V770.6H855.8ZM868.5 763.8H874.9V770.6H868.5ZM1289.6 763.8H1296.0V770.6H1289.6ZM1353.4 763.8H1359.8V770.6H1353.4ZM1398.1 763.8H1404.5V770.6H1398.1ZM1410.8 763.8H1417.2V770.6H1410.8ZM1474.7 763.8H1481.0V770.6H1474.7ZM868.5 770.6H881.3V777.4H868.5ZM1264.1 763.8H1270.5V777.4H1264.1ZM1289.6 770.6H1302.4V777.4H1289.6ZM1308.8 763.8H1315.2V777.4H1308.8ZM1404.5 770.6H1417.2V777.4H1404.5ZM1493.8 763.8H1506.5V777.4H1493.8ZM1289.6 777.4H1308.8V784.1H1289.6ZM1327.9 770.6H1334.3V784.1H1327.9ZM1353.4 777.4H1359.8V784.1H1353.4ZM1366.2 777.4H1417.2V784.1H1366.2ZM1423.6 777.4H1442.8V784.1H1423.6ZM1449.1 777.4H1468.3V784.1H1449.1ZM1493.8 777.4H1500.2V784.1H1493.8ZM1257.7 784.1H1264.1V790.9H1257.7ZM1289.6 784.1H1296.0V790.9H1289.6ZM1302.4 784.1H1315.2V790.9H1302.4ZM1334.3 784.1H1340.7V790.9H1334.3ZM1359.8 784.1H1468.3V790.9H1359.8ZM1481.0 784.1H1487.4V790.9H1481.0ZM1493.8 784.1H1519.3V790.9H1493.8ZM1334.3 790.9H1359.8V797.7H1334.3ZM1366.2 790.9H1481.0V797.7H1366.2ZM1493.8 790.9H1506.5V797.7H1493.8ZM1512.9 790.9H1519.3V797.7H1512.9ZM1283.2 797.7H1289.6V804.5H1283.2ZM1321.5 797.7H1327.9V804.5H1321.5ZM1340.7 797.7H1481.0V804.5H1340.7ZM1500.2 797.7H1519.3V804.5H1500.2ZM1315.2 804.5H1353.4V811.3H1315.2ZM1366.2 804.5H1436.4V811.3H1366.2ZM1455.5 804.5H1468.3V811.3H1455.5ZM1474.7 804.5H1519.3V811.3H1474.7ZM1525.7 804.5H1532.1V811.3H1525.7ZM1315.2 811.3H1359.8V818.1H1315.2ZM1366.2 811.3H1398.1V818.1H1366.2ZM1404.5 811.3H1449.1V818.1H1404.5ZM1455.5 811.3H1506.5V818.1H1455.5ZM1512.9 811.3H1519.3V818.1H1512.9ZM1315.2 818.1H1353.4V824.9H1315.2ZM1366.2 818.1H1379.0V824.9H1366.2ZM1385.3 818.1H1398.1V824.9H1385.3ZM1404.5 818.1H1430.0V824.9H1404.5ZM1436.4 818.1H1449.1V824.9H1436.4ZM1455.5 818.1H1468.3V824.9H1455.5ZM1474.7 818.1H1481.0V824.9H1474.7ZM1487.4 818.1H1519.3V824.9H1487.4ZM1238.6 824.9H1245.0V831.7H1238.6ZM1315.2 824.9H1321.5V831.7H1315.2ZM1327.9 824.9H1353.4V831.7H1327.9ZM1366.2 824.9H1449.1V831.7H1366.2ZM1455.5 824.9H1487.4V831.7H1455.5ZM1493.8 824.9H1519.3V831.7H1493.8ZM983.4 831.7H989.8V838.5H983.4ZM1315.2 831.7H1340.7V838.5H1315.2ZM1359.8 831.7H1379.0V838.5H1359.8ZM1385.3 831.7H1391.7V838.5H1385.3ZM1410.8 831.7H1436.4V838.5H1410.8ZM1461.9 831.7H1500.2V838.5H1461.9ZM1512.9 831.7H1532.1V838.5H1512.9ZM1002.5 838.5H1008.9V845.3H1002.5ZM1257.7 838.5H1264.1V845.3H1257.7ZM1334.3 838.5H1340.7V845.3H1334.3ZM1347.0 838.5H1353.4V845.3H1347.0ZM1372.6 838.5H1379.0V845.3H1372.6ZM1417.2 838.5H1449.1V845.3H1417.2ZM1455.5 838.5H1481.0V845.3H1455.5ZM1487.4 838.5H1493.8V845.3H1487.4ZM1506.5 838.5H1532.1V845.3H1506.5ZM1040.8 845.3H1047.2V852.1H1040.8ZM1283.2 845.3H1289.6V852.1H1283.2ZM1315.2 838.5H1321.5V852.1H1315.2ZM1391.7 845.3H1398.1V852.1H1391.7ZM1430.0 845.3H1436.4V852.1H1430.0ZM1442.8 845.3H1481.0V852.1H1442.8ZM1506.5 845.3H1519.3V852.1H1506.5ZM1525.7 845.3H1532.1V852.1H1525.7ZM1538.5 845.3H1544.8V852.1H1538.5ZM996.1 845.3H1008.9V858.9H996.1ZM1302.4 838.5H1308.8V858.9H1302.4ZM1404.5 845.3H1417.2V858.9H1404.5ZM1423.6 852.1H1430.0V858.9H1423.6ZM1442.8 852.1H1449.1V858.9H1442.8ZM1455.5 852.1H1468.3V858.9H1455.5ZM1474.7 852.1H1481.0V858.9H1474.7ZM1500.2 852.1H1506.5V858.9H1500.2ZM1008.9 858.9H1015.3V865.6H1008.9ZM1353.4 858.9H1359.8V865.6H1353.4ZM1379.0 858.9H1385.3V865.6H1379.0ZM1404.5 858.9H1423.6V865.6H1404.5ZM1430.0 858.9H1436.4V865.6H1430.0ZM1449.1 858.9H1481.0V865.6H1449.1ZM1487.4 858.9H1500.2V865.6H1487.4ZM1512.9 858.9H1532.1V865.6H1512.9ZM1008.9 865.6H1021.7V872.4H1008.9ZM1347.0 865.6H1353.4V872.4H1347.0ZM1398.1 865.6H1423.6V872.4H1398.1ZM1430.0 865.6H1442.8V872.4H1430.0ZM1455.5 865.6H1461.9V872.4H1455.5ZM1468.3 865.6H1481.0V872.4H1468.3ZM1506.5 865.6H1532.1V872.4H1506.5ZM996.1 872.4H1002.5V879.2H996.1ZM1066.3 872.4H1072.7V879.2H1066.3ZM1327.9 872.4H1334.3V879.2H1327.9ZM1404.5 872.4H1417.2V879.2H1404.5ZM1506.5 872.4H1512.9V879.2H1506.5ZM977.0 879.2H983.4V886.0H977.0ZM1034.4 879.2H1040.8V886.0H1034.4ZM1085.5 872.4H1098.2V886.0H1085.5ZM1391.7 879.2H1398.1V886.0H1391.7ZM1404.5 879.2H1410.8V886.0H1404.5ZM1417.2 879.2H1423.6V886.0H1417.2ZM1442.8 879.2H1449.1V886.0H1442.8ZM1468.3 872.4H1474.7V886.0H1468.3ZM1506.5 879.2H1519.3V886.0H1506.5ZM1047.2 886.0H1059.9V892.8H1047.2ZM1091.8 886.0H1098.2V892.8H1091.8ZM1340.7 886.0H1347.0V892.8H1340.7ZM1372.6 886.0H1379.0V892.8H1372.6ZM1410.8 886.0H1417.2V892.8H1410.8ZM1436.4 886.0H1442.8V892.8H1436.4ZM1455.5 886.0H1481.0V892.8H1455.5ZM996.1 892.8H1002.5V899.6H996.1ZM1008.9 892.8H1015.3V899.6H1008.9ZM1040.8 892.8H1059.9V899.6H1040.8ZM1098.2 892.8H1104.6V899.6H1098.2ZM1283.2 892.8H1289.6V899.6H1283.2ZM1423.6 886.0H1430.0V899.6H1423.6ZM1442.8 892.8H1449.1V899.6H1442.8ZM1455.5 892.8H1461.9V899.6H1455.5ZM1213.1 899.6H1219.4V906.4H1213.1ZM1391.7 899.6H1398.1V906.4H1391.7ZM1410.8 899.6H1417.2V906.4H1410.8ZM1430.0 899.6H1436.4V906.4H1430.0ZM1455.5 899.6H1468.3V906.4H1455.5ZM970.6 906.4H977.0V913.2H970.6ZM1072.7 906.4H1079.1V913.2H1072.7ZM1315.2 906.4H1321.5V913.2H1315.2ZM1340.7 906.4H1347.0V913.2H1340.7ZM1398.1 906.4H1417.2V913.2H1398.1ZM1430.0 906.4H1468.3V913.2H1430.0ZM1047.2 913.2H1066.3V920.0H1047.2ZM1200.3 913.2H1213.1V920.0H1200.3ZM1347.0 913.2H1353.4V920.0H1347.0ZM1385.3 913.2H1417.2V920.0H1385.3ZM1423.6 913.2H1449.1V920.0H1423.6ZM1455.5 913.2H1461.9V920.0H1455.5ZM1506.5 913.2H1512.9V920.0H1506.5ZM1047.2 920.0H1059.9V926.8H1047.2ZM1079.1 920.0H1085.5V926.8H1079.1ZM1206.7 920.0H1213.1V926.8H1206.7ZM1379.0 920.0H1385.3V926.8H1379.0ZM1391.7 920.0H1398.1V926.8H1391.7ZM1410.8 920.0H1430.0V926.8H1410.8ZM1008.9 926.8H1015.3V933.6H1008.9ZM1072.7 926.8H1079.1V933.6H1072.7ZM1251.3 926.8H1257.7V933.6H1251.3ZM1379.0 926.8H1398.1V933.6H1379.0ZM1404.5 926.8H1417.2V933.6H1404.5ZM1468.3 926.8H1481.0V933.6H1468.3ZM1034.4 933.6H1040.8V940.4H1034.4ZM1053.6 933.6H1059.9V940.4H1053.6ZM1213.1 926.8H1225.8V940.4H1213.1ZM1379.0 933.6H1417.2V940.4H1379.0ZM1423.6 933.6H1430.0V940.4H1423.6ZM1455.5 933.6H1461.9V940.4H1455.5ZM1474.7 933.6H1481.0V940.4H1474.7ZM1500.2 933.6H1506.5V940.4H1500.2ZM1059.9 940.4H1072.7V947.1H1059.9ZM1193.9 940.4H1200.3V947.1H1193.9ZM1206.7 940.4H1213.1V947.1H1206.7ZM1219.4 940.4H1225.8V947.1H1219.4ZM1232.2 940.4H1251.3V947.1H1232.2ZM1379.0 940.4H1430.0V947.1H1379.0ZM1455.5 940.4H1493.8V947.1H1455.5ZM747.3 947.1H753.7V953.9H747.3ZM1053.6 947.1H1072.7V953.9H1053.6ZM1200.3 947.1H1251.3V953.9H1200.3ZM1257.7 947.1H1264.1V953.9H1257.7ZM1379.0 947.1H1423.6V953.9H1379.0ZM1449.1 947.1H1493.8V953.9H1449.1ZM1047.2 953.9H1053.6V960.7H1047.2ZM1187.5 953.9H1200.3V960.7H1187.5ZM1206.7 953.9H1232.2V960.7H1206.7ZM1238.6 953.9H1245.0V960.7H1238.6ZM1385.3 953.9H1391.7V960.7H1385.3ZM1398.1 953.9H1430.0V960.7H1398.1ZM1449.1 953.9H1455.5V960.7H1449.1ZM1461.9 953.9H1487.4V960.7H1461.9ZM772.9 960.7H779.2V967.5H772.9ZM1008.9 960.7H1015.3V967.5H1008.9ZM1040.8 960.7H1072.7V967.5H1040.8ZM1168.4 960.7H1174.8V967.5H1168.4ZM1181.2 960.7H1187.5V967.5H1181.2ZM1193.9 960.7H1245.0V967.5H1193.9ZM1251.3 960.7H1257.7V967.5H1251.3ZM1315.2 960.7H1321.5V967.5H1315.2ZM1379.0 960.7H1385.3V967.5H1379.0ZM1391.7 960.7H1398.1V967.5H1391.7ZM1404.5 960.7H1417.2V967.5H1404.5ZM1423.6 960.7H1436.4V967.5H1423.6ZM1449.1 960.7H1461.9V967.5H1449.1ZM1468.3 960.7H1493.8V967.5H1468.3ZM1021.7 967.5H1028.0V974.3H1021.7ZM1047.2 967.5H1053.6V974.3H1047.2ZM1200.3 967.5H1238.6V974.3H1200.3ZM1366.2 967.5H1372.6V974.3H1366.2ZM1385.3 967.5H1430.0V974.3H1385.3ZM1436.4 967.5H1442.8V974.3H1436.4ZM1455.5 967.5H1481.0V974.3H1455.5ZM1487.4 967.5H1493.8V974.3H1487.4ZM970.6 974.3H977.0V981.1H970.6ZM1066.3 974.3H1072.7V981.1H1066.3ZM1200.3 974.3H1219.4V981.1H1200.3ZM1225.8 974.3H1238.6V981.1H1225.8ZM1430.0 974.3H1436.4V981.1H1430.0ZM1455.5 974.3H1474.7V981.1H1455.5ZM1481.0 974.3H1493.8V981.1H1481.0ZM1155.7 981.1H1162.0V987.9H1155.7ZM1391.7 974.3H1423.6V987.9H1391.7ZM1072.7 987.9H1079.1V994.7H1072.7ZM1149.3 987.9H1155.7V994.7H1149.3ZM1162.0 987.9H1168.4V994.7H1162.0ZM1213.1 981.1H1219.4V994.7H1213.1ZM1296.0 987.9H1308.8V994.7H1296.0ZM1334.3 987.9H1340.7V994.7H1334.3ZM1347.0 987.9H1353.4V994.7H1347.0ZM1359.8 987.9H1366.2V994.7H1359.8ZM1391.7 987.9H1398.1V994.7H1391.7ZM1404.5 987.9H1417.2V994.7H1404.5ZM1423.6 987.9H1430.0V994.7H1423.6ZM1461.9 987.9H1468.3V994.7H1461.9ZM1079.1 994.7H1091.8V1001.5H1079.1ZM1149.3 994.7H1193.9V1001.5H1149.3ZM1200.3 994.7H1206.7V1001.5H1200.3ZM1289.6 994.7H1296.0V1001.5H1289.6ZM1391.7 994.7H1417.2V1001.5H1391.7ZM1449.1 994.7H1461.9V1001.5H1449.1ZM779.2 1001.5H785.6V1008.3H779.2ZM1072.7 1001.5H1079.1V1008.3H1072.7ZM1091.8 1001.5H1098.2V1008.3H1091.8ZM1149.3 1001.5H1187.5V1008.3H1149.3ZM1385.3 1001.5H1417.2V1008.3H1385.3ZM1455.5 1001.5H1461.9V1008.3H1455.5ZM811.1 1008.3H817.5V1015.1H811.1ZM1142.9 1008.3H1162.0V1015.1H1142.9ZM1168.4 1008.3H1200.3V1015.1H1168.4ZM1391.7 1008.3H1410.8V1015.1H1391.7ZM1423.6 1008.3H1430.0V1015.1H1423.6ZM1442.8 1008.3H1468.3V1015.1H1442.8ZM1474.7 1008.3H1481.0V1015.1H1474.7ZM1181.2 1015.1H1200.3V1021.9H1181.2ZM1410.8 1015.1H1423.6V1021.9H1410.8ZM1455.5 1015.1H1481.0V1021.9H1455.5ZM1174.8 1021.9H1181.2V1028.6H1174.8ZM1187.5 1021.9H1200.3V1028.6H1187.5ZM1302.4 1021.9H1327.9V1028.6H1302.4ZM1436.4 1021.9H1442.8V1028.6H1436.4ZM1461.9 1021.9H1468.3V1028.6H1461.9ZM926.0 1028.6H932.4V1035.4H926.0ZM1181.2 1028.6H1200.3V1035.4H1181.2ZM1264.1 1028.6H1276.9V1035.4H1264.1ZM1283.2 1021.9H1289.6V1035.4H1283.2ZM1302.4 1028.6H1315.2V1035.4H1302.4ZM1391.7 1021.9H1410.8V1035.4H1391.7ZM1455.5 1028.6H1468.3V1035.4H1455.5ZM919.6 1035.4H926.0V1042.2H919.6ZM1149.3 1035.4H1187.5V1042.2H1149.3ZM1200.3 1035.4H1213.1V1042.2H1200.3ZM1359.8 1035.4H1366.2V1042.2H1359.8ZM1149.3 1042.2H1155.7V1049.0H1149.3ZM1162.0 1042.2H1187.5V1049.0H1162.0ZM1193.9 1042.2H1200.3V1049.0H1193.9ZM1289.6 1035.4H1296.0V1049.0H1289.6ZM1372.6 1042.2H1379.0V1049.0H1372.6ZM1410.8 1042.2H1417.2V1049.0H1410.8ZM760.1 1049.0H766.5V1055.8H760.1ZM906.8 1049.0H926.0V1055.8H906.8ZM1066.3 1049.0H1072.7V1055.8H1066.3ZM1149.3 1049.0H1181.2V1055.8H1149.3ZM1187.5 1049.0H1200.3V1055.8H1187.5ZM1213.1 1042.2H1219.4V1055.8H1213.1ZM1225.8 1049.0H1232.2V1055.8H1225.8ZM1276.9 1035.4H1283.2V1055.8H1276.9ZM1366.2 1049.0H1385.3V1055.8H1366.2ZM1391.7 1049.0H1398.1V1055.8H1391.7ZM753.7 1055.8H760.1V1062.6H753.7ZM881.3 1055.8H887.7V1062.6H881.3ZM900.5 1055.8H919.6V1062.6H900.5ZM1123.8 1055.8H1130.1V1062.6H1123.8ZM1162.0 1055.8H1193.9V1062.6H1162.0ZM1206.7 1055.8H1213.1V1062.6H1206.7ZM1219.4 1055.8H1225.8V1062.6H1219.4ZM1238.6 1055.8H1245.0V1062.6H1238.6ZM1283.2 1055.8H1289.6V1062.6H1283.2ZM1302.4 1055.8H1315.2V1062.6H1302.4ZM1366.2 1055.8H1372.6V1062.6H1366.2ZM1385.3 1055.8H1391.7V1062.6H1385.3ZM894.1 1062.6H919.6V1069.4H894.1ZM932.4 1062.6H938.7V1069.4H932.4ZM945.1 1062.6H951.5V1069.4H945.1ZM1136.5 1062.6H1200.3V1069.4H1136.5ZM1213.1 1062.6H1238.6V1069.4H1213.1ZM1245.0 1062.6H1251.3V1069.4H1245.0ZM1296.0 1062.6H1302.4V1069.4H1296.0ZM1372.6 1062.6H1379.0V1069.4H1372.6ZM887.7 1069.4H919.6V1076.2H887.7ZM1059.9 1062.6H1072.7V1076.2H1059.9ZM1079.1 1069.4H1085.5V1076.2H1079.1ZM1136.5 1069.4H1206.7V1076.2H1136.5ZM1219.4 1069.4H1251.3V1076.2H1219.4ZM1276.9 1069.4H1289.6V1076.2H1276.9ZM1315.2 1069.4H1321.5V1076.2H1315.2ZM1366.2 1069.4H1379.0V1076.2H1366.2ZM887.7 1076.2H900.5V1083.0H887.7ZM906.8 1076.2H919.6V1083.0H906.8ZM1059.9 1076.2H1066.3V1083.0H1059.9ZM1123.8 1076.2H1130.1V1083.0H1123.8ZM1136.5 1076.2H1251.3V1083.0H1136.5ZM1270.5 1076.2H1276.9V1083.0H1270.5ZM1321.5 1076.2H1327.9V1083.0H1321.5ZM868.5 1083.0H874.9V1089.8H868.5ZM894.1 1083.0H919.6V1089.8H894.1ZM1149.3 1083.0H1162.0V1089.8H1149.3ZM1168.4 1083.0H1251.3V1089.8H1168.4ZM1264.1 1083.0H1270.5V1089.8H1264.1ZM1289.6 1076.2H1315.2V1089.8H1289.6ZM830.3 1089.8H836.6V1096.6H830.3ZM900.5 1089.8H906.8V1096.6H900.5ZM1123.8 1089.8H1130.1V1096.6H1123.8ZM1136.5 1083.0H1142.9V1096.6H1136.5ZM1149.3 1089.8H1232.2V1096.6H1149.3ZM1245.0 1089.8H1257.7V1096.6H1245.0ZM1283.2 1089.8H1289.6V1096.6H1283.2ZM1296.0 1089.8H1302.4V1096.6H1296.0ZM868.5 1089.8H894.1V1103.4H868.5ZM1149.3 1096.6H1162.0V1103.4H1149.3ZM1168.4 1096.6H1174.8V1103.4H1168.4ZM1181.2 1096.6H1193.9V1103.4H1181.2ZM1200.3 1096.6H1219.4V1103.4H1200.3ZM1238.6 1096.6H1264.1V1103.4H1238.6ZM1162.0 1103.4H1168.4V1110.1H1162.0ZM1174.8 1103.4H1225.8V1110.1H1174.8ZM1238.6 1103.4H1245.0V1110.1H1238.6ZM868.5 1103.4H881.3V1116.9H868.5ZM887.7 1110.1H894.1V1116.9H887.7ZM1174.8 1110.1H1213.1V1116.9H1174.8ZM1251.3 1103.4H1264.1V1116.9H1251.3ZM1238.6 1116.9H1270.5V1123.7H1238.6ZM811.1 1116.9H817.5V1130.5H811.1ZM881.3 1123.7H887.7V1130.5H881.3ZM1181.2 1123.7H1187.5V1130.5H1181.2ZM1232.2 1123.7H1257.7V1130.5H1232.2ZM817.5 1130.5H823.9V1137.3H817.5ZM1155.7 1130.5H1162.0V1137.3H1155.7ZM1238.6 1130.5H1245.0V1137.3H1238.6ZM1251.3 1130.5H1264.1V1137.3H1251.3ZM823.9 1137.3H830.3V1144.1H823.9ZM874.9 1137.3H881.3V1144.1H874.9ZM1232.2 1137.3H1238.6V1144.1H1232.2ZM1245.0 1137.3H1257.7V1144.1H1245.0ZM1264.1 1137.3H1270.5V1144.1H1264.1ZM836.6 1171.3H843.0V1178.1H836.6ZM817.5 1184.9H823.9V1191.6H817.5ZM836.6 1184.9H843.0V1191.6H836.6ZM817.5 1191.6H830.3V1205.2H817.5ZM817.5 1205.2H836.6V1212.0H817.5ZM811.1 1266.4H817.5V1273.1H811.1ZM830.3 1578.8H836.6V1585.6H830.3ZM817.5 1585.6H830.3V1592.4H817.5ZM881.3 1592.4H894.1V1599.1H881.3ZM753.7 1639.9H760.1V1646.7H753.7ZM728.2 1687.4H734.6V1694.2H728.2ZM721.8 1701.0H728.2V1707.8H721.8ZM741.0 1694.2H747.3V1707.8H741.0ZM785.6 1701.0H792.0V1707.8H785.6ZM734.6 1714.6H741.0V1721.4H734.6ZM785.6 1721.4H792.0V1728.2H785.6ZM741.0 1735.0H747.3V1741.8H741.0ZM747.3 1741.8H753.7V1748.6H747.3ZM728.2 1755.4H734.6V1762.1H728.2ZM811.1 1762.1H817.5V1768.9H811.1ZM753.7 1789.3H760.1V1796.1H753.7ZM798.4 1796.1H804.8V1802.9H798.4ZM753.7 1823.3H760.1V1830.1H753.7ZM760.1 1843.6H766.5V1850.4H760.1Z" fill="#a50026"/>
</g>
<path d="M1012.0 244.2L1028.5 251.1L1043.6 259.4L1049.1 274.5L1043.6 291.0L1041.6 304.7L1046.4 313.0L1054.6 315.7M1083.5 277.2L1080.7 293.7L1072.5 302.0L1067.0 310.2L1062.9 321.2L1061.5 329.5L1069.7 341.8L1078.0 348.7L1083.5 359.7L1089.0 372.1L1094.5 384.4L1100.0 387.2M1149.5 278.6L1146.7 293.7L1144.0 307.5L1141.2 321.2L1135.7 329.5L1131.6 330.8L1130.2 321.2L1128.8 307.5L1126.1 300.6L1115.1 299.2L1113.7 280.0M1054.6 315.7L1051.9 325.3L1057.4 341.8L1062.9 355.6L1065.6 362.5L1060.1 376.2L1056.0 389.9L1050.5 400.9L1039.5 406.4M1039.5 406.4L1040.9 440.9M1056.0 395.4L1067.0 392.7L1078.0 387.2L1089.0 385.8L1100.0 387.2L1113.7 388.6L1116.5 384.4L1111.0 376.2L1113.7 372.1L1126.1 373.5L1141.2 369.3L1146.7 376.2L1152.2 376.2M1146.7 376.2L1144.0 384.4L1149.5 392.7L1163.2 396.8L1177.0 406.4L1185.2 417.4L1189.3 431.2L1192.1 440.9M1012.0 321.2L1023.0 318.5L1025.7 325.3L1039.5 330.8L1047.7 324.0L1051.9 325.3M1012.0 376.2L1017.5 384.4L1020.2 392.7L1029.9 400.9L1039.5 406.4M1069.7 302.0L1083.5 296.5L1100.0 293.7L1115.1 293.7L1130.2 291.0L1144.0 291.0L1157.7 293.7M1309.2 451.5L1305.0 461.4L1301.7 473.0L1288.5 486.2L1276.9 502.8L1273.6 512.7M1366.2 469.7L1361.3 489.5L1354.6 511.0L1346.4 529.2L1339.8 545.8L1329.8 560.6L1316.6 568.9L1298.4 585.4M1298.4 585.4L1310.0 582.1L1321.6 585.4L1331.5 595.4L1333.1 608.6L1329.8 625.1L1324.9 635.1L1333.1 646.6L1343.1 658.2L1356.3 658.2L1356.3 671.4L1346.4 678.1L1341.4 688.0L1353.0 701.2L1356.3 712.9M1298.4 585.4L1313.3 593.7L1306.7 610.2L1286.8 626.8L1281.9 645.0L1286.8 658.2L1276.9 676.4L1267.0 688.0M1475.4 519.3L1465.4 532.5L1448.9 542.4L1445.6 557.3L1450.6 578.8L1442.3 598.7L1448.9 613.6L1445.6 621.8L1422.4 623.5L1405.9 635.1L1386.1 646.6L1379.5 659.9L1372.8 681.4L1369.5 701.2L1372.8 712.9M1486.9 520.9L1485.3 532.5L1493.6 554.0L1491.9 568.9L1498.5 593.7L1503.5 618.5L1511.7 626.8L1505.1 641.7L1508.4 654.9L1498.5 668.1L1488.6 678.1L1473.7 689.6L1457.2 696.2L1432.4 692.9L1424.1 697.9L1427.4 712.9M1505.1 641.7L1522.0 640.0M1488.6 678.1L1501.8 684.7L1508.4 697.9L1522.0 691.3M1590.2 571.1L1578.8 579.6L1570.3 596.6L1559.0 606.6L1554.7 627.9L1559.0 639.3L1556.1 647.8M1522.0 640.7L1536.2 645.0L1547.6 653.5L1570.3 647.8L1590.2 639.3L1598.7 642.1L1590.2 656.3L1598.7 664.9L1613.0 656.3L1632.9 645.0L1647.1 640.7M1559.0 608.0L1570.3 613.7L1581.7 608.0L1593.1 603.7L1587.4 618.0L1601.6 623.6L1607.3 627.9L1613.0 613.7L1627.2 615.1L1647.1 616.5M1522.0 677.7L1536.2 670.5L1550.4 679.1L1564.6 684.8L1578.8 680.5L1598.7 694.7L1613.0 690.4L1627.2 681.9L1644.2 680.5M1564.6 684.8L1570.3 699.0L1590.2 708.9L1607.3 721.7L1613.0 724.6M1570.3 699.0L1578.8 713.2L1578.8 727.4L1566.1 734.5L1574.6 748.7L1584.5 750.1L1590.2 741.6M1039.6 441.0L1041.0 449.3L1046.5 458.9L1056.2 468.6L1070.0 479.6L1083.8 486.5L1094.8 494.8L1100.3 500.3L1107.2 500.3L1100.3 518.3L1089.3 545.9L1078.2 573.5L1064.4 603.8L1050.6 620.4M1050.6 620.4L1050.6 625.9L1058.9 635.6L1056.2 648.0L1052.0 656.3L1054.8 664.5L1050.6 675.6L1047.9 679.7L1012.0 679.7M1058.9 635.6L1064.4 648.0L1070.0 661.8L1072.7 672.8L1074.1 678.3L1086.5 688.0L1094.8 694.9L1260.4 708.7L1264.5 697.7L1267.0 690.8M1190.0 441.0L1195.5 446.5L1202.4 452.0L1207.9 464.5L1219.0 470.0L1227.3 464.5L1235.5 454.8L1246.6 446.5L1254.9 441.0M1198.3 482.4L1212.1 478.3L1227.3 472.7L1238.3 465.8L1246.6 467.2L1249.3 479.6L1245.2 492.1L1257.6 496.2L1260.4 482.4L1267.0 486.5M757.0 449.3L765.3 454.8L770.8 468.6L772.2 475.5L765.3 510.0L759.8 555.5L757.0 565.2M946.0 441.0L952.9 452.0L947.4 460.3L955.7 467.2L964.0 476.9L970.9 476.9L972.3 458.9L983.3 453.4L991.6 461.7L999.9 461.7L1005.4 449.3L1008.1 441.0M757.0 667.3L837.0 705.9L848.1 696.3L861.9 696.3L867.4 699.0L875.7 696.3L881.2 692.1L888.1 686.6L895.0 683.9L906.0 681.1L908.8 670.1L915.7 664.5L921.2 657.6L940.5 657.6L947.4 664.5L952.9 670.1L957.1 678.3L962.6 681.1L969.5 677.0L1012.0 678.3M969.5 677.0L975.0 683.9L969.5 696.3L972.3 703.2L972.3 712.7M837.0 705.9L853.6 704.6L870.1 703.2L877.0 707.3L875.7 712.7M557.0 522.6L584.8 511.1L597.8 498.1L610.9 483.4L619.0 465.5L622.3 450.8L614.1 441.0M557.0 522.6L542.3 535.6L529.3 534.0L516.2 537.2L504.8 532.3L498.3 522.6M630.4 441.0L643.5 454.0L648.4 462.2L661.4 472.0L669.6 485.0L677.7 498.1L689.1 504.6L705.5 499.7L718.5 498.1L731.6 499.7L744.6 506.2L752.8 512.8L743.0 532.3L738.1 542.1L751.1 547.0L757.0 551.9M757.0 553.5L728.3 555.2L708.7 565.0L687.5 576.4L679.4 587.8L676.1 604.1L672.8 617.2L661.4 628.6L658.2 636.7L757.0 664.5M557.0 522.6L565.2 547.0L558.7 571.5L561.9 591.1L571.7 609.0L565.2 620.4L557.0 620.4L555.4 633.5L563.5 649.8L571.7 669.4L581.5 672.6L594.5 669.4L604.3 674.3M561.9 591.1L578.2 597.6L591.3 604.1L604.3 602.5L617.4 612.3L612.5 628.6L601.1 625.3L599.4 641.6L607.6 657.9L604.3 674.3L607.6 685.7L614.1 695.5L630.4 677.5L640.2 674.3L636.9 688.9L640.2 702.0L643.5 712.7M604.3 674.3L617.4 664.5L633.7 653.0L640.2 640.0L658.2 636.7M658.2 636.7L663.0 653.0L671.2 669.4L679.4 685.7L676.1 695.5L692.4 698.7L702.2 711.8M542.3 535.6L534.2 555.2L537.4 571.5L532.6 596.0L542.3 610.6L552.1 625.3L555.4 633.5M519.5 654.7L526.0 648.2L542.3 646.5L555.4 633.5M539.1 677.5L548.9 661.2L561.9 657.9L568.4 669.4L581.5 672.6M568.4 669.4L575.0 682.4L584.8 690.6L578.2 705.2L575.0 712.7M516.2 441.0L519.5 457.3L516.2 473.6L521.1 489.9L513.0 506.2L506.5 519.3M521.1 473.6L542.3 475.3L548.9 481.8L565.2 496.5L579.9 507.9M548.9 441.0L545.6 457.3L542.3 475.3M542.3 475.3L539.1 494.8L539.1 511.1L529.3 534.0M490.1 458.9L499.9 473.6L496.7 489.9L504.8 494.8L516.2 473.6M579.3 713.0L582.0 721.3L584.8 730.9L590.3 744.7L598.6 755.8L609.6 765.4L615.1 773.7L616.5 780.6L608.2 795.8L598.6 802.7M594.5 737.8L606.9 735.1L626.2 729.6L640.0 737.8L653.8 739.2L662.1 732.3L667.6 740.6L667.6 753.0L662.1 758.5L664.8 768.2L656.5 773.7L648.3 772.3L640.0 768.2L633.1 765.4L626.2 766.8L623.4 773.7L616.5 780.6M667.6 744.7L680.0 746.1L692.4 748.9L700.7 740.6L717.3 733.7L733.8 728.2L736.6 717.1L738.0 713.0M700.7 740.6L695.2 757.2L700.7 768.2L707.6 782.0L717.3 787.5L731.1 793.0L742.1 795.8L750.4 794.4L757.0 797.2M747.6 798.6L742.1 809.6L735.2 817.9L731.1 830.3L728.3 839.9L732.4 851.0L733.8 864.8L735.2 878.6L731.1 885.5L722.8 891.0L720.0 897.9L724.2 906.2L721.4 921.4M656.5 773.7L662.1 786.1L669.0 798.6L681.4 804.1L695.2 809.6L703.5 817.9L702.1 828.9L695.2 834.4L681.4 837.2L675.9 842.7L664.8 841.3L667.6 831.7L662.1 816.5L657.9 802.7L662.1 798.6M640.0 768.2L645.5 779.2L645.5 793.0L634.5 801.3L630.3 806.8L634.5 817.9L628.9 823.4L623.4 826.1L615.1 817.9L611.0 806.8L608.2 795.8M623.4 826.1L634.5 837.2L637.2 848.2L645.5 856.5L653.8 863.4L667.6 856.5L677.2 852.4L680.0 842.7M637.2 848.2L628.9 853.7L626.2 859.3M681.4 837.2L695.2 839.9L706.2 838.6L711.7 845.5L722.8 849.6L731.1 856.5L733.8 864.8M736.6 874.4L744.9 878.6L750.4 886.9L757.0 895.1M757.0 897.9L747.6 899.3L740.7 913.1L729.7 925.5M739.3 713.0L740.7 735.1L749.0 739.2L757.0 736.5M757.0 736.5L769.4 737.8L787.4 742.0L798.4 736.5L803.9 730.9L815.0 728.2L823.2 721.3L837.0 714.4L839.8 713.0M769.4 737.8L788.7 777.9L783.2 790.3L781.8 802.7L779.1 812.4L786.0 823.4L777.7 833.0L772.2 844.1L777.7 853.7L770.8 864.8L774.9 875.8L786.0 884.1L781.8 891.0L770.8 902.0L761.1 908.9L757.0 907.6M757.0 798.6L766.7 802.7L783.2 794.4M788.7 777.9L798.4 768.2L808.1 764.1L820.5 771.0L834.3 776.5L835.7 765.4L839.8 754.4L852.2 746.1L856.4 735.1L867.4 725.4L875.7 718.5L877.0 713.0M871.5 726.8L874.3 740.6L878.4 753.0L885.3 764.1L895.0 773.7L903.3 779.2L915.7 777.9L926.7 782.0L933.6 787.5L944.7 793.0L955.7 797.2L964.0 806.8L969.5 808.2M969.5 808.2L910.2 839.9L910.2 851.0L915.7 859.3L922.6 867.5L928.1 873.1L892.2 871.7L879.8 873.1L875.7 882.7L861.9 888.2L853.6 880.0L842.6 868.9L834.3 862.0L826.0 849.6L820.5 839.9L817.7 828.9L820.5 812.4L826.0 798.6L834.3 787.5L834.3 776.5M969.5 808.2L986.1 806.8L997.1 813.7L1002.6 822.0L998.5 830.3L1004.0 839.9L1004.0 851.0L997.1 851.0L1005.4 859.3L1006.8 878.6L1012.0 884.1M970.9 713.0L975.0 724.0L973.6 737.8L999.9 739.2L1012.0 743.4M991.6 809.6L1005.4 798.6L1012.0 790.3M834.3 868.9L837.0 885.5L831.5 902.0L835.7 914.5L842.6 929.6L841.2 942.1L852.2 947.6L857.7 960.0L839.8 969.7L815.0 980.7L792.9 971.0M892.2 871.7L893.6 882.7L888.1 892.4L893.6 902.0L903.3 913.1L890.8 926.9L897.7 940.7L907.4 958.6L915.7 961.4L917.1 984.7M842.6 929.6L856.4 925.5L867.4 936.5L878.4 944.8L889.5 942.1L900.5 947.6M867.4 939.3L867.4 950.3L872.9 961.4L885.3 966.9L889.5 975.2L883.9 984.7M757.0 908.9L766.7 911.7L772.2 924.1L779.1 928.3L792.9 921.4L805.3 921.4L812.2 926.9L816.3 918.6L828.8 913.1L835.7 914.5M774.9 928.3L780.5 944.8L784.6 955.9L795.6 966.9L792.9 971.0L788.7 976.6L795.6 984.7M757.0 955.9L770.8 958.6L784.6 955.9M964.0 984.7L968.1 973.8L991.6 966.9L1012.0 961.4M1012.0 881.3L1052.0 882.7L1054.8 885.5L1050.6 892.4L1050.6 906.2L1058.9 911.7L1067.2 917.2L1071.3 925.5L1076.9 935.2L1067.2 961.4L1057.5 984.7M1071.3 925.5L1083.8 921.4L1092.0 911.7L1108.6 907.6L1121.0 911.7L1133.4 920.0L1147.2 915.8L1155.5 920.0L1163.8 915.8L1172.1 908.9L1173.4 913.1L1165.2 926.9L1170.7 931.0L1185.9 931.0L1188.6 926.9L1184.5 917.2L1185.9 906.2L1190.0 896.5L1198.3 889.6L1199.7 882.7L1207.9 874.4L1219.0 866.2L1223.1 856.5L1230.0 848.2L1238.3 845.5L1243.8 834.4L1243.8 816.5L1250.7 801.3L1256.2 790.3L1252.1 780.6L1248.0 754.4L1252.1 733.7L1257.6 713.0M1188.6 928.3L1190.0 939.3L1194.1 946.2L1209.3 950.3L1221.7 960.0L1232.8 965.5L1242.4 968.3L1239.7 979.3L1241.1 984.7M1242.4 968.3L1250.7 960.0L1260.4 953.1L1267.0 950.3M1256.2 790.3L1260.4 780.6L1267.0 779.2M1257.6 790.3L1267.0 795.8M1012.0 964.1L1035.5 964.1L1057.5 976.6L1067.2 984.7M1267.0 794.4L1282.2 799.9L1291.8 783.4L1298.7 802.7L1313.9 795.8L1326.3 802.7L1344.3 795.8L1363.6 790.3M1363.6 790.3L1367.7 801.3L1362.2 809.6L1366.4 820.6L1371.9 831.7L1369.1 842.7L1369.1 853.7M1363.6 790.3L1366.4 777.9L1360.8 768.2L1367.7 755.8L1355.3 747.5L1360.8 733.7L1377.4 722.7L1376.0 713.0M1377.4 722.7L1385.7 732.3L1396.7 736.5L1413.3 729.6L1424.3 721.3L1428.4 713.0M1369.1 853.7L1385.7 839.9L1399.5 830.3L1413.3 826.1L1425.7 830.3L1422.9 837.2L1432.6 842.7L1442.2 838.6L1453.3 845.5L1467.1 851.0L1476.7 851.0L1487.8 863.4L1494.7 867.5L1504.3 864.8L1515.4 868.9L1522.0 875.8M1369.1 853.7L1355.3 839.9L1347.0 849.6L1344.3 862.0L1347.0 870.3L1336.0 874.4M1312.5 862.0L1333.2 860.6L1336.0 874.4L1312.5 875.8L1311.2 868.9L1312.5 862.0M1336.0 874.4L1331.9 886.9L1338.8 892.4L1340.1 900.7L1330.5 911.7L1337.4 920.0L1336.0 931.0L1320.8 942.1L1294.6 937.9L1282.2 946.2L1267.0 944.8M1522.0 886.9L1509.9 903.4L1505.7 913.1L1514.0 924.1L1522.0 928.3M1522.0 925.5L1501.6 929.6L1494.7 939.3L1498.8 950.3L1490.5 951.7L1496.1 960.0L1498.8 968.3L1493.3 975.2L1487.8 984.7M787.6 985.0L794.1 1001.3L797.3 1012.7L803.9 1027.4L810.4 1047.0L813.7 1058.4L823.4 1060.0L833.2 1064.9L826.7 1086.1M753.3 1024.1L774.5 1019.3L794.1 1011.1M826.7 1086.1L810.4 1095.9L797.3 1105.7L792.4 1113.9L797.3 1123.6L794.1 1128.5L797.3 1141.6L792.4 1156.3L799.0 1169.3L787.6 1177.5L782.7 1193.8L771.2 1205.2L761.5 1216.6L759.8 1229.7L761.5 1256.7M794.1 1128.5L784.3 1130.2L771.2 1136.7L758.2 1138.3L738.6 1143.2M782.7 1193.8L794.1 1195.4L803.9 1205.2L816.9 1211.7L833.2 1210.1L844.6 1215.0L852.8 1226.4L862.6 1236.2L869.1 1246.0L872.4 1256.7M759.8 1216.6L771.2 1213.4L781.0 1224.8L782.7 1242.7L797.3 1246.0L807.1 1252.5L812.0 1256.7M833.2 1064.9L836.5 1050.2L852.8 1032.3L862.6 1038.8L875.6 1038.8L878.9 1048.6L883.8 1063.3L890.3 1076.3L900.1 1081.2L905.0 1078.0L901.7 1097.5L893.6 1107.3L883.8 1105.7L875.6 1099.2L865.9 1095.9L859.3 1086.1L856.1 1078.0L849.5 1074.7L849.5 1086.1L843.0 1099.2L826.7 1086.1M797.3 1014.4L807.1 1038.8L813.7 1058.4M900.1 1053.5L908.3 1038.8L940.9 1037.2L950.7 1050.2L952.3 1099.2L924.6 1135.1L968.6 1136.7L968.6 1200.3L957.2 1252.5M950.7 1050.2L967.0 1066.6L983.3 1082.9L991.4 1086.1L1012.0 1089.4M940.9 1037.2L947.4 1025.8L953.9 999.7L960.5 986.6L1012.0 1001.3M878.9 1011.1L890.3 1009.5L903.4 1012.7L906.6 1009.5L950.7 1009.5M875.6 985.0L877.3 1001.3L872.4 1017.6L875.6 1038.8M916.4 985.0L919.7 994.8L950.7 993.2L960.5 986.6M952.3 1099.2L967.0 1113.9L983.3 1120.4L999.6 1131.8L1012.0 1138.3M968.6 1200.3L1012.0 1200.3M924.6 1135.1L905.0 1135.1L898.5 1151.4L891.9 1169.3L882.2 1185.6L878.9 1197.0L882.2 1213.4L885.4 1239.5L908.3 1244.3L924.6 1246.0L957.2 1252.5M893.6 1107.3L887.1 1131.8L891.9 1148.1L875.6 1149.7L865.9 1153.0L852.8 1157.9L846.3 1148.1L839.8 1140.0L846.3 1131.8L844.6 1126.9L794.1 1125.3M852.8 1157.9L862.6 1167.7L852.8 1180.7L862.6 1190.5L869.1 1198.7L878.9 1197.0M883.8 1063.3L900.1 1053.5M1057.5 985.0L1063.1 998.8L1067.2 1012.6L1063.1 1026.4L1063.1 1040.2M1012.0 1038.8L1028.6 1040.2L1045.1 1041.6L1063.1 1043.0L1083.8 1044.3L1094.8 1045.7L1101.7 1040.2L1108.6 1044.3L1119.6 1047.1L1123.8 1059.5L1126.5 1073.3L1129.3 1089.9L1136.2 1092.6L1148.6 1087.1L1156.9 1094.0L1158.3 1102.3L1155.5 1109.2L1151.4 1123.0L1148.6 1134.0L1145.8 1150.6L1144.5 1158.9L1136.2 1168.5L1125.1 1176.8L1119.6 1185.1L1108.6 1186.5M1108.6 1186.5L1101.7 1189.2L1089.3 1185.1L1081.0 1185.1L1064.4 1180.9L1049.3 1179.6L1045.1 1180.9M1045.1 1180.9L1053.4 1168.5L1060.3 1150.6L1067.2 1140.9L1072.7 1131.3L1072.7 1123.0L1064.4 1117.5L1046.5 1109.2L1029.9 1102.3L1012.0 1092.6M1158.3 1102.3L1163.8 1081.6L1172.1 1065.0L1184.5 1054.0L1198.3 1043.0L1209.3 1030.5L1219.0 1012.6L1227.3 998.8L1238.3 989.1L1243.8 985.0M1195.5 1051.2L1212.1 1052.6L1227.3 1056.8L1243.8 1062.3L1257.6 1065.0L1267.0 1063.7M1151.4 1123.0L1155.5 1135.4L1163.8 1132.6L1169.3 1136.8L1172.1 1150.6L1184.5 1156.1L1205.2 1160.2L1219.0 1163.0L1231.4 1165.8L1235.5 1154.7L1249.3 1150.6L1254.9 1146.4L1267.0 1146.4M1172.1 1150.6L1170.7 1164.4L1172.1 1176.8M1125.1 1197.5L1136.2 1189.2L1144.5 1185.1L1161.0 1180.9L1172.1 1176.8L1188.6 1176.8L1205.2 1180.9L1219.0 1186.5L1232.8 1194.7L1243.8 1205.8L1252.1 1212.7L1267.0 1215.4M1108.6 1186.5L1116.9 1194.7L1121.0 1205.8L1122.4 1211.3L1114.1 1219.6L1100.3 1233.4L1089.3 1247.2L1078.2 1256.7M1121.0 1205.8L1125.1 1197.5M1012.0 1139.5L1025.8 1150.6L1039.6 1158.9L1052.0 1168.5M1045.1 1180.9L1039.6 1187.8L1041.0 1200.3L1034.1 1212.7L1035.5 1226.5L1025.8 1233.4L1020.3 1247.2L1018.9 1256.7M1012.0 1200.3L1039.6 1200.3M1072.7 1123.0L1083.8 1120.2L1100.3 1116.1L1111.4 1114.7L1122.4 1109.2L1130.7 1106.4M1130.7 1106.4L1129.3 1116.1L1136.2 1124.4L1141.7 1128.5M1081.0 1123.0L1089.3 1131.3L1094.8 1134.0L1100.3 1123.0M1094.8 1134.0L1097.6 1143.7L1094.8 1157.5L1100.3 1168.5L1097.6 1180.9L1100.3 1187.8M1097.6 1143.7L1111.4 1139.5L1126.5 1134.0L1133.4 1124.4M1100.3 1150.6L1114.1 1145.1L1126.5 1149.2L1133.4 1150.6L1144.5 1152.0M1072.7 1163.0L1083.8 1164.4L1094.8 1157.5M1100.3 1168.5L1111.4 1164.4L1122.4 1157.5L1133.4 1150.6M1081.0 1185.1L1083.8 1175.4L1078.2 1169.9L1072.7 1163.0L1070.0 1150.6L1076.9 1140.9L1081.0 1134.0M1012.0 1001.6L1017.5 1009.8L1020.3 1019.5L1014.8 1025.0L1012.0 1026.4M1283.5 985.0L1286.5 992.5L1295.5 991.0L1311.9 988.0L1335.9 986.5L1337.4 994.0L1340.4 1003.0L1338.9 1009.0L1343.4 1018.0L1350.9 1020.9L1356.9 1023.9L1352.4 1035.9L1355.4 1047.9L1359.9 1056.9L1362.9 1061.4L1371.9 1058.4L1380.8 1053.9L1392.8 1050.9L1401.8 1047.9L1404.8 1050.9L1415.3 1053.9L1415.3 1058.4L1407.8 1061.4L1401.8 1064.4L1398.8 1070.4L1400.3 1074.9M1401.8 1047.9L1416.8 1041.9L1431.8 1037.4L1446.7 1035.9L1461.7 1029.9L1464.7 1023.9L1469.2 1009.0L1475.2 1004.5L1476.7 994.0L1481.2 988.0L1491.7 986.5M1475.2 1004.5L1476.7 1013.5L1488.7 1016.5L1497.7 1015.0M1267.0 1062.9L1274.5 1068.9L1277.5 1080.9L1283.5 1092.8L1286.5 1101.8L1283.5 1107.8L1291.0 1110.8L1304.4 1112.3L1305.9 1118.3L1302.9 1121.3L1311.9 1124.3M1267.0 1146.8L1277.5 1152.8L1288.0 1148.3L1297.0 1146.8L1301.5 1149.8M752.9 1257.0L749.3 1267.6L742.3 1288.9L744.0 1301.2L751.1 1308.3L752.9 1317.2L758.2 1338.4L763.5 1349.0L760.0 1370.3L752.9 1380.9L747.6 1391.5L742.3 1398.6L745.8 1412.7L744.0 1423.4L752.9 1434.0L760.0 1444.6L774.1 1449.9L788.3 1457.0L802.4 1460.5L813.1 1464.1L811.3 1472.9L820.1 1480.0L830.7 1481.8L841.4 1488.8L859.1 1492.4L876.8 1494.1L894.5 1495.9L912.2 1503.0L924.5 1510.1M744.0 1423.4L729.9 1430.4L726.3 1441.1L724.6 1453.4L728.1 1467.6L733.4 1480.0L735.2 1487.1L721.0 1499.5L717.5 1511.8L713.9 1528.7M719.3 1310.1L731.6 1308.3L744.0 1310.1L752.9 1317.2M713.9 1349.0L728.1 1338.4L738.7 1336.6L752.9 1343.7L760.0 1345.5M706.9 1363.2L721.0 1365.0L731.6 1368.5L742.3 1361.4L752.9 1370.3M705.1 1386.2L721.0 1384.4L735.2 1388.0L747.6 1391.5M689.2 1418.0L703.3 1421.6L717.5 1426.9L731.6 1430.4L742.3 1423.4M682.1 1434.0L692.7 1444.6L703.3 1448.1L724.6 1446.4M669.7 1485.3L678.6 1464.1L689.2 1462.3L703.3 1471.1L713.9 1478.2L728.1 1472.9M675.0 1510.1L692.7 1517.1L706.9 1513.6L713.9 1511.8M873.2 1257.0L864.4 1281.8L862.6 1303.0M821.9 1306.6L841.4 1304.8L862.6 1303.0L876.8 1308.3L887.4 1318.9L882.1 1341.9L882.1 1418.0M821.9 1306.6L825.4 1327.8L829.0 1345.5L839.6 1366.7L839.6 1380.9L846.7 1395.0L843.1 1416.3M758.2 1317.2L777.7 1310.1L784.7 1317.2L798.9 1311.9L813.1 1315.4L821.9 1306.6M816.6 1257.0L827.2 1271.2L832.5 1292.4L841.4 1304.8M800.7 1418.0L882.1 1418.0M800.7 1418.0L800.7 1492.4L807.7 1499.5L775.9 1518.9L760.0 1528.7M882.1 1389.7L926.3 1389.7M926.3 1373.8L961.0 1373.8M926.3 1373.8L926.3 1528.7M938.7 1373.8L961.0 1341.9M1060.1 1257.0L1067.2 1271.2L1063.6 1285.3L1060.1 1295.9L1058.3 1310.1L1057.4 1324.2L1060.1 1334.9L1053.0 1340.2L1049.5 1352.6L1051.3 1363.2L1053.0 1370.3M1067.2 1272.9L1074.3 1265.8L1084.9 1260.5L1095.5 1260.5L1102.6 1267.6L1113.2 1278.2L1116.7 1283.5L1123.8 1278.2L1130.9 1287.1L1139.7 1292.4L1148.6 1297.7L1153.9 1303.0L1164.5 1306.6L1173.4 1315.4L1180.4 1324.2L1189.3 1329.6L1178.7 1340.2L1176.9 1356.1L1178.7 1363.2M1021.2 1257.0L1022.9 1267.6L1015.9 1281.8L1008.8 1295.9L996.4 1301.2L992.9 1310.1L991.1 1324.2L996.4 1334.9L1003.5 1345.5L1014.1 1352.6L1028.2 1357.9L1038.9 1363.2L1049.5 1366.7M1003.5 1345.5L996.4 1352.6L987.5 1352.6L968.1 1372.0L961.0 1373.8M1067.2 1272.9L1084.9 1283.5L1102.6 1280.0L1115.0 1281.8L1109.7 1292.4L1106.1 1306.6L1104.3 1317.2L1099.0 1327.8L1092.0 1334.9L1060.1 1334.9M1060.1 1295.9L1076.0 1299.5L1092.0 1304.8L1106.1 1306.6M1058.3 1324.2L1070.7 1320.7L1084.9 1318.9L1099.0 1320.7M1116.7 1283.5L1120.3 1299.5L1127.4 1304.8L1145.1 1303.0L1148.6 1297.7M1145.1 1303.0L1146.8 1313.6L1138.0 1320.7L1130.9 1327.8L1134.4 1338.4L1138.0 1343.7M1099.0 1334.9L1113.2 1331.3L1127.4 1324.2L1130.9 1327.8M1134.4 1338.4L1152.1 1329.6L1164.5 1327.8L1176.9 1327.8L1189.3 1329.6M1138.0 1343.7L1153.9 1345.5L1166.3 1341.9L1176.9 1334.9L1189.3 1329.6M1051.3 1341.9L1063.6 1338.4L1074.3 1338.4L1084.9 1341.9L1095.5 1347.3L1102.6 1356.1L1102.6 1370.3L1100.8 1384.4M1084.9 1341.9L1081.3 1349.0L1084.9 1356.1L1088.4 1366.7L1086.7 1377.3M1053.0 1357.9L1067.2 1361.4L1084.9 1359.6L1100.8 1357.9M1102.6 1349.0L1116.7 1349.0L1127.4 1345.5L1138.0 1343.7M1134.4 1345.5L1130.9 1356.1L1127.4 1366.7L1125.6 1377.3L1130.9 1388.0M1106.1 1373.8L1116.7 1370.3L1127.4 1366.7M1155.7 1350.8L1150.4 1363.2L1150.4 1384.4M1166.3 1345.5L1155.7 1350.8L1148.6 1359.6L1138.0 1366.7L1129.1 1380.9M961.0 1271.2L966.3 1276.5L961.0 1285.3M961.0 1326.0L968.1 1333.1L961.0 1341.9M712.7 1529.0L708.7 1545.3L710.7 1559.6L712.7 1580.0L702.5 1588.2L704.6 1606.6L710.7 1618.8L708.7 1635.2L716.8 1645.4L727.0 1649.5L720.9 1659.7L708.7 1657.6L716.8 1667.8L725.0 1671.9L716.8 1680.1L710.7 1686.2L712.7 1700.5L710.7 1712.7L706.6 1727.0L698.5 1735.2L692.3 1745.4L696.4 1753.6L688.2 1765.8L669.9 1778.1L674.0 1786.2L667.8 1800.7M712.7 1581.1L882.2 1581.1M712.7 1690.3L818.9 1690.3M708.7 1545.3L720.9 1555.5L733.2 1549.4L741.3 1541.2L753.6 1537.2L756.6 1529.0M659.7 1535.1L676.0 1537.2L692.3 1545.3L706.6 1545.3M678.0 1625.0L692.3 1629.0L704.6 1635.2L710.7 1643.3M923.0 1529.0L925.1 1541.2L929.2 1547.4M667.8 1790.0L671.9 1806.3L676.0 1816.5L692.3 1816.5L700.5 1820.6L696.4 1830.8L698.5 1841.0L704.6 1849.2L710.7 1853.3L782.2 1853.3L799.5 1862.5M791.3 1870.6L791.3 1930.9M798.5 1861.5L782.2 1862.5L771.9 1866.6L761.7 1870.6L753.6 1869.6L741.3 1871.7L733.2 1875.7L729.1 1886.0L731.1 1896.2L741.3 1900.2L749.5 1904.3L755.6 1916.6L769.9 1920.7L782.2 1922.7M765.8 1843.1L778.1 1841.0L784.2 1847.2M714.1 141.6L707.2 155.3L703.8 167.3L690.1 184.4L683.3 199.8L690.1 213.5L695.3 227.1L700.4 240.8L715.8 237.4L738.0 239.1L757.0 234.0M621.7 145.0L632.0 160.4L635.4 175.8L637.1 192.9L626.8 206.6L632.0 216.9L640.5 227.1L644.0 240.8L649.1 249.4L638.8 266.5L637.1 278.4M611.5 179.3L621.7 186.1L625.1 199.8L621.7 210.0L626.8 220.3L611.5 227.1L604.6 237.4L594.4 239.1L589.2 228.8L594.4 206.6L597.8 196.4M582.4 251.1L577.3 257.9L584.1 268.2L594.4 271.6L601.2 281.9L604.6 290.4L614.9 285.3L625.1 283.6L637.1 278.4L644.0 268.2L652.5 254.5L655.9 246.0M655.9 169.0L652.5 155.3L662.8 146.8L664.5 133.1L673.0 146.8L679.9 160.4L674.7 177.5L669.6 189.5L666.2 206.6L669.6 223.7L662.8 228.8M659.3 175.8L655.9 189.5L659.3 206.6L661.1 223.7L662.8 228.8L655.9 246.0M679.9 189.5L686.7 206.6L683.3 216.9L688.4 232.3L683.3 240.8L690.1 249.4L685.0 264.8L673.0 275.0L664.5 281.9L652.5 276.7L644.0 268.2M700.4 240.8L698.7 252.8L707.2 249.4L724.3 246.0L741.4 251.1L757.0 254.5M698.7 268.2L707.2 273.3L724.3 268.2L741.4 266.5L757.0 269.9M698.7 252.8L695.3 268.2L691.8 283.6L683.3 292.1L679.9 305.8L683.3 319.5L698.7 321.2L715.8 316.1L727.8 309.2M727.8 309.2L729.5 360.5M727.8 309.2L738.0 300.7L748.3 295.5L757.0 292.1M637.1 278.4L635.4 292.1L633.7 309.2L632.0 322.9L644.0 326.3L650.8 317.8L652.5 307.5L655.9 319.5L666.2 317.8L676.4 324.6L679.9 319.5M604.6 290.4L599.5 300.7L604.6 309.2L608.0 322.9L604.6 338.3L601.2 353.7L608.0 360.5L618.3 350.3L628.6 346.9L632.0 340.0L638.8 329.8L644.0 326.3M570.4 341.7L582.4 331.5L587.5 321.2L597.8 305.8L604.6 295.5M563.6 357.1L573.8 353.7L587.5 355.4L597.8 348.6L604.6 357.1M644.0 326.3L638.8 343.4L635.4 357.1L638.8 370.8L642.2 384.5L655.9 391.3L662.8 398.2M635.4 357.1L621.7 370.8L611.5 381.1L597.8 377.6L587.5 384.5L590.9 398.2L597.8 408.4M662.8 367.4L681.6 364.0L698.7 362.2L715.8 360.5L729.5 360.5L741.4 364.0L757.0 370.8M662.8 367.4L666.2 384.5L662.8 398.2L673.0 405.0L683.3 411.8L693.5 408.4L707.2 420.4L717.5 428.9M717.5 428.9L717.5 408.4L724.3 391.3L741.4 393.0L757.0 381.1M553.3 370.8L560.1 381.1L570.4 384.5L575.5 398.2L577.3 408.4L587.5 411.8M536.2 384.5L549.9 394.7L558.4 411.8L570.4 420.4L573.8 428.9L584.1 435.8M597.8 408.4L611.5 415.3L621.7 422.1L632.0 432.4L638.8 441.1M577.3 408.4L573.8 422.1L577.3 434.1L590.9 441.1M757.0 201.5L770.7 204.9L782.7 216.9L789.5 208.3L791.2 199.8L792.9 189.5L786.1 179.3L774.1 177.5L757.0 181.0M789.5 208.3L804.9 206.6L815.1 216.9L825.4 225.4L845.9 230.6L849.4 230.6M804.9 206.6L808.3 192.9L811.7 179.3L808.3 172.4M757.0 223.7L774.1 220.3L786.1 223.7L804.9 222.0L815.1 216.9M832.3 182.7L842.5 186.1L845.9 172.4M866.5 172.4L876.7 186.1L887.0 196.4L880.1 206.6L876.7 220.3L866.5 227.1L849.4 230.6M849.4 230.6L839.1 240.8L830.5 251.1L830.5 264.8L822.0 273.3M757.0 275.0L774.1 271.6L791.2 269.9L808.3 268.2L822.0 273.3M875.0 222.0L887.0 230.6L897.2 223.7L910.9 220.3L928.0 213.5L945.1 206.6L958.8 199.8L960.5 192.9L952.0 184.4L952.0 175.8M910.9 172.4L910.9 186.1L924.6 196.4L934.9 204.9L945.1 206.6M969.1 206.6L975.9 216.9L993.0 230.6L996.4 240.8L999.9 249.4L984.5 256.2L979.3 266.5L977.6 278.4L986.2 288.7L996.4 299.0L989.6 309.2L975.9 319.5L958.8 326.3L945.1 328.0L938.3 341.7L928.0 334.9L914.3 331.5L902.4 328.0L892.1 326.3M822.0 273.3L815.1 288.7L811.7 305.8L813.4 326.3L822.0 346.9L811.7 364.0L825.4 377.6L832.3 405.0L842.5 411.8L852.8 418.7L869.9 415.3L876.7 410.1L893.8 405.0L907.5 394.7L910.9 386.2L924.6 377.6M822.0 273.3L828.8 283.6L845.9 281.9L859.6 275.0L868.2 275.0L876.7 285.3L876.7 299.0L883.6 309.2L892.1 319.5L892.1 326.3M892.1 326.3L902.4 340.0L907.5 357.1L910.9 370.8L924.6 377.6L938.3 384.5L945.1 398.2L948.5 411.8L946.8 441.1M757.0 341.7L774.1 340.0L791.2 333.2L811.7 331.5M757.0 393.0L774.1 393.0L799.8 393.0L804.9 386.2L822.0 381.1M757.0 415.3L770.7 411.8L779.2 417.0L777.5 423.8L757.0 425.5M986.2 288.7L1003.3 295.5L1012.0 299.0M999.9 249.4L1012.0 246.0M993.0 230.6L1003.3 227.1L1012.0 223.7M757.0 155.3L777.5 158.7L794.6 155.3L803.2 153.6M779.2 126.2L784.4 146.8L779.2 160.4M1197.1 482.9L1212.0 477.5L1224.8 467.9L1233.3 457.3L1239.7 449.8L1246.1 444.5L1258.9 442.3L1268.5 442.3M1239.7 457.3L1246.1 473.3L1250.4 481.8L1244.0 491.4L1254.6 494.6L1263.2 487.1L1273.8 491.4L1282.3 482.9L1290.9 477.5L1300.5 471.1L1307.9 465.8M1273.8 512.7L1280.2 506.3L1286.6 492.5L1297.3 481.8L1304.7 478.6M1269.6 432.8L1279.1 429.6L1275.9 435.9L1284.5 438.1M1258.9 421.0L1264.2 416.8L1264.2 438.1L1244.0 437.0L1258.9 421.0L1261.0 435.9L1254.6 433.8L1263.2 425.3M1248.2 382.6L1256.8 382.6L1260.0 388.0M1212.0 481.8L1224.8 474.3L1235.4 462.6L1244.0 453.0M1248.2 478.6L1256.8 481.8L1261.0 489.3L1269.6 489.3L1275.9 485.0M502.0 411.8L524.2 394.7L533.6 377.6L543.9 367.4L553.3 360.5L561.9 350.3L570.4 341.7L573.8 333.2L565.3 324.6L569.6 309.2L567.8 292.1L563.6 288.7L570.4 281.9L565.3 268.2L563.6 257.9L558.4 249.4L554.2 240.8L556.7 231.4L565.3 230.6L570.4 223.7L565.3 206.6L568.7 203.2L577.3 213.5L585.8 222.0L580.7 210.0L579.0 206.6L594.4 196.4L604.6 184.4L611.5 179.3L611.5 163.9L614.9 151.9L621.7 145.0L632.8 137.4L644.0 141.6L650.8 131.4L673.0 129.7L686.7 121.1L700.4 114.3L703.8 104.0L727.8 104.0L729.5 112.6L722.6 119.4L712.4 124.5L707.2 129.7L714.1 141.6L722.6 138.2L732.9 134.8L748.3 131.4L750.0 114.3L757.0 107.4L758.7 107.4L763.8 126.2L779.2 126.2L791.2 131.4L799.8 138.2L802.3 145.0L803.2 153.6L816.9 153.6L834.0 151.9L852.8 150.2L859.6 155.3L868.2 162.1L883.6 163.9L893.8 158.7L902.4 153.6L900.7 143.3L910.9 136.5L916.1 139.9L917.8 148.5L928.0 148.5L945.1 146.8L965.7 148.5L962.2 152.7L945.1 153.6L948.5 162.1L962.2 169.0L977.6 172.4L987.9 179.3L996.4 192.9L999.9 203.2L1012.0 206.6L1012.0 209.9L1024.4 215.4L1035.4 223.6L1045.0 233.2L1051.9 241.5L1053.2 248.4L1062.9 253.9L1071.1 260.7L1080.7 270.4L1086.2 275.8L1100.0 277.2L1113.7 280.0L1122.0 275.8L1135.7 275.8L1149.5 275.8L1167.3 280.0L1164.6 289.6L1157.7 299.2L1152.2 307.5L1155.0 318.5L1157.7 329.5L1164.6 337.7L1166.0 344.6L1160.5 352.8L1160.5 362.5L1156.3 369.3L1152.2 376.2L1157.7 380.3L1170.1 376.2L1182.5 376.2L1190.7 380.3L1197.6 374.8L1203.1 362.5L1207.2 352.8L1214.1 340.5L1219.6 332.2L1225.8 328.1L1226.4 319.8L1231.9 319.8L1237.4 328.1L1240.2 341.8L1242.9 355.6L1245.7 365.2L1249.8 376.2L1253.9 381.7L1259.4 385.8L1260.8 389.9L1267.0 391.3L1267.0 392.0L1271.1 403.5L1268.7 420.1L1267.0 433.3L1280.2 430.0L1272.0 438.3L1283.5 443.2L1308.3 446.5L1309.2 451.5L1316.6 456.5L1324.9 454.8L1346.4 459.8L1364.6 466.4L1374.5 471.3L1386.1 476.3L1396.0 473.8L1399.3 482.9L1407.6 492.8L1410.9 502.8L1412.5 509.4L1405.9 519.3L1400.9 529.2L1410.9 517.6L1415.8 509.4L1429.1 501.1L1448.9 506.1L1462.1 514.3L1482.0 517.6L1498.5 517.6L1522.0 514.3L1522.0 517.1L1536.2 527.0L1550.4 535.5L1563.2 542.6L1570.3 552.6L1581.7 562.5L1593.1 569.6L1604.4 576.7L1621.5 577.5L1635.7 578.2L1642.8 585.3L1647.1 596.6L1649.9 610.9L1651.3 627.9L1650.6 649.2L1649.9 670.5L1645.6 684.8L1638.5 696.1L1630.0 704.7L1621.5 713.2L1613.0 724.6L1601.6 733.1L1593.1 744.4L1586.0 755.8L1578.8 770.0L1574.6 780.1L1574.4 772.2L1563.4 788.8L1552.4 783.2L1548.2 799.8L1544.1 813.6L1548.2 827.4L1548.2 855.0L1551.0 871.6L1546.8 888.1L1542.7 910.2L1544.1 921.2L1533.0 926.8L1527.5 937.8L1528.9 965.4L1530.3 982.0L1518.6 985.0L1514.1 994.0L1506.7 1004.5L1500.7 1013.5L1496.2 1020.9L1497.7 1029.9L1498.4 1038.9L1488.7 1043.4L1479.7 1047.9L1473.7 1055.4L1475.2 1059.9L1470.7 1064.4L1458.7 1062.9L1446.7 1062.9L1443.7 1056.9L1439.3 1058.4L1437.8 1064.4L1425.8 1065.9L1413.8 1070.4L1407.8 1073.4L1398.8 1077.9L1389.8 1083.9L1388.3 1091.3L1383.8 1089.9L1377.8 1086.9L1365.9 1089.9L1356.9 1095.8L1347.9 1103.3L1338.9 1109.3L1329.9 1115.3L1320.9 1122.8L1313.4 1128.8L1305.9 1137.8L1302.9 1146.8L1304.4 1154.3L1301.5 1164.7L1302.9 1176.7L1307.4 1187.2L1304.4 1197.7L1301.5 1209.7L1298.5 1218.7L1288.0 1224.7L1279.0 1232.1L1271.5 1242.6L1267.0 1251.6L1264.5 1257.0L1260.1 1267.6L1251.2 1281.8L1237.1 1294.2L1222.9 1304.8L1212.3 1313.6L1207.0 1327.8L1201.7 1340.2L1191.1 1349.0L1180.4 1357.9L1176.9 1366.7L1169.8 1377.3L1155.7 1384.4L1141.5 1391.5L1130.9 1388.0L1116.7 1388.0L1109.7 1389.7L1099.0 1384.4L1088.4 1379.1L1077.8 1377.3L1067.2 1379.1L1058.3 1372.0L1053.0 1372.0L1051.3 1380.9L1060.1 1384.4L1074.3 1391.5L1084.9 1398.6L1084.9 1405.7L1079.6 1412.7L1081.3 1419.8L1088.4 1425.1L1095.5 1426.9L1098.2 1441.1L1092.0 1451.7L1084.9 1460.5L1076.0 1469.4L1074.3 1478.2L1060.1 1485.3L1042.4 1490.6L1021.2 1495.9L996.4 1499.5L975.2 1501.2L961.0 1501.2L961.0 1501.2L952.9 1504.8L951.1 1513.6L956.4 1522.5L954.6 1528.7L954.7 1529.0L961.8 1539.2L945.5 1553.5L925.1 1559.6L912.8 1557.6L896.5 1549.4L884.2 1547.4L880.2 1555.5L882.2 1569.8L884.2 1580.0L892.4 1586.2L904.7 1586.2L916.9 1582.1L923.0 1590.2L921.0 1600.5L908.7 1606.6L900.6 1602.5L892.4 1598.4L884.2 1600.5L902.6 1608.6L888.3 1614.7L880.2 1625.0L874.0 1635.2L878.1 1647.4L872.0 1655.6L863.8 1659.7L869.9 1663.7L859.7 1665.8L843.4 1669.9L831.2 1676.0L823.0 1686.2L816.9 1694.4L818.9 1702.5L829.1 1710.7L839.3 1718.9L853.6 1718.9L863.8 1722.9L865.9 1733.2L861.8 1743.4L851.6 1745.4L859.7 1747.4L843.4 1755.6L831.2 1763.8L820.9 1774.0L812.8 1784.2L810.7 1794.4L814.8 1800.7L815.8 1790.0L814.8 1800.2L802.6 1804.3L786.2 1810.4L780.1 1818.6L779.1 1826.7L771.9 1827.8L780.1 1830.8L784.2 1841.0L790.3 1851.2L798.5 1861.5L790.3 1865.5L784.2 1869.6L792.4 1871.7L798.5 1877.8L802.6 1883.9L796.4 1890.0L804.6 1890.0L810.7 1898.2L823.0 1906.4L839.3 1914.5L851.6 1920.7L867.9 1924.7L880.2 1925.8L878.1 1930.9L863.8 1932.9L843.4 1935.0L823.0 1932.9L810.7 1932.9L808.7 1937.0L823.0 1939.0L843.4 1941.1L847.5 1943.1L833.2 1945.2L814.8 1947.2L802.6 1951.3L802.6 1951.3L802.6 1941.1L782.2 1932.9L761.7 1922.7L753.6 1912.5L737.2 1904.3L720.9 1896.2L712.7 1881.9L700.5 1871.7L692.3 1857.4L676.0 1847.2L665.8 1830.8L661.7 1810.4L659.7 1790.0L659.7 1800.7L663.7 1774.0L667.8 1753.6L663.7 1733.2L659.7 1725.0L645.4 1718.9L627.0 1714.8L618.8 1708.7L639.2 1704.6L663.7 1700.5L671.9 1684.2L684.2 1671.9L676.0 1651.5L674.0 1635.2L678.0 1625.0L678.0 1614.7L684.2 1598.4L692.3 1582.1L698.5 1567.8L684.2 1571.9L671.9 1580.0L674.0 1596.4L663.7 1616.8L645.4 1614.7L648.4 1596.4L651.5 1578.0L659.7 1565.7L656.6 1549.4L659.7 1529.0L660.9 1528.7L669.7 1518.9L675.0 1510.1L669.7 1501.2L667.0 1487.1L664.4 1474.7L661.7 1462.3L662.6 1449.9L669.7 1444.6L675.0 1435.7L680.3 1430.4L687.4 1416.3L689.2 1407.4L698.0 1396.8L705.1 1384.4L703.3 1373.8L706.9 1363.2L712.2 1352.6L710.4 1340.2L715.7 1333.1L719.3 1317.2L717.5 1306.6L713.9 1283.5L713.1 1262.3L721.0 1257.0L722.3 1256.7L721.5 1249.2L722.3 1239.5L717.4 1229.7L719.0 1221.5L725.6 1210.1L727.2 1195.4L732.1 1185.6L733.7 1172.6L738.6 1156.3L737.8 1143.2L738.6 1136.7L746.8 1123.6L742.7 1115.5L743.5 1099.2L745.1 1082.9L740.3 1076.3L743.5 1064.9L748.4 1050.2L753.3 1033.9L751.7 1017.6L753.3 1001.3L752.5 985.0L753.1 985.0L750.4 968.3L749.0 954.5L747.6 940.7L739.3 933.8L729.7 925.5L721.4 921.4L717.3 913.1L706.2 906.2L697.9 900.7L688.3 893.8L675.9 888.2L664.8 881.3L653.8 875.8L644.1 870.3L633.1 863.4L623.4 857.9L617.9 851.0L611.0 842.7L604.1 837.2L598.6 828.9L595.8 822.0L590.3 816.5L598.6 812.4L597.2 802.7L590.3 794.4L584.8 783.4L579.3 773.7L571.0 768.2L575.1 759.9L569.6 753.0L561.3 744.7L557.2 732.3L553.1 724.0L546.2 713.0L548.9 712.7L545.6 705.2L539.1 697.1L535.8 687.3L530.9 677.5L527.7 666.1L519.5 654.7L513.0 644.9L506.5 631.8L499.9 622.1L490.1 613.9L480.4 617.2L478.7 610.6L472.2 605.7L472.2 599.2L478.7 597.6L477.1 591.1L470.6 584.5L472.2 576.4L467.3 571.5L466.5 561.7L472.2 551.9L480.4 540.5L488.5 532.3L499.9 527.4L498.3 522.6L493.4 517.7L491.8 506.2L483.6 504.6L475.5 499.7L483.6 489.9L482.0 483.4L478.7 473.6L478.7 465.5L490.1 458.9L488.5 450.8L493.4 441.0ZM715.8 158.7L726.0 172.4L727.8 181.0L722.6 189.5L715.8 191.2L708.9 184.4L703.8 182.7L702.1 172.4L707.2 165.6ZM1247.7 1267.6L1244.2 1276.5L1237.1 1283.5L1226.5 1292.4L1217.6 1301.2L1215.8 1297.7L1222.9 1290.6L1231.8 1280.0L1238.8 1271.2L1244.2 1265.8ZM771.9 1863.5L788.3 1864.5L784.2 1870.6L774.0 1869.6ZM739.3 1875.7L747.5 1877.8L741.3 1896.2L733.2 1892.1Z" fill="none" stroke="#808080" stroke-width="4.2" stroke-linejoin="round" stroke-linecap="round"/>
<g fill="#808080"><circle cx="816.0" cy="113.4" r="2.6"/><circle cx="839.9" cy="119.4" r="4.3"/><circle cx="854.5" cy="119.4" r="2.6"/><circle cx="893.8" cy="117.7" r="3.1"/><circle cx="875.9" cy="143.3" r="4.3"/><circle cx="656.4" cy="1482.6" r="2.7"/><circle cx="635.2" cy="1625.0" r="4.1"/><circle cx="626.0" cy="1658.6" r="3.7"/><circle cx="635.2" cy="1651.5" r="2.4"/><circle cx="680.1" cy="1573.9" r="2.4"/><circle cx="676.0" cy="1589.2" r="2.4"/><circle cx="893.4" cy="1929.8" r="3.7"/><circle cx="901.6" cy="1929.2" r="3.7"/><circle cx="909.8" cy="1928.8" r="3.1"/><circle cx="212" cy="428" r="7"/><circle cx="222" cy="437" r="5"/><circle cx="202" cy="418" r="4"/><circle cx="236" cy="446" r="4"/><circle cx="255" cy="431" r="4"/><circle cx="262" cy="428" r="3"/><circle cx="232" cy="404" r="3"/><circle cx="459" cy="333" r="3"/><circle cx="501" cy="1155" r="3"/><circle cx="482" cy="1357" r="3"/><circle cx="530" cy="1354" r="4"/></g>
<g stroke="#808080" stroke-width="3.6"><ellipse cx="648.4" cy="1622.8" rx="4.9" ry="4.2" fill="#808080"/><ellipse cx="642.6" cy="1627.6" rx="5.1" ry="6.3" fill="#808080"/><ellipse cx="652.2" cy="1630.5" rx="4.0" ry="3.3" fill="#313695"/><ellipse cx="662.1" cy="1628.6" rx="3.0" ry="2.4" fill="#808080"/><ellipse cx="669.0" cy="1632.7" rx="6.4" ry="7.3" fill="#808080"/><ellipse cx="639.3" cy="1639.2" rx="3.6" ry="3.3" fill="#808080"/><ellipse cx="654.3" cy="1640.4" rx="5.6" ry="4.4" fill="#808080"/><ellipse cx="660.6" cy="1638.3" rx="3.4" ry="2.8" fill="#808080"/><ellipse cx="671.4" cy="1638.7" rx="5.6" ry="6.8" fill="none"/><ellipse cx="630.6" cy="1651.9" rx="3.7" ry="4.0" fill="#808080"/><ellipse cx="642.3" cy="1648.6" rx="4.0" ry="4.9" fill="#313695"/><ellipse cx="651.2" cy="1649.7" rx="6.0" ry="5.5" fill="#313695"/><ellipse cx="671.4" cy="1648.9" rx="6.5" ry="6.8" fill="#808080"/><ellipse cx="623.0" cy="1660.5" rx="3.6" ry="2.5" fill="#808080"/><ellipse cx="633.9" cy="1660.7" rx="4.7" ry="3.3" fill="#808080"/><ellipse cx="642.7" cy="1660.6" rx="5.9" ry="4.8" fill="#808080"/><ellipse cx="650.6" cy="1656.9" rx="6.8" ry="6.1" fill="#808080"/><ellipse cx="659.5" cy="1661.6" rx="6.9" ry="7.0" fill="#808080"/><ellipse cx="672.8" cy="1660.3" rx="4.7" ry="4.5" fill="#808080"/><ellipse cx="635.1" cy="1666.9" rx="5.7" ry="6.1" fill="#808080"/><ellipse cx="644.7" cy="1667.4" rx="3.8" ry="3.2" fill="#313695"/><ellipse cx="653.9" cy="1670.4" rx="5.4" ry="5.7" fill="#808080"/><ellipse cx="670.2" cy="1669.1" rx="3.7" ry="3.5" fill="#313695"/><ellipse cx="681.5" cy="1670.3" rx="3.5" ry="4.1" fill="#808080"/><ellipse cx="634.9" cy="1675.2" rx="3.1" ry="2.6" fill="#808080"/><ellipse cx="640.0" cy="1678.3" rx="5.4" ry="5.9" fill="none"/><ellipse cx="661.1" cy="1679.7" rx="5.4" ry="5.7" fill="none"/><ellipse cx="630.1" cy="1688.1" rx="4.3" ry="5.0" fill="#808080"/><ellipse cx="639.7" cy="1689.0" rx="3.8" ry="4.1" fill="#808080"/><ellipse cx="652.1" cy="1684.9" rx="5.5" ry="6.5" fill="#808080"/><ellipse cx="659.9" cy="1688.7" rx="6.6" ry="4.7" fill="none"/><ellipse cx="639.5" cy="1696.2" rx="5.6" ry="5.2" fill="#808080"/><ellipse cx="615.6" cy="1714.3" rx="3.5" ry="2.6" fill="none"/><ellipse cx="619.8" cy="1724.2" rx="4.5" ry="4.5" fill="#313695"/><ellipse cx="629.2" cy="1720.4" rx="5.1" ry="6.4" fill="#808080"/><ellipse cx="634.9" cy="1720.3" rx="5.6" ry="7.2" fill="#808080"/><ellipse cx="649.3" cy="1724.3" rx="4.6" ry="3.7" fill="#808080"/><ellipse cx="627.9" cy="1731.1" rx="5.9" ry="7.1" fill="#808080"/><ellipse cx="639.6" cy="1731.1" rx="6.0" ry="4.8" fill="#808080"/><ellipse cx="619.6" cy="1739.4" rx="3.9" ry="2.9" fill="#808080"/><ellipse cx="627.5" cy="1738.4" rx="4.2" ry="4.1" fill="#808080"/><ellipse cx="634.5" cy="1744.2" rx="6.7" ry="6.2" fill="#808080"/><ellipse cx="645.0" cy="1739.0" rx="5.0" ry="4.0" fill="none"/><ellipse cx="658.3" cy="1741.1" rx="5.7" ry="5.8" fill="#808080"/><ellipse cx="617.5" cy="1752.5" rx="3.7" ry="2.9" fill="none"/><ellipse cx="630.5" cy="1753.4" rx="6.9" ry="6.9" fill="#808080"/><ellipse cx="637.1" cy="1753.2" rx="4.3" ry="3.2" fill="#808080"/><ellipse cx="645.0" cy="1750.5" rx="6.0" ry="7.0" fill="#808080"/><ellipse cx="657.4" cy="1752.8" rx="5.9" ry="4.8" fill="#808080"/><ellipse cx="611.1" cy="1760.8" rx="6.7" ry="6.8" fill="none"/><ellipse cx="615.7" cy="1763.0" rx="6.2" ry="7.3" fill="#808080"/><ellipse cx="636.7" cy="1759.7" rx="6.3" ry="7.0" fill="#808080"/><ellipse cx="644.9" cy="1760.6" rx="3.3" ry="2.3" fill="#808080"/><ellipse cx="658.9" cy="1760.1" rx="5.9" ry="6.7" fill="#808080"/><ellipse cx="663.1" cy="1760.6" rx="6.7" ry="6.5" fill="#313695"/><ellipse cx="615.6" cy="1770.3" rx="3.8" ry="3.1" fill="#808080"/><ellipse cx="627.3" cy="1771.2" rx="5.2" ry="5.1" fill="#808080"/><ellipse cx="637.8" cy="1771.7" rx="5.6" ry="5.8" fill="#808080"/><ellipse cx="646.0" cy="1771.2" rx="4.9" ry="4.9" fill="#808080"/><ellipse cx="655.2" cy="1771.7" rx="6.4" ry="6.2" fill="#808080"/><ellipse cx="618.6" cy="1779.6" rx="5.7" ry="5.4" fill="#808080"/><ellipse cx="625.7" cy="1778.0" rx="4.7" ry="4.3" fill="#808080"/><ellipse cx="636.8" cy="1778.5" rx="6.8" ry="6.3" fill="#808080"/><ellipse cx="645.2" cy="1781.5" rx="5.7" ry="7.0" fill="#313695"/><ellipse cx="655.0" cy="1779.2" rx="4.7" ry="5.6" fill="#808080"/><ellipse cx="618.4" cy="1787.0" rx="5.8" ry="4.3" fill="#808080"/><ellipse cx="629.0" cy="1790.6" rx="3.2" ry="2.8" fill="#808080"/><ellipse cx="638.0" cy="1788.0" rx="4.0" ry="4.1" fill="#808080"/><ellipse cx="654.9" cy="1787.6" rx="3.3" ry="3.8" fill="#808080"/><ellipse cx="628.6" cy="1799.0" rx="6.0" ry="5.1" fill="#808080"/><ellipse cx="636.7" cy="1798.2" rx="4.8" ry="3.7" fill="#808080"/><ellipse cx="644.5" cy="1796.3" rx="6.8" ry="5.5" fill="#313695"/><ellipse cx="654.1" cy="1798.1" rx="4.8" ry="4.2" fill="none"/><ellipse cx="617.6" cy="1791.9" rx="6.7" ry="7.4" fill="#808080"/><ellipse cx="624.9" cy="1791.0" rx="6.1" ry="7.7" fill="#808080"/><ellipse cx="620.0" cy="1797.2" rx="3.1" ry="3.8" fill="#808080"/><ellipse cx="625.1" cy="1798.1" rx="5.4" ry="5.9" fill="#808080"/><ellipse cx="636.9" cy="1801.7" rx="6.0" ry="6.9" fill="#808080"/><ellipse cx="645.9" cy="1800.8" rx="4.5" ry="5.8" fill="#313695"/><ellipse cx="657.4" cy="1797.7" rx="4.1" ry="5.0" fill="#808080"/><ellipse cx="628.1" cy="1809.9" rx="5.3" ry="5.6" fill="#808080"/><ellipse cx="638.9" cy="1809.3" rx="5.3" ry="4.3" fill="#808080"/><ellipse cx="647.3" cy="1810.9" rx="5.2" ry="4.9" fill="#808080"/><ellipse cx="654.7" cy="1808.2" rx="5.7" ry="4.4" fill="#808080"/><ellipse cx="617.9" cy="1817.6" rx="4.1" ry="3.7" fill="#313695"/><ellipse cx="629.2" cy="1817.0" rx="6.0" ry="7.4" fill="#808080"/><ellipse cx="639.6" cy="1817.4" rx="4.0" ry="3.9" fill="none"/><ellipse cx="647.2" cy="1821.1" rx="5.8" ry="4.6" fill="#808080"/><ellipse cx="659.0" cy="1819.7" rx="6.6" ry="5.0" fill="#313695"/><ellipse cx="626.4" cy="1829.6" rx="4.3" ry="3.5" fill="#808080"/><ellipse cx="634.8" cy="1829.2" rx="4.2" ry="3.0" fill="#808080"/><ellipse cx="646.0" cy="1828.5" rx="4.4" ry="4.6" fill="#808080"/><ellipse cx="654.0" cy="1829.2" rx="6.9" ry="5.9" fill="#808080"/><ellipse cx="663.8" cy="1830.9" rx="5.4" ry="6.9" fill="#808080"/><ellipse cx="627.9" cy="1838.2" rx="4.0" ry="5.1" fill="#808080"/><ellipse cx="639.0" cy="1838.3" rx="3.1" ry="2.3" fill="#808080"/><ellipse cx="644.4" cy="1838.7" rx="6.1" ry="5.0" fill="#808080"/><ellipse cx="664.1" cy="1839.7" rx="4.2" ry="3.0" fill="#808080"/><ellipse cx="625.0" cy="1845.5" rx="5.2" ry="5.2" fill="#808080"/><ellipse cx="635.9" cy="1847.9" rx="6.6" ry="6.6" fill="#808080"/><ellipse cx="646.4" cy="1849.2" rx="6.2" ry="7.0" fill="#808080"/><ellipse cx="662.9" cy="1848.8" rx="4.5" ry="3.3" fill="#808080"/><ellipse cx="673.7" cy="1847.7" rx="5.7" ry="7.3" fill="#808080"/><ellipse cx="629.9" cy="1857.5" rx="3.5" ry="2.5" fill="#808080"/><ellipse cx="635.9" cy="1859.3" rx="3.6" ry="2.7" fill="#808080"/><ellipse cx="646.5" cy="1857.1" rx="3.4" ry="4.1" fill="#808080"/><ellipse cx="656.5" cy="1854.3" rx="5.5" ry="6.7" fill="#808080"/><ellipse cx="665.0" cy="1856.6" rx="5.3" ry="6.0" fill="#808080"/><ellipse cx="673.7" cy="1859.5" rx="4.7" ry="5.5" fill="#808080"/><ellipse cx="682.7" cy="1857.3" rx="5.1" ry="5.0" fill="#808080"/><ellipse cx="636.8" cy="1863.9" rx="4.2" ry="4.8" fill="#808080"/><ellipse cx="648.8" cy="1863.4" rx="6.9" ry="8.1" fill="#808080"/><ellipse cx="653.7" cy="1868.2" rx="6.6" ry="8.0" fill="#808080"/><ellipse cx="663.0" cy="1867.3" rx="4.1" ry="4.3" fill="#808080"/><ellipse cx="675.9" cy="1868.6" rx="3.8" ry="4.5" fill="#808080"/><ellipse cx="684.9" cy="1866.1" rx="5.6" ry="4.2" fill="#808080"/><ellipse cx="693.9" cy="1868.3" rx="3.2" ry="3.0" fill="#808080"/><ellipse cx="638.9" cy="1873.5" rx="5.0" ry="3.7" fill="#808080"/><ellipse cx="646.7" cy="1878.0" rx="4.0" ry="3.6" fill="#808080"/><ellipse cx="658.7" cy="1873.0" rx="3.3" ry="2.9" fill="#808080"/><ellipse cx="673.7" cy="1872.5" rx="6.9" ry="5.0" fill="#808080"/><ellipse cx="695.4" cy="1877.7" rx="4.4" ry="5.0" fill="#313695"/><ellipse cx="647.9" cy="1887.6" rx="4.4" ry="4.9" fill="#313695"/><ellipse cx="659.0" cy="1882.1" rx="3.7" ry="3.8" fill="#808080"/><ellipse cx="666.3" cy="1887.9" rx="4.6" ry="4.5" fill="#808080"/><ellipse cx="674.6" cy="1884.2" rx="4.1" ry="3.3" fill="#808080"/><ellipse cx="684.3" cy="1883.8" rx="6.4" ry="6.8" fill="#808080"/><ellipse cx="696.5" cy="1884.2" rx="4.8" ry="6.1" fill="#808080"/><ellipse cx="701.5" cy="1887.8" rx="6.2" ry="7.6" fill="#808080"/><ellipse cx="712.1" cy="1886.2" rx="5.0" ry="4.1" fill="#808080"/><ellipse cx="655.2" cy="1895.1" rx="5.3" ry="5.2" fill="#313695"/><ellipse cx="663.9" cy="1893.8" rx="5.6" ry="5.1" fill="#808080"/><ellipse cx="672.8" cy="1895.2" rx="6.6" ry="6.0" fill="none"/><ellipse cx="684.6" cy="1892.2" rx="4.1" ry="5.3" fill="#808080"/><ellipse cx="693.3" cy="1896.2" rx="5.3" ry="4.6" fill="#808080"/><ellipse cx="705.6" cy="1896.0" rx="4.2" ry="5.4" fill="#808080"/><ellipse cx="665.7" cy="1903.0" rx="3.6" ry="3.3" fill="#808080"/><ellipse cx="674.7" cy="1906.1" rx="5.7" ry="4.8" fill="#808080"/><ellipse cx="684.7" cy="1901.6" rx="6.8" ry="7.9" fill="#313695"/><ellipse cx="696.3" cy="1904.1" rx="4.8" ry="4.8" fill="#808080"/><ellipse cx="701.8" cy="1902.8" rx="7.0" ry="5.8" fill="#808080"/><ellipse cx="724.7" cy="1904.9" rx="3.8" ry="2.9" fill="#313695"/><ellipse cx="741.8" cy="1906.9" rx="3.6" ry="2.9" fill="#808080"/><ellipse cx="676.8" cy="1911.0" rx="4.9" ry="5.3" fill="#808080"/><ellipse cx="686.0" cy="1911.1" rx="4.2" ry="4.9" fill="#808080"/><ellipse cx="697.1" cy="1914.6" rx="4.2" ry="5.3" fill="#808080"/><ellipse cx="704.2" cy="1912.6" rx="5.5" ry="5.0" fill="#808080"/><ellipse cx="711.3" cy="1910.5" rx="6.4" ry="8.3" fill="#808080"/><ellipse cx="720.0" cy="1912.7" rx="5.6" ry="5.3" fill="#313695"/><ellipse cx="732.9" cy="1914.6" rx="3.8" ry="3.7" fill="#808080"/><ellipse cx="742.9" cy="1913.7" rx="3.9" ry="3.2" fill="#313695"/><ellipse cx="749.3" cy="1913.0" rx="4.5" ry="3.2" fill="#808080"/><ellipse cx="692.7" cy="1922.2" rx="6.3" ry="4.7" fill="#808080"/><ellipse cx="702.5" cy="1921.9" rx="3.0" ry="3.7" fill="#808080"/><ellipse cx="715.3" cy="1923.8" rx="3.9" ry="4.5" fill="#808080"/><ellipse cx="722.7" cy="1921.0" rx="4.5" ry="3.3" fill="#808080"/><ellipse cx="731.6" cy="1922.7" rx="4.5" ry="4.2" fill="#808080"/><ellipse cx="742.3" cy="1923.0" rx="6.2" ry="6.0" fill="#808080"/><ellipse cx="752.4" cy="1924.5" rx="6.2" ry="7.1" fill="#808080"/><ellipse cx="758.6" cy="1924.2" rx="4.0" ry="3.8" fill="none"/><ellipse cx="721.4" cy="1932.7" rx="3.2" ry="4.1" fill="#808080"/><ellipse cx="730.2" cy="1932.0" rx="3.7" ry="4.3" fill="#808080"/><ellipse cx="743.2" cy="1933.6" rx="3.9" ry="4.4" fill="#808080"/><ellipse cx="750.4" cy="1932.2" rx="3.1" ry="2.7" fill="#808080"/><ellipse cx="763.6" cy="1930.9" rx="4.7" ry="3.7" fill="#808080"/><ellipse cx="772.2" cy="1930.7" rx="3.6" ry="3.0" fill="#808080"/><ellipse cx="781.0" cy="1934.5" rx="3.4" ry="3.4" fill="#808080"/><ellipse cx="723.2" cy="1939.5" rx="3.4" ry="4.2" fill="#808080"/><ellipse cx="743.6" cy="1940.4" rx="4.8" ry="6.1" fill="#313695"/><ellipse cx="748.2" cy="1941.0" rx="3.1" ry="2.3" fill="#808080"/><ellipse cx="763.0" cy="1943.1" rx="6.4" ry="5.7" fill="#808080"/><ellipse cx="772.2" cy="1944.6" rx="4.4" ry="5.6" fill="#808080"/><ellipse cx="778.7" cy="1939.5" rx="5.7" ry="5.9" fill="#808080"/><ellipse cx="788.0" cy="1944.5" rx="3.8" ry="3.4" fill="#313695"/><ellipse cx="807.9" cy="1944.8" rx="4.2" ry="3.2" fill="#808080"/><ellipse cx="820.2" cy="1944.0" rx="5.4" ry="6.0" fill="#808080"/><ellipse cx="759.1" cy="1950.3" rx="6.6" ry="5.9" fill="#808080"/><ellipse cx="790.8" cy="1951.3" rx="4.5" ry="4.9" fill="#808080"/><ellipse cx="797.6" cy="1951.7" rx="5.1" ry="6.7" fill="#313695"/></g>
<path d="M246.5 104.3V1952.2M501.7 104.3V1952.2M756.9 104.3V1952.2M1012.1 104.3V1952.2M1267.3 104.3V1952.2M1522.5 104.3V1952.2M205.3 169.1H1653.5M205.3 440.8H1653.5M205.3 712.4H1653.5M205.3 984.1H1653.5M205.3 1255.8H1653.5M205.3 1527.4H1653.5M205.3 1799.1H1653.5" stroke="#b0b0b0" stroke-width="3.1" fill="none"/>
</g>
<path d="M246.5 1952.2v14.6M501.7 1952.2v14.6M756.9 1952.2v14.6M1012.1 1952.2v14.6M1267.3 1952.2v14.6M1522.5 1952.2v14.6M205.3 169.1h-14.6M205.3 440.8h-14.6M205.3 712.4h-14.6M205.3 984.1h-14.6M205.3 1255.8h-14.6M205.3 1527.4h-14.6M205.3 1799.1h-14.6" stroke="#000" stroke-width="3.33" fill="none"/>
<rect x="205.3" y="104.3" width="1448.2" height="1847.9" fill="none" stroke="#000" stroke-width="3.33"/>
<text x="246.5" y="2013.3" font-size="41.67" text-anchor="middle">−90</text>
<text x="501.7" y="2013.3" font-size="41.67" text-anchor="middle">−80</text>
<text x="756.9" y="2013.3" font-size="41.67" text-anchor="middle">−70</text>
<text x="1012.1" y="2013.3" font-size="41.67" text-anchor="middle">−60</text>
<text x="1267.3" y="2013.3" font-size="41.67" text-anchor="middle">−50</text>
<text x="1522.5" y="2013.3" font-size="41.67" text-anchor="middle">−40</text>
<text x="176.1" y="185.5" font-size="41.67" text-anchor="end">10</text>
<text x="176.1" y="457.2" font-size="41.67" text-anchor="end">0</text>
<text x="176.1" y="728.8" font-size="41.67" text-anchor="end">−10</text>
<text x="176.1" y="1000.5" font-size="41.67" text-anchor="end">−20</text>
<text x="176.1" y="1272.2" font-size="41.67" text-anchor="end">−30</text>
<text x="176.1" y="1543.8" font-size="41.67" text-anchor="end">−40</text>
<text x="176.1" y="1815.5" font-size="41.67" text-anchor="end">−50</text>
<text x="929.4" y="2070" font-size="41.67" text-anchor="middle">longitude [degrees_east]</text>
<text transform="translate(60,1028.3) rotate(-90)" font-size="41.67" text-anchor="middle">latitude [degrees_north]</text>
<text x="929.4" y="79.6" font-size="66.67" text-anchor="middle">SAFIRE BI Percentile Forecast (2025-09-30)</text>
<rect x="1746.0" y="187.7" width="92.5" height="560.57" fill="#f88c51"/>
<rect x="1746.0" y="747.77" width="92.5" height="560.57" fill="#fffebe"/>
<rect x="1746.0" y="1307.83" width="92.5" height="560.07" fill="#90c3dd"/>
<path d="M1746.0 187.7L1792.25 104.3L1838.5 187.7Z" fill="#a50026"/>
<path d="M1746.0 1867.9L1792.25 1952.2L1838.5 1867.9Z" fill="#313695"/>
<path d="M1746.0 187.7L1792.25 104.3L1838.5 187.7V1867.9L1792.25 1952.2L1746.0 1867.9Z" fill="none" stroke="#000" stroke-width="3.33" stroke-linejoin="miter"/>
<text x="1867.8" y="204.3" font-size="41.67">97</text>
<text x="1867.8" y="764.4" font-size="41.67">90</text>
<text x="1867.8" y="1324.4" font-size="41.67">80</text>
<text x="1867.8" y="1884.5" font-size="41.67">50</text>
<path d="M1838.5 187.7h14.6M1838.5 747.8h14.6M1838.5 1307.8h14.6M1838.5 1867.9h14.6" stroke="#000" stroke-width="3.33" fill="none"/>
<text transform="translate(1971.2,1033) rotate(-90)" font-size="41.67" text-anchor="middle">biperc</text>
</svg></body></html>
